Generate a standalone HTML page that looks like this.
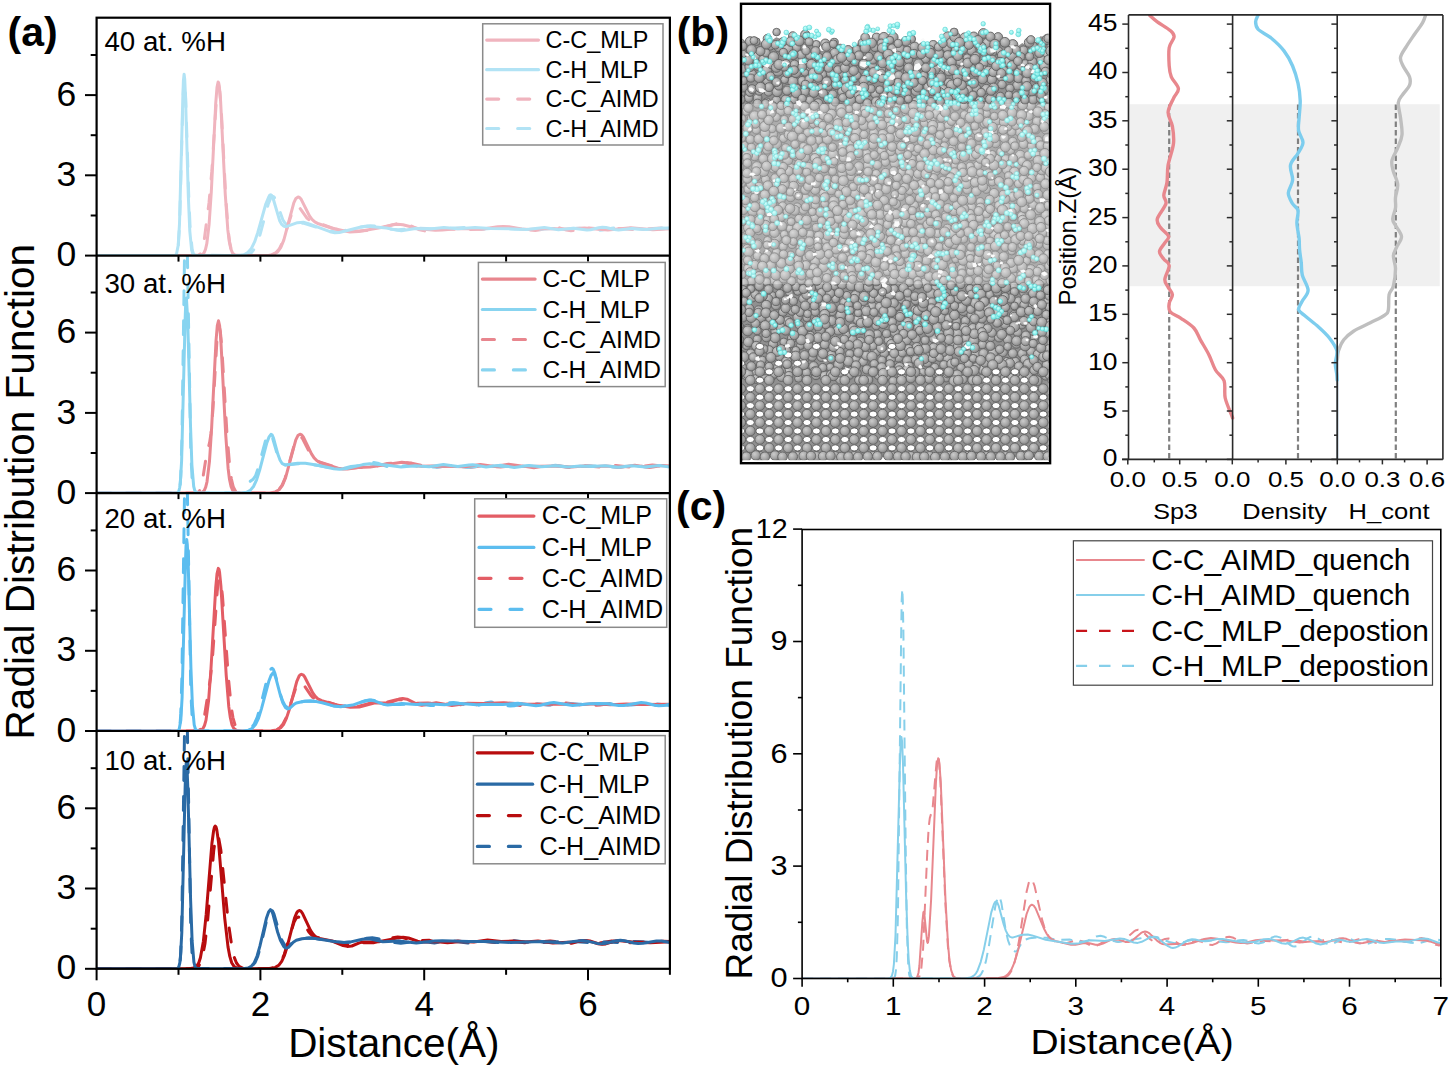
<!DOCTYPE html><html><head><meta charset="utf-8"><style>html,body{margin:0;padding:0;background:#fff;width:1450px;height:1068px;overflow:hidden}svg{display:block}</style></head><body><svg width="1450" height="1068" viewBox="0 0 1450 1068" font-family='"Liberation Sans", sans-serif'>
<rect width="1450" height="1068" fill="#fff"/>
<g id="pb">
<defs><radialGradient id="ga" cx="0.38" cy="0.35" r="0.72"><stop offset="0" stop-color="#cccccc"/><stop offset="0.55" stop-color="#a8a8a8"/><stop offset="1" stop-color="#7e7e7e"/></radialGradient><radialGradient id="gh" cx="0.4" cy="0.35" r="0.7"><stop offset="0" stop-color="#c8fffc"/><stop offset="1" stop-color="#6ee6e2"/></radialGradient></defs>
<clipPath id="cm"><rect x="742.3" y="5.0" width="306.3" height="456"/></clipPath>
<g clip-path="url(#cm)">
<path d="M740.3,457.0 L740.3,44.4 L746.3,45.3 L752.3,47.5 L758.3,42.8 L764.3,41.9 L770.3,41.3 L776.3,37.3 L782.3,39.6 L788.3,41 L794.3,43.3 L800.3,39.3 L806.3,42.9 L812.3,43.2 L818.3,50.6 L824.3,50.9 L830.3,46.2 L836.3,53.5 L842.3,52.4 L848.3,48.4 L854.3,46.4 L860.3,41 L866.3,38.5 L872.3,41.7 L878.3,37.7 L884.3,39.1 L890.3,40.5 L896.3,40 L902.3,44.7 L908.3,45.5 L914.3,49.3 L920.3,46.6 L926.3,46.8 L932.3,44.3 L938.3,43.8 L944.3,40.2 L950.3,36.9 L956.3,41.2 L962.3,40.3 L968.3,39 L974.3,38.5 L980.3,36.6 L986.3,37.6 L992.3,39.8 L998.3,39.6 L1004.3,46.3 L1010.3,43.9 L1016.3,47.3 L1022.3,42.9 L1028.3,46.4 L1034.3,44.2 L1040.3,36.3 L1046.3,37.1 L1052.3,42.5 L1056.6,457.0 Z" fill="#909090"/>
<g fill="url(#ga)" stroke="#636363" stroke-width="0.9"><circle cx="902.1" cy="377.2" r="5.1"/><circle cx="806.5" cy="378.8" r="4.3"/><circle cx="833.1" cy="105.9" r="4.5"/><circle cx="909.5" cy="190" r="4.8"/><circle cx="810.5" cy="335.2" r="4"/><circle cx="1050.6" cy="320.3" r="4.4"/><circle cx="924.8" cy="283" r="5.1"/><circle cx="986.2" cy="189.1" r="4.3"/><circle cx="802.2" cy="81.1" r="4.7"/><circle cx="926.4" cy="260.6" r="4.7"/><circle cx="872.4" cy="65.3" r="4.1"/><circle cx="826" cy="226.3" r="4"/><circle cx="889.8" cy="295" r="4.5"/><circle cx="963.5" cy="310.5" r="5.1"/><circle cx="958.6" cy="298.1" r="4.9"/><circle cx="933.2" cy="44.6" r="4.1"/><circle cx="995.6" cy="143.1" r="4.7"/><circle cx="887.1" cy="309.1" r="4.9"/><circle cx="855.6" cy="295.5" r="5"/><circle cx="987.3" cy="234.7" r="4.1"/><circle cx="894.8" cy="163.3" r="4.8"/><circle cx="855.8" cy="359.5" r="4.5"/><circle cx="758.3" cy="243" r="4.2"/><circle cx="1047.9" cy="177.2" r="4.3"/><circle cx="984.5" cy="123.3" r="4.4"/><circle cx="857.6" cy="319.5" r="4.9"/><circle cx="822.4" cy="373.7" r="5.1"/><circle cx="857.4" cy="373.3" r="4"/><circle cx="899.4" cy="66.2" r="4.3"/><circle cx="920.3" cy="158.2" r="4.4"/><circle cx="1005.2" cy="247.2" r="4.3"/><circle cx="867.7" cy="91.9" r="4.6"/><circle cx="913.1" cy="137.6" r="5.1"/><circle cx="910.2" cy="316.1" r="4.8"/><circle cx="863.9" cy="125.3" r="5"/><circle cx="970.7" cy="271.5" r="4.3"/><circle cx="1030.6" cy="105.5" r="4.9"/><circle cx="1011.3" cy="193.9" r="4.9"/><circle cx="806.9" cy="258" r="4.6"/><circle cx="864.7" cy="141.3" r="4.1"/><circle cx="894.1" cy="288.7" r="4.2"/><circle cx="864.7" cy="362.5" r="4.4"/><circle cx="1038.2" cy="140.7" r="4.5"/><circle cx="1023.4" cy="50.4" r="4.5"/><circle cx="816.2" cy="44.4" r="4"/><circle cx="989.8" cy="370.8" r="5.1"/><circle cx="921.7" cy="184.4" r="5.1"/><circle cx="750.3" cy="139.3" r="4.4"/><circle cx="739.3" cy="254.1" r="4.3"/><circle cx="868.4" cy="165.4" r="5.1"/><circle cx="1024.2" cy="292.4" r="4.7"/><circle cx="877.2" cy="334.2" r="4.4"/><circle cx="774.8" cy="280.3" r="5"/><circle cx="776.8" cy="237.6" r="5.1"/><circle cx="860.8" cy="235.2" r="4.7"/><circle cx="1004.4" cy="218.7" r="4.5"/><circle cx="925.6" cy="176.3" r="5.2"/><circle cx="916.3" cy="90.9" r="5.1"/><circle cx="928" cy="212.6" r="4.7"/><circle cx="814.6" cy="217.6" r="4.1"/><circle cx="853.8" cy="78" r="4.9"/><circle cx="1034.5" cy="336.9" r="4.1"/><circle cx="756.4" cy="58.6" r="4.3"/><circle cx="1048.4" cy="107.7" r="4.7"/><circle cx="997.4" cy="374.2" r="4.3"/><circle cx="1005.8" cy="159.3" r="4.6"/><circle cx="930.1" cy="156.9" r="5.1"/><circle cx="1017.4" cy="85.4" r="4.8"/><circle cx="899.7" cy="49.1" r="5.1"/><circle cx="910.7" cy="286.4" r="4.9"/><circle cx="994.7" cy="234.7" r="5"/><circle cx="782.2" cy="130.2" r="4.6"/><circle cx="967.3" cy="189.6" r="4.5"/><circle cx="945.6" cy="296.6" r="4.4"/><circle cx="849.7" cy="353.8" r="4.1"/><circle cx="758.9" cy="187" r="4.9"/><circle cx="773" cy="201.9" r="4.3"/><circle cx="786.1" cy="64" r="4.5"/><circle cx="855" cy="61.1" r="4.9"/><circle cx="1015.2" cy="361.7" r="4.5"/><circle cx="940.7" cy="192.5" r="4.2"/><circle cx="804.9" cy="72.2" r="4"/><circle cx="816.6" cy="152.6" r="4.7"/><circle cx="1050.2" cy="333.8" r="4.7"/><circle cx="954" cy="219.8" r="4.5"/><circle cx="1016.5" cy="343.6" r="4.7"/><circle cx="1045.9" cy="375.6" r="4.6"/><circle cx="823.3" cy="115.4" r="4.3"/><circle cx="1013.9" cy="286.9" r="4.8"/><circle cx="1022.2" cy="353.6" r="4.6"/><circle cx="1006.9" cy="361.7" r="4.3"/><circle cx="1030.7" cy="269.8" r="5.2"/><circle cx="908.3" cy="125.5" r="5.1"/><circle cx="827.3" cy="178.6" r="4"/><circle cx="890.9" cy="74.3" r="5"/><circle cx="986.2" cy="137.9" r="4.7"/><circle cx="851.8" cy="206" r="4.4"/><circle cx="818.5" cy="140.3" r="4.1"/><circle cx="1017.8" cy="164.5" r="4.8"/><circle cx="749.2" cy="308.8" r="4.8"/><circle cx="957.4" cy="76.6" r="5"/><circle cx="791" cy="167.5" r="4"/><circle cx="1046.9" cy="54.9" r="4.7"/><circle cx="870.1" cy="248.8" r="5.2"/><circle cx="1033.1" cy="99.5" r="4.6"/><circle cx="998.4" cy="50.9" r="4.3"/><circle cx="775.8" cy="331" r="5"/><circle cx="760.8" cy="317.3" r="5.1"/><circle cx="977.7" cy="165.4" r="4.3"/><circle cx="884.2" cy="353.2" r="4.5"/><circle cx="966.1" cy="77.6" r="4"/><circle cx="825.2" cy="43.6" r="4.6"/><circle cx="848" cy="369.7" r="4.5"/><circle cx="799.5" cy="325" r="4.3"/><circle cx="914.4" cy="205.1" r="4.2"/><circle cx="986.6" cy="113.5" r="4"/><circle cx="740.3" cy="263.1" r="4.6"/><circle cx="921.5" cy="219.1" r="5.1"/><circle cx="775.8" cy="153.6" r="4.7"/><circle cx="790" cy="228.5" r="4"/><circle cx="765.6" cy="179.4" r="4.3"/><circle cx="755.9" cy="176.4" r="4.8"/><circle cx="1033.1" cy="173.1" r="4.9"/><circle cx="766" cy="136.3" r="4.3"/><circle cx="870.3" cy="254.1" r="4.7"/><circle cx="897.7" cy="56.1" r="4.9"/><circle cx="962.5" cy="70.5" r="4.8"/><circle cx="792.7" cy="35.9" r="4.2"/><circle cx="1031.1" cy="351.5" r="4.5"/><circle cx="1013.9" cy="315.2" r="4.6"/><circle cx="810.3" cy="300.1" r="5.2"/><circle cx="773" cy="343.8" r="4.6"/><circle cx="806.5" cy="372.5" r="4.3"/><circle cx="965.4" cy="320.8" r="4.4"/><circle cx="1041" cy="301.5" r="5.2"/><circle cx="780.9" cy="110.7" r="4.9"/><circle cx="1018.1" cy="72.3" r="4.2"/><circle cx="991.8" cy="79.5" r="4.7"/><circle cx="831.2" cy="355.3" r="4.9"/><circle cx="858.3" cy="95.1" r="4.9"/><circle cx="1033.4" cy="330.8" r="4.8"/><circle cx="1048.8" cy="266" r="4.1"/><circle cx="980.3" cy="201.8" r="4.3"/><circle cx="941.1" cy="302.1" r="4.4"/><circle cx="1019" cy="131.7" r="4.4"/><circle cx="800.5" cy="345.6" r="4"/><circle cx="741.1" cy="314.3" r="5.1"/><circle cx="751.4" cy="281" r="4.1"/><circle cx="850.6" cy="99.9" r="5.1"/><circle cx="858.7" cy="259.9" r="4.5"/><circle cx="797.3" cy="259.4" r="4.5"/><circle cx="893" cy="280.4" r="4.6"/><circle cx="743.7" cy="145.7" r="4.6"/><circle cx="750.2" cy="52.3" r="4.1"/><circle cx="955.6" cy="258.9" r="4"/><circle cx="997.1" cy="158.5" r="4.3"/><circle cx="973.8" cy="36.5" r="4.5"/><circle cx="756.3" cy="41.7" r="3.9"/><circle cx="788.4" cy="371.5" r="4.4"/><circle cx="875.6" cy="351.5" r="5.1"/><circle cx="840" cy="51.2" r="4.6"/><circle cx="882.5" cy="94" r="4.9"/><circle cx="772.9" cy="134.3" r="4.9"/><circle cx="997.3" cy="169.8" r="4.5"/><circle cx="1053.1" cy="166.5" r="4.1"/><circle cx="987.6" cy="122.3" r="5"/><circle cx="947.4" cy="229" r="4.9"/><circle cx="1020.2" cy="155.3" r="5.1"/><circle cx="812.2" cy="356.9" r="4.3"/><circle cx="988.4" cy="143.3" r="4.8"/><circle cx="823.6" cy="193.4" r="4.7"/><circle cx="837.4" cy="117.8" r="4.3"/><circle cx="954.6" cy="165.1" r="4.6"/><circle cx="1030.4" cy="221.1" r="4.6"/><circle cx="741.4" cy="183.3" r="4.1"/><circle cx="939.4" cy="238.2" r="5.2"/><circle cx="872.1" cy="104.9" r="4.8"/><circle cx="866.8" cy="269.1" r="4"/><circle cx="850" cy="115.2" r="4.2"/><circle cx="1036.6" cy="280" r="4.6"/><circle cx="921.6" cy="107.8" r="4.8"/><circle cx="1038.8" cy="244.6" r="4"/><circle cx="966.1" cy="338.8" r="4.8"/><circle cx="970.1" cy="166.4" r="4.3"/><circle cx="947.8" cy="358.5" r="5.1"/><circle cx="768.8" cy="212.4" r="4.3"/><circle cx="1017.5" cy="332.1" r="4.5"/><circle cx="816.4" cy="345.2" r="4.6"/><circle cx="797.7" cy="291.4" r="4"/><circle cx="924.8" cy="123.1" r="4.5"/><circle cx="1037.4" cy="155.2" r="4.2"/><circle cx="825.5" cy="240.4" r="4.3"/><circle cx="772" cy="295.8" r="4.1"/><circle cx="942.9" cy="351.8" r="5.1"/><circle cx="842.2" cy="197.9" r="4.5"/><circle cx="815.3" cy="260.6" r="5"/><circle cx="863.1" cy="361.7" r="4.4"/><circle cx="776.3" cy="184.1" r="4.5"/><circle cx="769.3" cy="350.1" r="4.4"/><circle cx="869.1" cy="197.2" r="4.7"/><circle cx="998.3" cy="228.2" r="5"/><circle cx="780.6" cy="327.1" r="4.7"/><circle cx="768" cy="298.7" r="4.7"/><circle cx="742.6" cy="72.7" r="4.7"/><circle cx="796.5" cy="47.3" r="4.5"/><circle cx="849.9" cy="143" r="4.6"/><circle cx="1008.1" cy="61.8" r="4.9"/><circle cx="803.1" cy="298.7" r="4.5"/><circle cx="1011.7" cy="131.8" r="4.3"/><circle cx="818.2" cy="103.5" r="4.8"/><circle cx="879.8" cy="222.5" r="4.2"/><circle cx="923.6" cy="207.7" r="4.4"/><circle cx="747.2" cy="248.9" r="4.5"/><circle cx="881.9" cy="360.3" r="4.2"/><circle cx="971.4" cy="315" r="4.6"/><circle cx="948.7" cy="82.5" r="4.3"/><circle cx="1047.2" cy="364.9" r="5.1"/><circle cx="1014.4" cy="291.8" r="4.1"/><circle cx="805.2" cy="34.6" r="4.6"/><circle cx="909.5" cy="258.9" r="5"/><circle cx="1004" cy="312.7" r="4"/><circle cx="977.7" cy="234.4" r="4.7"/><circle cx="990.1" cy="241.2" r="4.1"/><circle cx="809.8" cy="100.4" r="4.4"/><circle cx="927.1" cy="362.3" r="4.8"/><circle cx="1012.8" cy="44.6" r="5"/><circle cx="969.9" cy="140.2" r="4.2"/><circle cx="837.2" cy="236.2" r="4.6"/><circle cx="861.9" cy="213.3" r="5.1"/><circle cx="971.4" cy="97.8" r="4"/><circle cx="982.4" cy="369.3" r="4.9"/><circle cx="878.3" cy="375.1" r="4.4"/><circle cx="803.1" cy="64.2" r="4.9"/><circle cx="779.9" cy="293.9" r="4.4"/><circle cx="813.6" cy="366.4" r="4.8"/><circle cx="925.6" cy="58.9" r="4.3"/><circle cx="782.1" cy="226.1" r="4.9"/><circle cx="833.9" cy="201.1" r="5.1"/><circle cx="944.5" cy="138.3" r="4.5"/><circle cx="970.6" cy="309.4" r="4.2"/><circle cx="763.8" cy="376.7" r="4.7"/><circle cx="1007.7" cy="339.4" r="4.6"/><circle cx="776" cy="305.3" r="4.6"/><circle cx="743.2" cy="282.9" r="5.1"/><circle cx="997.1" cy="380.2" r="4.3"/><circle cx="973.7" cy="340.7" r="5.1"/><circle cx="905.4" cy="253.6" r="4.5"/><circle cx="943.2" cy="89.1" r="4.4"/><circle cx="1052.8" cy="337.9" r="4.6"/><circle cx="1030.3" cy="156" r="5"/><circle cx="820.9" cy="88.2" r="4.6"/><circle cx="880.2" cy="214.5" r="4.8"/><circle cx="756.9" cy="166.8" r="5.2"/><circle cx="1000" cy="98.8" r="4.8"/><circle cx="882.8" cy="134.6" r="5.2"/><circle cx="876.1" cy="325.6" r="4.3"/><circle cx="1031.9" cy="90.7" r="5.2"/><circle cx="887.4" cy="271.5" r="4.3"/><circle cx="792.8" cy="81.4" r="5.2"/><circle cx="939.6" cy="160.8" r="4.2"/><circle cx="1037" cy="380.8" r="5.1"/><circle cx="834.6" cy="285.8" r="4.2"/><circle cx="911.7" cy="159" r="4.5"/><circle cx="898.5" cy="357.1" r="5"/><circle cx="848" cy="130.8" r="4.5"/><circle cx="914.6" cy="46.8" r="4.8"/><circle cx="757.1" cy="330.7" r="4.2"/><circle cx="842.1" cy="147.3" r="4.3"/><circle cx="1053.2" cy="112.6" r="4.8"/><circle cx="929.9" cy="246.3" r="4.1"/><circle cx="961.7" cy="167.1" r="4.6"/><circle cx="1035.1" cy="77.4" r="4.8"/><circle cx="902.8" cy="86.2" r="4.7"/><circle cx="742.4" cy="235" r="4.6"/><circle cx="775.1" cy="337.8" r="5"/><circle cx="804.8" cy="91.5" r="4.7"/><circle cx="939.9" cy="92.3" r="4.7"/><circle cx="793.8" cy="178.8" r="5.1"/><circle cx="839.6" cy="73.9" r="4.8"/><circle cx="801.1" cy="181.8" r="4.4"/><circle cx="739.2" cy="172.8" r="4.9"/><circle cx="893.2" cy="157.7" r="4.6"/><circle cx="983.8" cy="63.1" r="4.3"/><circle cx="975.8" cy="353.9" r="5"/><circle cx="991" cy="337" r="4.7"/><circle cx="897" cy="106.8" r="4.7"/><circle cx="947.7" cy="36.5" r="4.7"/><circle cx="752.8" cy="211.2" r="5.1"/><circle cx="954" cy="210.4" r="5.1"/><circle cx="815.9" cy="169.3" r="4.1"/><circle cx="962.7" cy="218.3" r="4"/><circle cx="766.2" cy="305.3" r="5"/><circle cx="963.8" cy="105.4" r="4.2"/><circle cx="998.7" cy="237.6" r="4.5"/><circle cx="903.9" cy="229.1" r="4.4"/><circle cx="824.8" cy="344.5" r="4.6"/><circle cx="861.4" cy="120.5" r="4.5"/><circle cx="840.6" cy="315.3" r="5"/><circle cx="950.6" cy="344.8" r="4.9"/><circle cx="739.7" cy="106" r="4.2"/><circle cx="1018.5" cy="301.7" r="4.8"/><circle cx="834.2" cy="42.4" r="4.1"/><circle cx="1041" cy="98.5" r="4.5"/><circle cx="1047.6" cy="245.1" r="4.7"/><circle cx="899.6" cy="367.5" r="5.1"/><circle cx="1014.5" cy="306" r="4"/><circle cx="853.4" cy="244" r="4.9"/><circle cx="801.3" cy="280.1" r="4.3"/><circle cx="877.5" cy="320.9" r="4.9"/><circle cx="898.9" cy="243" r="4.4"/><circle cx="971.6" cy="207.4" r="4.7"/><circle cx="851.8" cy="338.9" r="5"/><circle cx="766.9" cy="273.3" r="4.5"/><circle cx="905.1" cy="221.9" r="5"/><circle cx="1021.5" cy="215.7" r="4.2"/><circle cx="992.3" cy="52.5" r="4.3"/><circle cx="861.3" cy="329.9" r="4.5"/><circle cx="989.8" cy="294.5" r="4.2"/><circle cx="762.3" cy="360.1" r="4"/><circle cx="955.3" cy="48.6" r="4.2"/><circle cx="896.2" cy="249.4" r="4.6"/><circle cx="834.9" cy="323.3" r="4.1"/><circle cx="961.7" cy="307.8" r="5.1"/><circle cx="971.1" cy="69" r="5"/><circle cx="1036.7" cy="65.4" r="4.2"/><circle cx="969.2" cy="89.3" r="4.1"/><circle cx="958" cy="124.2" r="4.5"/><circle cx="872.9" cy="144.6" r="4.6"/><circle cx="876.2" cy="173.8" r="4.3"/><circle cx="776.2" cy="117.3" r="4.2"/><circle cx="767.4" cy="254" r="4.3"/><circle cx="827.7" cy="235.1" r="5.2"/><circle cx="944.1" cy="196.7" r="4.7"/><circle cx="815.3" cy="205.2" r="4.2"/><circle cx="837.8" cy="70" r="4.3"/><circle cx="1047.8" cy="253.9" r="4.1"/><circle cx="788.5" cy="171.1" r="4.7"/><circle cx="763.6" cy="171.4" r="5.1"/><circle cx="1009.7" cy="363.2" r="4.8"/><circle cx="964.4" cy="328" r="4.9"/><circle cx="776.4" cy="100.3" r="4.5"/><circle cx="976.5" cy="88.4" r="4.4"/><circle cx="781.1" cy="371.1" r="4.4"/><circle cx="1000.6" cy="128.1" r="5.1"/><circle cx="1011.8" cy="251" r="4"/><circle cx="813.5" cy="123.8" r="4.2"/><circle cx="1049" cy="93.8" r="4.3"/><circle cx="1024.8" cy="126.4" r="5.2"/><circle cx="866.5" cy="75.9" r="5"/><circle cx="777.6" cy="284.7" r="4.8"/><circle cx="860.5" cy="342.1" r="5"/><circle cx="781.4" cy="376.7" r="4.8"/><circle cx="971.5" cy="111.4" r="4.1"/><circle cx="938.9" cy="377.8" r="4.9"/><circle cx="768.5" cy="91.9" r="4.3"/><circle cx="901.7" cy="172.3" r="4.5"/><circle cx="961.4" cy="248.6" r="4.7"/><circle cx="954" cy="244.1" r="4.5"/><circle cx="832.9" cy="258.9" r="4.7"/><circle cx="778.9" cy="47.1" r="4.9"/><circle cx="901.3" cy="267" r="4.9"/><circle cx="1009.1" cy="72.8" r="4.5"/><circle cx="899.3" cy="124.4" r="5"/><circle cx="952.5" cy="233.2" r="4.6"/><circle cx="907.4" cy="360.7" r="4.9"/><circle cx="783.8" cy="342" r="4"/><circle cx="1010.4" cy="164.8" r="5.2"/><circle cx="920.6" cy="233.8" r="4.5"/><circle cx="938.1" cy="107.2" r="4.6"/><circle cx="833.6" cy="206" r="5.1"/><circle cx="968" cy="154.2" r="4.9"/><circle cx="888.5" cy="120.1" r="4.1"/><circle cx="837" cy="275.4" r="4.3"/><circle cx="759" cy="275.9" r="4.4"/><circle cx="899.9" cy="261.4" r="4.3"/><circle cx="811.1" cy="118.6" r="4.9"/><circle cx="1015.7" cy="179.6" r="4.2"/><circle cx="827.4" cy="139.1" r="5.1"/><circle cx="946.8" cy="105.7" r="4.3"/><circle cx="808.3" cy="345.5" r="4.6"/><circle cx="824.7" cy="203.8" r="4"/><circle cx="980.1" cy="269.1" r="4.3"/><circle cx="880.9" cy="179.6" r="4.8"/><circle cx="757.2" cy="155.1" r="5"/><circle cx="1031.5" cy="178.2" r="4.3"/><circle cx="809.9" cy="234.2" r="4.1"/><circle cx="843.4" cy="186.9" r="5.2"/><circle cx="763.9" cy="369.9" r="5.1"/><circle cx="987.7" cy="218.3" r="4.1"/><circle cx="1032.7" cy="304.2" r="4.9"/><circle cx="1035.8" cy="234.2" r="4.3"/><circle cx="776.4" cy="252.4" r="4.1"/><circle cx="872.8" cy="346" r="4.2"/><circle cx="916.7" cy="176.8" r="4.3"/><circle cx="1005" cy="324.1" r="4.8"/><circle cx="943.3" cy="69.7" r="4.8"/><circle cx="1024.6" cy="359.4" r="4.4"/><circle cx="869.5" cy="183.5" r="5"/><circle cx="1043.4" cy="232" r="4.7"/><circle cx="1040.6" cy="145.4" r="4.6"/><circle cx="773.3" cy="168.9" r="4.1"/><circle cx="787.7" cy="160" r="5.1"/><circle cx="783.4" cy="138.2" r="4.3"/><circle cx="900.5" cy="196.2" r="4.6"/><circle cx="763.4" cy="197.1" r="4.5"/><circle cx="1036.5" cy="87.6" r="4.3"/><circle cx="940" cy="75.1" r="4.4"/><circle cx="905.8" cy="139" r="4.1"/><circle cx="1025.2" cy="345.7" r="5.2"/><circle cx="1023.5" cy="144" r="4.6"/><circle cx="795.5" cy="124.8" r="4.4"/><circle cx="940.5" cy="126.9" r="4.8"/><circle cx="862.6" cy="42.9" r="4.5"/><circle cx="933.6" cy="347.6" r="4.6"/><circle cx="1019.7" cy="376.1" r="4.6"/><circle cx="968.9" cy="280.3" r="4.3"/><circle cx="967.1" cy="57.8" r="4"/><circle cx="936.2" cy="261.7" r="4.1"/><circle cx="799.1" cy="218.8" r="4.4"/><circle cx="909.3" cy="282.4" r="4.1"/><circle cx="918.1" cy="327.8" r="4.4"/><circle cx="915.4" cy="151.3" r="4.4"/><circle cx="935.1" cy="69" r="5.1"/><circle cx="982.4" cy="344.6" r="4.3"/><circle cx="968.6" cy="364.3" r="4.4"/><circle cx="966.4" cy="70.9" r="4.5"/><circle cx="909.9" cy="84.2" r="5.1"/><circle cx="988.2" cy="307.6" r="5.1"/><circle cx="742.6" cy="317" r="5.1"/><circle cx="757.2" cy="244.7" r="4.9"/><circle cx="830" cy="72.7" r="4.3"/><circle cx="1032.8" cy="46.1" r="4.5"/><circle cx="978.7" cy="112.6" r="4.9"/><circle cx="738.9" cy="326.5" r="4.8"/><circle cx="812.9" cy="146.4" r="5.1"/><circle cx="755.4" cy="323.4" r="4.4"/><circle cx="1009.9" cy="88.3" r="4.2"/><circle cx="873.3" cy="110.5" r="4.7"/><circle cx="1013.5" cy="276.3" r="4.8"/><circle cx="955.7" cy="159.8" r="4.3"/><circle cx="873.2" cy="180.3" r="5"/><circle cx="859.2" cy="196.9" r="4.9"/><circle cx="937.6" cy="233.4" r="4.3"/><circle cx="993.6" cy="283.2" r="5.1"/><circle cx="1004" cy="70.6" r="4.1"/><circle cx="900.3" cy="314.8" r="4.4"/><circle cx="798.9" cy="129.6" r="4.4"/><circle cx="1007.7" cy="126.5" r="4.6"/><circle cx="741.5" cy="138" r="4.4"/><circle cx="1028.4" cy="120.6" r="4.1"/><circle cx="797.7" cy="227.6" r="5.1"/><circle cx="759.5" cy="121.2" r="4.3"/><circle cx="846.7" cy="334.5" r="4"/><circle cx="896.7" cy="256.2" r="4.4"/><circle cx="766.6" cy="70.3" r="5.1"/><circle cx="755.7" cy="190.5" r="5"/><circle cx="1020.8" cy="56.8" r="4.1"/><circle cx="807.5" cy="132.6" r="4.1"/><circle cx="772.9" cy="204.4" r="4"/><circle cx="858.7" cy="267.6" r="4.4"/><circle cx="1028.2" cy="155.1" r="4.2"/><circle cx="872.8" cy="60" r="4.1"/><circle cx="987.3" cy="43" r="4.9"/><circle cx="789.2" cy="134.6" r="5.1"/><circle cx="820.2" cy="329.8" r="4.9"/><circle cx="931.6" cy="71.3" r="4.4"/><circle cx="784.6" cy="79.6" r="4"/><circle cx="785.7" cy="330.4" r="4.8"/><circle cx="800.9" cy="247.5" r="5"/><circle cx="796.2" cy="156.4" r="4.4"/><circle cx="1022" cy="161.3" r="4.3"/><circle cx="818.4" cy="122.6" r="4.5"/><circle cx="934.8" cy="289.3" r="5"/><circle cx="763.9" cy="349" r="4.1"/><circle cx="961.5" cy="268.5" r="4.1"/><circle cx="1028.1" cy="281.3" r="4.2"/><circle cx="873.3" cy="78.4" r="5.1"/><circle cx="972.9" cy="328.4" r="4.9"/><circle cx="897.5" cy="221.6" r="4.8"/><circle cx="944.2" cy="146.3" r="4.4"/><circle cx="802" cy="242.8" r="4.8"/><circle cx="983.9" cy="153.1" r="4.9"/><circle cx="931.9" cy="207.3" r="4.9"/><circle cx="933.6" cy="191.1" r="4.6"/><circle cx="996.1" cy="262.7" r="4.8"/><circle cx="1053.2" cy="66.1" r="4.2"/><circle cx="1033.1" cy="204.7" r="4.4"/><circle cx="912.9" cy="274" r="5"/><circle cx="849.1" cy="108.9" r="4"/><circle cx="845.7" cy="255.7" r="4.9"/><circle cx="881.6" cy="70.2" r="4.1"/><circle cx="905.9" cy="112.3" r="4.1"/><circle cx="766.5" cy="281.9" r="4.1"/><circle cx="792.4" cy="136.3" r="5.2"/><circle cx="1032" cy="243" r="4.8"/><circle cx="934.8" cy="367.4" r="4.2"/><circle cx="881.6" cy="151" r="4.6"/><circle cx="739.5" cy="372.3" r="4.7"/><circle cx="1051.4" cy="234.2" r="5.1"/><circle cx="925" cy="93.7" r="4.9"/><circle cx="831.4" cy="189.9" r="4.9"/><circle cx="946.3" cy="377.2" r="4.8"/><circle cx="993.7" cy="211" r="4.6"/><circle cx="814.9" cy="158.2" r="4.7"/><circle cx="1053.3" cy="185.9" r="4.2"/><circle cx="843" cy="204.4" r="4.1"/><circle cx="935.5" cy="170.9" r="4.8"/><circle cx="1038.9" cy="198.3" r="5.1"/><circle cx="917.8" cy="87" r="5.1"/><circle cx="909.2" cy="366.2" r="4.1"/><circle cx="996.6" cy="198.8" r="4.3"/><circle cx="956.7" cy="321" r="4.1"/><circle cx="1052.1" cy="261.8" r="5.2"/><circle cx="858.4" cy="170.3" r="4.3"/><circle cx="801.4" cy="122.4" r="4.2"/><circle cx="875.4" cy="93.9" r="4.6"/><circle cx="963.2" cy="260.3" r="5"/><circle cx="916.9" cy="66.8" r="5.2"/><circle cx="737.6" cy="244.4" r="5.1"/><circle cx="896.2" cy="110.7" r="4.1"/><circle cx="754.6" cy="197.6" r="4.4"/><circle cx="905.6" cy="108.5" r="5.2"/><circle cx="895.8" cy="227" r="4.7"/><circle cx="842.1" cy="284.5" r="4.8"/><circle cx="866.5" cy="153.6" r="4.5"/><circle cx="925.9" cy="355.4" r="4.4"/><circle cx="971.5" cy="50.5" r="4.7"/><circle cx="983.3" cy="33.5" r="4.9"/><circle cx="781.3" cy="217" r="4.5"/><circle cx="867.5" cy="258.9" r="4.7"/><circle cx="868" cy="158.5" r="4.8"/><circle cx="1008.8" cy="94.9" r="4"/><circle cx="832.9" cy="48.4" r="4.7"/><circle cx="942.5" cy="59" r="4.1"/><circle cx="1050.9" cy="50.9" r="5.2"/><circle cx="987.8" cy="247.4" r="4.1"/><circle cx="888.9" cy="180.7" r="4.3"/><circle cx="832.5" cy="171.3" r="4.1"/><circle cx="917" cy="189.8" r="4.6"/><circle cx="999.1" cy="337.3" r="4.7"/><circle cx="751.4" cy="147.4" r="4.1"/><circle cx="925.2" cy="320.2" r="4.6"/><circle cx="919.7" cy="330.5" r="4.3"/><circle cx="881" cy="73.7" r="4.6"/><circle cx="739.1" cy="375.7" r="4.7"/><circle cx="748.5" cy="252" r="5"/><circle cx="920.1" cy="228.2" r="4.1"/><circle cx="741" cy="93.6" r="4.1"/><circle cx="767.1" cy="220" r="4.2"/><circle cx="980.3" cy="100.9" r="5"/><circle cx="799.5" cy="164" r="5"/><circle cx="920.6" cy="252.2" r="4.2"/><circle cx="948.3" cy="125.2" r="4.2"/><circle cx="841.9" cy="344.6" r="5.1"/><circle cx="991.9" cy="332.7" r="4.5"/><circle cx="792.2" cy="338.1" r="4.7"/><circle cx="888.5" cy="340.3" r="4.4"/><circle cx="759.3" cy="285.9" r="4.7"/><circle cx="831.5" cy="114.1" r="4.9"/><circle cx="794.5" cy="64.4" r="4.3"/><circle cx="923.7" cy="100.1" r="4.7"/><circle cx="748.7" cy="97.8" r="4.5"/><circle cx="960.6" cy="155.5" r="4.5"/><circle cx="810.4" cy="244.5" r="4.4"/><circle cx="952.3" cy="266.7" r="4"/><circle cx="992.3" cy="154.4" r="4"/><circle cx="978.1" cy="270.8" r="4.6"/><circle cx="940.2" cy="203.9" r="4.1"/><circle cx="810.3" cy="67.1" r="4.2"/><circle cx="774.4" cy="244.2" r="5"/><circle cx="795.8" cy="350.4" r="4"/><circle cx="924.5" cy="358.8" r="4.9"/><circle cx="741.6" cy="273.9" r="4.7"/><circle cx="908.5" cy="59.7" r="4.3"/><circle cx="899.9" cy="151.1" r="4.6"/><circle cx="779.5" cy="356.3" r="4.5"/><circle cx="1022.4" cy="219.9" r="4.6"/><circle cx="901.3" cy="146.1" r="4.8"/><circle cx="907.9" cy="132.6" r="4"/><circle cx="758.8" cy="138.9" r="4.9"/><circle cx="958.2" cy="180.7" r="5"/><circle cx="755.3" cy="262.6" r="4.2"/><circle cx="961" cy="367.7" r="4.2"/><circle cx="781.1" cy="200.1" r="4.2"/><circle cx="772.5" cy="375.9" r="4.2"/><circle cx="907" cy="54.3" r="4.9"/><circle cx="826.4" cy="46.7" r="4.6"/><circle cx="908.5" cy="71.3" r="5"/><circle cx="828.6" cy="85.9" r="4.5"/><circle cx="1007.3" cy="169.7" r="5.1"/><circle cx="915.6" cy="359.5" r="4.4"/><circle cx="770.3" cy="45.9" r="4.3"/><circle cx="758.6" cy="309.9" r="4.1"/><circle cx="783" cy="311.9" r="4.5"/><circle cx="964.4" cy="114.8" r="4.2"/><circle cx="1044.4" cy="89.6" r="4.8"/><circle cx="963.5" cy="91.4" r="4.8"/><circle cx="840.9" cy="130.9" r="4.5"/><circle cx="908.6" cy="297.8" r="4.3"/><circle cx="1014.4" cy="172" r="5"/><circle cx="967.1" cy="353" r="4.3"/><circle cx="840.2" cy="48.8" r="4.6"/><circle cx="998.1" cy="37.2" r="4.6"/><circle cx="840.5" cy="379.2" r="5"/><circle cx="959.6" cy="61.4" r="4.3"/><circle cx="797.6" cy="316.9" r="4.7"/><circle cx="838.3" cy="330.1" r="5"/><circle cx="1018.6" cy="183.6" r="4.3"/><circle cx="842.5" cy="91.5" r="4.9"/><circle cx="738.2" cy="151.3" r="4.4"/><circle cx="847.6" cy="363.4" r="4.1"/><circle cx="824.2" cy="108.1" r="4.8"/><circle cx="920.4" cy="272.4" r="4.7"/><circle cx="966.5" cy="373.3" r="5"/><circle cx="805.4" cy="110.6" r="4.7"/><circle cx="776.4" cy="143.8" r="5.1"/><circle cx="963.8" cy="99.3" r="4.4"/><circle cx="984.2" cy="52.2" r="4.2"/><circle cx="767" cy="149.6" r="4.6"/><circle cx="1018.3" cy="78.2" r="4.6"/><circle cx="808.4" cy="167.4" r="5.1"/><circle cx="737.6" cy="205.5" r="4.1"/><circle cx="1001.9" cy="364.7" r="5.2"/><circle cx="952.5" cy="253.3" r="4.8"/><circle cx="1049.6" cy="375.1" r="4.5"/><circle cx="1021.1" cy="275" r="4.2"/><circle cx="1037.7" cy="311.1" r="4.5"/><circle cx="976.3" cy="366.6" r="4"/><circle cx="1035.9" cy="75.1" r="4.4"/><circle cx="885.4" cy="162.1" r="4.2"/><circle cx="1001.2" cy="77.3" r="4.2"/><circle cx="891.8" cy="369.6" r="4"/><circle cx="856.7" cy="132.2" r="5"/><circle cx="787.8" cy="48.5" r="5"/><circle cx="931" cy="374.8" r="4.7"/><circle cx="1022.2" cy="244.9" r="4.2"/><circle cx="844.7" cy="302.6" r="5"/><circle cx="865.2" cy="37.4" r="4.4"/><circle cx="850.7" cy="270" r="4.8"/><circle cx="1013.5" cy="108.3" r="4.5"/><circle cx="988.5" cy="228.9" r="5.1"/><circle cx="983.5" cy="353.4" r="4.7"/><circle cx="915.1" cy="309.6" r="4.2"/><circle cx="875.3" cy="267.5" r="4.2"/><circle cx="784.3" cy="119.3" r="4"/><circle cx="863" cy="65.1" r="4.7"/><circle cx="1006.8" cy="371.5" r="4.7"/><circle cx="850.1" cy="200.4" r="4.6"/><circle cx="832.6" cy="163.1" r="4.8"/><circle cx="900.7" cy="299.7" r="4.4"/><circle cx="820.3" cy="59.2" r="4.7"/><circle cx="836.8" cy="253.9" r="4.3"/><circle cx="851.9" cy="212.3" r="4.2"/><circle cx="931.2" cy="293.8" r="5.2"/><circle cx="1002.9" cy="352.4" r="4.5"/><circle cx="803.5" cy="360.1" r="4.9"/><circle cx="792.1" cy="244.5" r="4.2"/><circle cx="876.5" cy="37.2" r="4.1"/><circle cx="768.4" cy="146.3" r="4.7"/><circle cx="990.4" cy="36.7" r="4.6"/><circle cx="1015.8" cy="373.5" r="4.2"/><circle cx="750" cy="41.4" r="4.7"/><circle cx="1054.2" cy="123.1" r="4.6"/><circle cx="851.9" cy="276.3" r="4.8"/><circle cx="1046.1" cy="215.2" r="5.1"/><circle cx="772" cy="128.7" r="4.2"/><circle cx="940.9" cy="317.9" r="5"/><circle cx="863.7" cy="80.3" r="4.9"/><circle cx="890.5" cy="65.6" r="4.9"/><circle cx="1049.4" cy="98.6" r="4.8"/><circle cx="916.5" cy="127.2" r="4.7"/><circle cx="879.4" cy="248.9" r="5.1"/><circle cx="907" cy="119.2" r="4.5"/><circle cx="1025.9" cy="335.6" r="4.6"/><circle cx="824.3" cy="132.9" r="4.2"/><circle cx="902.1" cy="157.4" r="4.4"/><circle cx="1012.8" cy="353.4" r="4.6"/><circle cx="827.1" cy="271.4" r="5.1"/><circle cx="975.1" cy="175.7" r="4.8"/><circle cx="975.1" cy="302.8" r="4.9"/><circle cx="790.6" cy="197.1" r="4.7"/><circle cx="1041.5" cy="60.3" r="4.9"/><circle cx="741" cy="228.1" r="5"/><circle cx="792.1" cy="310.8" r="4.5"/><circle cx="1031.1" cy="289.6" r="5.1"/><circle cx="1044.4" cy="66.2" r="4.9"/><circle cx="1016.5" cy="340.9" r="4.9"/><circle cx="915.7" cy="300.1" r="4.6"/><circle cx="804.4" cy="124.4" r="4.7"/><circle cx="1029.5" cy="198.7" r="4.6"/><circle cx="917.8" cy="259.7" r="4.7"/><circle cx="825.9" cy="154.4" r="4"/><circle cx="815.2" cy="311.9" r="4.2"/><circle cx="1040.2" cy="177.6" r="4.4"/><circle cx="797.4" cy="116.4" r="4.1"/><circle cx="951.4" cy="121.1" r="4.4"/><circle cx="900.9" cy="328" r="4"/><circle cx="922.6" cy="241.5" r="4.3"/><circle cx="1053.7" cy="376.7" r="4.1"/><circle cx="950" cy="350.3" r="5.1"/><circle cx="935" cy="265.2" r="4.3"/><circle cx="976.4" cy="191" r="4.8"/><circle cx="1016.7" cy="101.3" r="4.1"/><circle cx="802.5" cy="331.1" r="5"/><circle cx="766.7" cy="102.7" r="4.7"/><circle cx="913.7" cy="216.9" r="4.3"/><circle cx="754.8" cy="265" r="4.7"/><circle cx="882.1" cy="78.4" r="4.1"/><circle cx="742.6" cy="54.9" r="4.8"/><circle cx="913.7" cy="82.6" r="4.7"/><circle cx="782.6" cy="206" r="4.2"/><circle cx="1008.1" cy="238.8" r="5"/><circle cx="834.6" cy="52.9" r="4.6"/><circle cx="746.6" cy="376.1" r="4.2"/><circle cx="865" cy="145.8" r="4.3"/><circle cx="1001.7" cy="334.4" r="5"/><circle cx="793.4" cy="301.2" r="4.1"/><circle cx="795.7" cy="356.2" r="5.1"/><circle cx="930.6" cy="109.3" r="5"/><circle cx="961.6" cy="85.2" r="4.8"/><circle cx="824.2" cy="308.7" r="5.2"/><circle cx="740.5" cy="267.5" r="4.2"/><circle cx="995.4" cy="246.2" r="5"/><circle cx="830.1" cy="367.1" r="4"/><circle cx="756.2" cy="129.9" r="4.2"/><circle cx="845.3" cy="80.5" r="4.4"/><circle cx="931.6" cy="120.3" r="4.7"/><circle cx="786.2" cy="350.8" r="4.8"/><circle cx="872" cy="307" r="5.2"/><circle cx="926.3" cy="315.5" r="5.2"/><circle cx="952.5" cy="280.1" r="4.8"/><circle cx="824.7" cy="376.2" r="5.2"/><circle cx="818.1" cy="337.8" r="5.1"/><circle cx="970" cy="213.8" r="4.5"/><circle cx="948.3" cy="133.4" r="5.1"/><circle cx="851.1" cy="176.5" r="4.1"/><circle cx="754.7" cy="156.6" r="4.1"/><circle cx="902.2" cy="352.7" r="4.3"/><circle cx="945.4" cy="214.7" r="4"/><circle cx="992" cy="60.1" r="5"/><circle cx="746.5" cy="345.4" r="4.2"/><circle cx="883.9" cy="37.5" r="5.1"/><circle cx="1002.7" cy="164.4" r="4.5"/><circle cx="905.7" cy="208.3" r="4.3"/><circle cx="833.1" cy="154.3" r="5.2"/><circle cx="1012.7" cy="141.6" r="4.4"/><circle cx="894.8" cy="194.3" r="4"/><circle cx="889.7" cy="126.2" r="4.3"/><circle cx="914.7" cy="120.3" r="4.7"/><circle cx="748" cy="189.2" r="4.2"/><circle cx="933.6" cy="337.9" r="4.8"/><circle cx="842.8" cy="97.7" r="4.2"/><circle cx="860.3" cy="278.1" r="4"/><circle cx="868" cy="323.4" r="4.1"/><circle cx="918.5" cy="64" r="5.1"/><circle cx="832.1" cy="311.5" r="4.4"/><circle cx="943.8" cy="364.7" r="4.1"/><circle cx="855" cy="193.3" r="4.9"/><circle cx="849.4" cy="375.2" r="4.1"/><circle cx="809.5" cy="55.5" r="4"/><circle cx="853.4" cy="250.7" r="4.4"/><circle cx="880.7" cy="114.2" r="4.3"/><circle cx="1040.2" cy="269.1" r="4.8"/><circle cx="830" cy="331.6" r="4.7"/><circle cx="896.4" cy="306" r="4.6"/><circle cx="1025.6" cy="341.2" r="4.6"/><circle cx="818.6" cy="57" r="4.2"/><circle cx="767.3" cy="80.2" r="4.8"/><circle cx="805.6" cy="197.9" r="4.3"/><circle cx="887.4" cy="85.8" r="4.4"/><circle cx="911" cy="147.6" r="4.3"/><circle cx="1011.9" cy="65.5" r="4.8"/><circle cx="944.6" cy="310.6" r="4.2"/><circle cx="992.2" cy="182" r="4"/><circle cx="806.7" cy="172.2" r="4.1"/><circle cx="1019" cy="366.4" r="4.6"/><circle cx="1049" cy="348.7" r="4.2"/><circle cx="804.9" cy="157.2" r="5"/><circle cx="878.6" cy="56.4" r="4.9"/><circle cx="754" cy="40.6" r="4"/><circle cx="751.5" cy="118.6" r="4.1"/><circle cx="937.4" cy="141" r="4.6"/><circle cx="975.5" cy="72.2" r="4.7"/><circle cx="785.6" cy="308.2" r="4.7"/><circle cx="842.3" cy="173.6" r="4.6"/><circle cx="947" cy="48" r="4.5"/><circle cx="1013" cy="216.7" r="4.1"/><circle cx="790.8" cy="255.2" r="4.2"/><circle cx="775.5" cy="44.8" r="4.3"/><circle cx="770.4" cy="76.5" r="4.6"/><circle cx="948.7" cy="188.9" r="5.1"/><circle cx="885.6" cy="172.8" r="4.5"/><circle cx="960.8" cy="284.5" r="4.2"/><circle cx="904.1" cy="166.1" r="4.6"/><circle cx="836.3" cy="84.4" r="5.1"/><circle cx="1011.9" cy="55.3" r="5.2"/><circle cx="766.4" cy="337.4" r="4.5"/><circle cx="983.9" cy="70.9" r="5.2"/><circle cx="860.9" cy="187.5" r="4.7"/><circle cx="793.4" cy="186.4" r="5.1"/><circle cx="1010.5" cy="298.5" r="4.6"/><circle cx="931.9" cy="302.2" r="4.4"/><circle cx="898.6" cy="90.6" r="4.6"/><circle cx="1038.2" cy="354.3" r="5"/><circle cx="935.7" cy="147.3" r="5.1"/><circle cx="972.3" cy="156.1" r="4.8"/><circle cx="831.2" cy="358.7" r="4.2"/><circle cx="866.1" cy="355.4" r="4.6"/><circle cx="1024.1" cy="223.5" r="4.9"/><circle cx="934.8" cy="280.7" r="4.9"/><circle cx="906.2" cy="304.3" r="4.1"/><circle cx="939.4" cy="333.9" r="4.4"/><circle cx="973" cy="95.2" r="4.1"/><circle cx="1013.2" cy="268.3" r="4.7"/><circle cx="922.6" cy="372.2" r="4"/><circle cx="1021.8" cy="137.2" r="4.3"/><circle cx="796.6" cy="88.5" r="4.4"/><circle cx="849.6" cy="72.4" r="4.6"/><circle cx="824.4" cy="158.3" r="4.2"/><circle cx="951.7" cy="363.9" r="4.9"/><circle cx="813.1" cy="352.4" r="4.7"/><circle cx="757.6" cy="255.8" r="4.4"/><circle cx="743.8" cy="301.1" r="4.2"/><circle cx="1000.8" cy="151.8" r="4.1"/><circle cx="1043.7" cy="278.9" r="4.9"/><circle cx="1036" cy="129.5" r="4.5"/><circle cx="747.7" cy="268.3" r="4.1"/><circle cx="1029.2" cy="42.4" r="4.9"/><circle cx="795" cy="144.2" r="4.2"/><circle cx="747.4" cy="155.1" r="5.2"/><circle cx="743.5" cy="210.3" r="4.3"/><circle cx="805.4" cy="189.7" r="4.7"/><circle cx="758.3" cy="312.5" r="4.3"/><circle cx="783.2" cy="246.5" r="4.1"/><circle cx="909.6" cy="173.2" r="4.5"/><circle cx="898.8" cy="75.5" r="4.5"/><circle cx="741" cy="354.7" r="4.4"/><circle cx="817.3" cy="162.3" r="4.8"/><circle cx="1014.3" cy="316.9" r="4.7"/><circle cx="834.4" cy="225.2" r="4.1"/><circle cx="842.7" cy="239.5" r="4.2"/><circle cx="1037.3" cy="271.6" r="4.5"/><circle cx="742.7" cy="290" r="4.5"/><circle cx="866.9" cy="369.5" r="4.6"/><circle cx="924.2" cy="134.5" r="4.1"/><circle cx="787.3" cy="211.8" r="4.2"/><circle cx="896.8" cy="136.5" r="5"/><circle cx="768.5" cy="289.4" r="4.6"/><circle cx="984.9" cy="362.9" r="4.4"/><circle cx="980.3" cy="158.8" r="4.6"/><circle cx="1032.5" cy="228.5" r="5.2"/><circle cx="938.5" cy="293.9" r="4.8"/><circle cx="1021.8" cy="324.5" r="4.5"/><circle cx="757.2" cy="339.3" r="4.1"/><circle cx="919.5" cy="377.8" r="4.2"/><circle cx="929.9" cy="49.8" r="4.1"/><circle cx="939" cy="307.4" r="4.9"/><circle cx="822.5" cy="74.4" r="4.2"/><circle cx="839.8" cy="351.8" r="4.4"/><circle cx="893.7" cy="303.2" r="4.7"/><circle cx="1047.5" cy="240.6" r="4.1"/><circle cx="891.1" cy="311.8" r="5.2"/><circle cx="1029.2" cy="272.9" r="4.4"/><circle cx="738.8" cy="135.4" r="4.3"/><circle cx="954.5" cy="172.5" r="4.8"/><circle cx="770.7" cy="318.6" r="4.9"/><circle cx="783.5" cy="254.2" r="4.3"/><circle cx="866.1" cy="178.4" r="4.8"/><circle cx="970" cy="288.8" r="4.3"/><circle cx="973.2" cy="358.4" r="4"/><circle cx="1052.2" cy="87.9" r="4.1"/><circle cx="780.8" cy="268.2" r="4.5"/><circle cx="1045.6" cy="183.9" r="5"/><circle cx="793.6" cy="273.3" r="4.8"/><circle cx="858.8" cy="166.6" r="4.9"/><circle cx="1014.4" cy="326.7" r="5.1"/><circle cx="787.8" cy="321.4" r="4.9"/><circle cx="848.2" cy="361.2" r="5"/><circle cx="765.6" cy="103.9" r="4.5"/><circle cx="875" cy="47" r="4.6"/><circle cx="1023.5" cy="179.4" r="4.8"/><circle cx="802.7" cy="232.3" r="4.4"/><circle cx="891" cy="151.5" r="4.3"/><circle cx="1016.5" cy="95.8" r="4.2"/><circle cx="932.4" cy="358.5" r="4.1"/><circle cx="918.2" cy="148.5" r="4.4"/><circle cx="962" cy="273.4" r="4.4"/><circle cx="898" cy="120.9" r="4.5"/><circle cx="886.7" cy="288.7" r="4.7"/><circle cx="963.5" cy="239" r="4.1"/><circle cx="971.4" cy="143.5" r="4.7"/><circle cx="937.2" cy="327.3" r="4.9"/><circle cx="757.6" cy="97.9" r="4.4"/><circle cx="770.9" cy="112.8" r="5.1"/><circle cx="831.7" cy="320.8" r="4.8"/><circle cx="868.8" cy="208.7" r="5.1"/><circle cx="835.6" cy="298.8" r="4"/><circle cx="910.9" cy="223.7" r="4.3"/><circle cx="977.4" cy="259.2" r="4.6"/><circle cx="739.2" cy="161.1" r="4.1"/><circle cx="781.4" cy="263.1" r="5.1"/><circle cx="1005.1" cy="296.8" r="4.1"/><circle cx="988.2" cy="376.2" r="4.6"/><circle cx="1038.4" cy="210.6" r="4.2"/><circle cx="857.6" cy="111" r="5.1"/><circle cx="897.3" cy="177.3" r="4.5"/><circle cx="861.8" cy="249.6" r="4.3"/><circle cx="911.6" cy="39.1" r="4"/><circle cx="971.7" cy="218.6" r="4.6"/><circle cx="1049.9" cy="225.4" r="4.8"/><circle cx="927.8" cy="224.6" r="4.9"/><circle cx="1050.9" cy="79.6" r="4.7"/><circle cx="765.9" cy="312.9" r="5"/><circle cx="966.3" cy="300.4" r="5"/><circle cx="959.6" cy="279.2" r="4.1"/><circle cx="806.8" cy="317.8" r="4"/><circle cx="877.5" cy="286.1" r="4.1"/><circle cx="889.6" cy="137.7" r="4.9"/><circle cx="957.2" cy="182.9" r="4.1"/><circle cx="1002" cy="84.5" r="4.3"/><circle cx="825.5" cy="185.8" r="4.8"/><circle cx="780.9" cy="128" r="4.9"/><circle cx="893.7" cy="171.1" r="4.5"/><circle cx="864.6" cy="308" r="5"/><circle cx="785.5" cy="300.1" r="4.2"/><circle cx="1036.9" cy="187.3" r="4.1"/><circle cx="849.7" cy="243" r="4.9"/><circle cx="973.6" cy="83.1" r="5.1"/><circle cx="1024.1" cy="304.7" r="4.3"/><circle cx="918" cy="173.8" r="4.5"/><circle cx="883.3" cy="323.5" r="5.1"/><circle cx="917.6" cy="280.6" r="4.2"/><circle cx="813.7" cy="294.5" r="4.6"/><circle cx="1041.9" cy="45.5" r="4.2"/><circle cx="745.9" cy="111.5" r="4"/><circle cx="942.4" cy="264.6" r="5.1"/><circle cx="748.1" cy="227.7" r="4.7"/><circle cx="858.9" cy="380.1" r="4.3"/><circle cx="797.2" cy="207.2" r="4.3"/><circle cx="746.7" cy="204.1" r="4.2"/><circle cx="820.6" cy="212" r="5.2"/><circle cx="796.2" cy="365.5" r="4.3"/><circle cx="772.8" cy="106.5" r="4.7"/><circle cx="966.5" cy="183.7" r="5.1"/><circle cx="757.3" cy="55.2" r="4.6"/><circle cx="811.5" cy="64.4" r="5"/><circle cx="823.4" cy="267.1" r="5"/><circle cx="766.8" cy="231.7" r="4.3"/><circle cx="784.8" cy="184.5" r="4.6"/><circle cx="1040.1" cy="108.5" r="4.7"/><circle cx="962.9" cy="49.2" r="4.8"/><circle cx="993.8" cy="165.1" r="5.1"/><circle cx="748.4" cy="107.7" r="4.7"/><circle cx="849.8" cy="317.7" r="4.5"/><circle cx="948.9" cy="318.5" r="4.5"/><circle cx="824.1" cy="259.2" r="5.1"/><circle cx="978.3" cy="280.5" r="4.3"/><circle cx="801.2" cy="54.7" r="4.6"/><circle cx="863.1" cy="301.1" r="4.8"/><circle cx="819.5" cy="285.3" r="5.1"/><circle cx="939.1" cy="53.9" r="4.8"/><circle cx="887.2" cy="247.4" r="4.1"/><circle cx="763.6" cy="59.5" r="4.9"/><circle cx="854" cy="118.9" r="5.2"/><circle cx="832.7" cy="94.6" r="4.6"/><circle cx="950.6" cy="177.5" r="4.8"/><circle cx="906" cy="231.9" r="4.8"/><circle cx="957.1" cy="375.1" r="5.2"/><circle cx="833.3" cy="267.2" r="4.9"/><circle cx="917.7" cy="266.3" r="5.1"/><circle cx="931.1" cy="101.8" r="4.3"/><circle cx="764.4" cy="258.3" r="4.6"/><circle cx="949" cy="71.4" r="4.5"/><circle cx="742.4" cy="68.9" r="4.3"/><circle cx="921" cy="166.1" r="5.1"/><circle cx="751.2" cy="317.5" r="5"/><circle cx="927.8" cy="86.9" r="4.2"/><circle cx="876.5" cy="101.9" r="5.1"/><circle cx="923.6" cy="75.8" r="4.4"/><circle cx="821.4" cy="357" r="4.5"/><circle cx="770.8" cy="265.4" r="4.8"/><circle cx="840.9" cy="108.5" r="5.1"/><circle cx="885.9" cy="376.3" r="4.6"/><circle cx="1023.9" cy="321.1" r="4.7"/><circle cx="1048.3" cy="301.1" r="4.7"/><circle cx="883.6" cy="263.1" r="4.7"/><circle cx="806" cy="265.2" r="4.6"/><circle cx="1045.9" cy="129.5" r="4.7"/><circle cx="777.2" cy="351.5" r="4.9"/><circle cx="944.6" cy="253.4" r="4.7"/><circle cx="928.9" cy="378.8" r="4.6"/><circle cx="881.4" cy="43.2" r="4.2"/><circle cx="967.8" cy="131.8" r="4.4"/><circle cx="869.5" cy="334.8" r="5"/><circle cx="886" cy="189.1" r="5"/><circle cx="954.6" cy="291.6" r="4.1"/><circle cx="778" cy="71.1" r="5.1"/><circle cx="943.9" cy="285.5" r="4.9"/><circle cx="876.2" cy="281.8" r="4.1"/><circle cx="921" cy="115.6" r="4.6"/><circle cx="752.1" cy="73.7" r="4.3"/><circle cx="993.1" cy="352.9" r="5"/><circle cx="853.2" cy="186.7" r="4.1"/><circle cx="909.9" cy="265.1" r="4.6"/><circle cx="876.6" cy="196.2" r="4.5"/><circle cx="1043.7" cy="356.8" r="5"/><circle cx="943.1" cy="180.9" r="4.8"/><circle cx="923.3" cy="116.9" r="4.8"/><circle cx="850.7" cy="149.6" r="4.9"/><circle cx="1007.7" cy="226.6" r="4.1"/><circle cx="1030.9" cy="39.8" r="4.2"/><circle cx="757.9" cy="65.5" r="4.9"/><circle cx="993.6" cy="88.2" r="5.1"/><circle cx="807" cy="224.8" r="4.1"/><circle cx="786.6" cy="361.7" r="5.1"/><circle cx="1012.6" cy="196.7" r="4.7"/><circle cx="872.3" cy="222.3" r="5.1"/><circle cx="891.2" cy="95.7" r="4.2"/><circle cx="799.9" cy="312.1" r="4.4"/><circle cx="1013.3" cy="234" r="4.7"/><circle cx="858.6" cy="155.6" r="4.3"/><circle cx="933.7" cy="319" r="5.1"/><circle cx="1031.5" cy="145.9" r="4.2"/><circle cx="1021.1" cy="311.9" r="4.9"/><circle cx="831.3" cy="375" r="5"/><circle cx="916" cy="339.1" r="4.5"/><circle cx="789.3" cy="292.3" r="4"/><circle cx="1029" cy="310.9" r="4.5"/><circle cx="866.3" cy="311.1" r="5"/><circle cx="796.6" cy="369.6" r="4.2"/><circle cx="971.6" cy="294.3" r="4.1"/><circle cx="1041.5" cy="372.7" r="4.2"/><circle cx="933.6" cy="178.1" r="4.5"/><circle cx="750" cy="232.9" r="4.8"/><circle cx="966.3" cy="345.7" r="4.7"/><circle cx="1054.1" cy="158.8" r="5.1"/><circle cx="988.4" cy="173.1" r="4.3"/><circle cx="828.5" cy="68.1" r="4.2"/><circle cx="819.8" cy="254.1" r="5.1"/><circle cx="791.1" cy="221.6" r="4"/><circle cx="881.4" cy="347.8" r="5"/><circle cx="1049.2" cy="296" r="4.1"/><circle cx="907.1" cy="50.1" r="4"/><circle cx="894.9" cy="332.3" r="4.6"/><circle cx="839.9" cy="372.3" r="4.8"/><circle cx="935.8" cy="214.5" r="4.4"/><circle cx="764.8" cy="194.7" r="4.8"/><circle cx="928.4" cy="196.1" r="4.3"/><circle cx="1054.5" cy="210.6" r="4.4"/><circle cx="1027.1" cy="165.3" r="4.8"/><circle cx="1049" cy="220.6" r="4.6"/><circle cx="944" cy="275.2" r="4.8"/><circle cx="1041.8" cy="170" r="4.8"/><circle cx="1034.3" cy="258.4" r="4.6"/><circle cx="739.6" cy="179.8" r="5.1"/><circle cx="818.9" cy="235.7" r="4.8"/><circle cx="884.3" cy="155.7" r="4.3"/><circle cx="925.4" cy="348.5" r="4.9"/><circle cx="892.1" cy="321.9" r="4.4"/><circle cx="809.5" cy="326.3" r="4.8"/><circle cx="904.9" cy="214.6" r="5"/><circle cx="806.5" cy="294.7" r="4.7"/><circle cx="951.6" cy="85.1" r="5.1"/><circle cx="774.2" cy="218.9" r="4.4"/><circle cx="845.3" cy="248.5" r="4.3"/><circle cx="916.9" cy="347.5" r="5"/><circle cx="987.3" cy="261.2" r="5"/><circle cx="1038.8" cy="254.3" r="4.7"/><circle cx="914.2" cy="54" r="4.6"/><circle cx="1026.5" cy="260.8" r="4.1"/><circle cx="944.7" cy="170.3" r="4.9"/><circle cx="1022.9" cy="240.6" r="4.6"/><circle cx="838.7" cy="364.5" r="5.1"/><circle cx="838.4" cy="218.4" r="4.9"/><circle cx="908.4" cy="240.5" r="4.1"/><circle cx="1038.1" cy="194.2" r="4.7"/><circle cx="792.8" cy="119.1" r="4.4"/><circle cx="892.2" cy="268.1" r="4.5"/><circle cx="798.7" cy="266" r="4.9"/><circle cx="1021.2" cy="65.8" r="4.1"/><circle cx="790.3" cy="192" r="4.1"/><circle cx="1025.2" cy="63.8" r="4.1"/><circle cx="938.5" cy="46.9" r="4.2"/><circle cx="846.2" cy="88" r="5"/><circle cx="906.3" cy="340" r="5.1"/><circle cx="1047.4" cy="355.8" r="4.9"/><circle cx="816.4" cy="321.2" r="4.9"/><circle cx="783" cy="41.8" r="4.3"/><circle cx="797" cy="105.1" r="4.8"/><circle cx="895.9" cy="204" r="4.7"/><circle cx="880.1" cy="307.1" r="5"/><circle cx="801.8" cy="180" r="4.1"/><circle cx="809.3" cy="79.2" r="4.4"/><circle cx="880" cy="121.9" r="4.8"/><circle cx="1051.2" cy="280.3" r="5.2"/><circle cx="796" cy="72.5" r="5.2"/><circle cx="810.6" cy="287.9" r="5"/><circle cx="752.2" cy="297.5" r="4.6"/><circle cx="976" cy="154.3" r="4.5"/><circle cx="872" cy="356.6" r="5.1"/><circle cx="938.1" cy="220.9" r="4.4"/><circle cx="947.8" cy="55.1" r="4.5"/><circle cx="891.6" cy="258.8" r="4.9"/><circle cx="1048.7" cy="59.8" r="4.8"/><circle cx="899.9" cy="317" r="4.6"/><circle cx="845" cy="278" r="4.1"/><circle cx="893.2" cy="328.2" r="4.2"/><circle cx="865.4" cy="346.7" r="4.7"/><circle cx="758.6" cy="230.9" r="4"/><circle cx="974.6" cy="347.9" r="4.8"/><circle cx="853.8" cy="233.9" r="4.4"/><circle cx="951.4" cy="42.9" r="5.1"/><circle cx="975.1" cy="182.3" r="4.8"/><circle cx="878" cy="187.6" r="4.1"/><circle cx="1049.2" cy="307.1" r="4.1"/><circle cx="964.4" cy="224.8" r="4.6"/><circle cx="927.6" cy="288" r="4.3"/><circle cx="954.5" cy="315.1" r="4.9"/><circle cx="946.2" cy="257.4" r="4.1"/><circle cx="806.7" cy="36" r="3.9"/><circle cx="815.2" cy="189.9" r="4.6"/><circle cx="755.3" cy="123.8" r="4.5"/><circle cx="814.5" cy="305.7" r="4.4"/><circle cx="884.8" cy="318.9" r="4.6"/><circle cx="831.5" cy="307.7" r="4.9"/><circle cx="904.8" cy="187.3" r="4.5"/><circle cx="779.9" cy="319.9" r="4.5"/><circle cx="762.4" cy="266.1" r="4.9"/><circle cx="997.3" cy="291.6" r="4.5"/><circle cx="1039.1" cy="284.4" r="4.7"/><circle cx="739.3" cy="167" r="4.6"/><circle cx="883.6" cy="99.5" r="4.5"/><circle cx="827.8" cy="98.8" r="4.5"/><circle cx="871.7" cy="298.8" r="4.3"/><circle cx="867.2" cy="237.6" r="4.7"/><circle cx="809.4" cy="338.4" r="4.9"/><circle cx="1022.6" cy="105" r="4.9"/><circle cx="930.1" cy="53.3" r="5.1"/><circle cx="892.1" cy="48.3" r="4.4"/><circle cx="884.5" cy="266" r="4.5"/><circle cx="932.8" cy="91.3" r="4.4"/><circle cx="951.5" cy="61.8" r="4.8"/><circle cx="824.6" cy="167.8" r="5"/><circle cx="1024" cy="170.9" r="4.7"/><circle cx="785.9" cy="99.8" r="4.9"/><circle cx="903.5" cy="288" r="4.8"/><circle cx="998.1" cy="304.7" r="4.5"/><circle cx="1029.2" cy="243.8" r="5"/><circle cx="912" cy="244.1" r="4.5"/><circle cx="793.8" cy="233.9" r="4.9"/><circle cx="907.9" cy="322.2" r="4.8"/><circle cx="845.6" cy="139.2" r="4"/><circle cx="789.6" cy="322.9" r="4.4"/><circle cx="1045.5" cy="167.9" r="4.6"/><circle cx="970" cy="254.2" r="4.7"/><circle cx="890.9" cy="359" r="4.6"/><circle cx="1028.8" cy="116.1" r="4.5"/><circle cx="856.6" cy="49.5" r="4.1"/><circle cx="891.3" cy="344.1" r="4.6"/><circle cx="1015.8" cy="125.5" r="4.4"/><circle cx="874.2" cy="363.8" r="4.2"/><circle cx="854.8" cy="138.3" r="4.8"/><circle cx="965.9" cy="177.6" r="4.3"/><circle cx="936.4" cy="113.7" r="4.8"/><circle cx="922.3" cy="80.5" r="4.3"/><circle cx="854.3" cy="298.7" r="4.4"/><circle cx="939.2" cy="247.1" r="4.5"/><circle cx="981.1" cy="46.8" r="4.9"/><circle cx="997" cy="119.8" r="5.2"/><circle cx="929.2" cy="276.4" r="4.8"/><circle cx="894.6" cy="89.4" r="5"/><circle cx="902.1" cy="190.5" r="4.2"/><circle cx="1003.8" cy="259.5" r="4.6"/><circle cx="835.9" cy="249.1" r="5"/><circle cx="982.9" cy="186.5" r="4.9"/><circle cx="821.6" cy="292.4" r="4.2"/><circle cx="777.5" cy="367.1" r="4"/><circle cx="963.1" cy="379.4" r="4.3"/><circle cx="766" cy="52.8" r="4.2"/><circle cx="771.7" cy="63.9" r="4.9"/><circle cx="773.6" cy="56.9" r="5.2"/><circle cx="1030" cy="253.1" r="4.9"/><circle cx="912.9" cy="255.2" r="4.1"/><circle cx="957.8" cy="346.4" r="4.4"/><circle cx="883.5" cy="311" r="4.5"/><circle cx="1031.1" cy="327.2" r="5.2"/><circle cx="954.9" cy="362.1" r="4.1"/><circle cx="931.7" cy="242.3" r="4.9"/><circle cx="977" cy="131" r="4.4"/><circle cx="995.2" cy="256.2" r="5.2"/><circle cx="948.2" cy="181.8" r="4.3"/><circle cx="986.5" cy="277.4" r="4.1"/><circle cx="844.3" cy="339.3" r="4.3"/><circle cx="926.1" cy="173.9" r="5.2"/><circle cx="921.5" cy="248.1" r="5"/><circle cx="921.8" cy="141.3" r="4.3"/><circle cx="813.4" cy="73" r="5"/><circle cx="809.1" cy="41.8" r="4.1"/><circle cx="1005.4" cy="307.3" r="4.3"/><circle cx="915.8" cy="101.1" r="4"/><circle cx="1048" cy="290" r="4.7"/><circle cx="741.8" cy="118.8" r="4.3"/><circle cx="959.1" cy="351.6" r="4.8"/><circle cx="777.1" cy="91.6" r="5.1"/><circle cx="1004.3" cy="137.9" r="4.7"/><circle cx="896.2" cy="214.1" r="4.8"/><circle cx="980.5" cy="327" r="5"/><circle cx="986.3" cy="213.9" r="4.1"/><circle cx="1017.9" cy="61.1" r="4.4"/><circle cx="837.3" cy="59.3" r="4.5"/><circle cx="906.9" cy="370.1" r="5"/><circle cx="886.5" cy="333.7" r="4.1"/><circle cx="785.7" cy="147.8" r="4.1"/><circle cx="913.6" cy="105.6" r="5.1"/><circle cx="1012" cy="112.8" r="5"/><circle cx="822.6" cy="125.5" r="4.2"/><circle cx="858.2" cy="312.9" r="4"/><circle cx="971.2" cy="199.4" r="5"/><circle cx="1015.8" cy="239.6" r="5"/><circle cx="974.8" cy="126" r="4.1"/><circle cx="990.5" cy="50.8" r="4.4"/><circle cx="817.3" cy="241.9" r="4.7"/><circle cx="844.2" cy="233.9" r="4.8"/><circle cx="774.2" cy="315.2" r="4.6"/><circle cx="906" cy="41.2" r="4.8"/><circle cx="916.2" cy="74.1" r="4.6"/><circle cx="1021.5" cy="115" r="5.2"/><circle cx="987.6" cy="328.4" r="4.5"/><circle cx="987.6" cy="254.9" r="4.9"/><circle cx="749.8" cy="66.9" r="4.9"/><circle cx="993.6" cy="132.1" r="4.1"/><circle cx="916.2" cy="317.4" r="4.1"/><circle cx="1032.9" cy="293.5" r="4.4"/><circle cx="1050.5" cy="171.8" r="5.2"/><circle cx="1020.6" cy="121.9" r="4.2"/><circle cx="1016.9" cy="228.2" r="5"/><circle cx="986.9" cy="106.2" r="4.9"/><circle cx="783.4" cy="52.5" r="4.1"/><circle cx="882.4" cy="48" r="5"/><circle cx="957.2" cy="333.5" r="4.8"/><circle cx="856.5" cy="106.5" r="4.4"/><circle cx="970.8" cy="264.9" r="4.3"/><circle cx="957.5" cy="82.2" r="4.2"/><circle cx="875.9" cy="262.1" r="5"/><circle cx="878.8" cy="341.2" r="4.2"/><circle cx="765.1" cy="133.2" r="4.9"/><circle cx="822.9" cy="353.6" r="4.9"/><circle cx="847.1" cy="127.1" r="4.4"/><circle cx="833.4" cy="375.8" r="4.9"/><circle cx="1022.1" cy="266.9" r="5"/><circle cx="1039.8" cy="221.6" r="5.1"/><circle cx="1028.2" cy="364.1" r="5.1"/><circle cx="827.4" cy="247.7" r="5"/><circle cx="813.6" cy="267.8" r="4.3"/><circle cx="859.7" cy="225.2" r="4.5"/><circle cx="867.2" cy="103.2" r="4.4"/><circle cx="1002" cy="55.2" r="4.6"/><circle cx="793.2" cy="155.3" r="4"/><circle cx="779.8" cy="156.8" r="4.1"/><circle cx="810.2" cy="273.7" r="4.4"/><circle cx="755.7" cy="373.4" r="4.6"/><circle cx="1039.7" cy="238.5" r="4.6"/><circle cx="1037.1" cy="121.4" r="4.6"/><circle cx="748.5" cy="60.2" r="4.9"/><circle cx="851.1" cy="285.7" r="5.1"/><circle cx="783.7" cy="278.3" r="4.8"/><circle cx="788.9" cy="375.6" r="4.1"/><circle cx="769.1" cy="366.6" r="4.2"/><circle cx="1039.4" cy="52.9" r="4.6"/><circle cx="815.6" cy="199.8" r="4.1"/><circle cx="747.8" cy="260.3" r="4.4"/><circle cx="778.7" cy="86" r="4.1"/><circle cx="1045.4" cy="71.4" r="4.2"/><circle cx="900.1" cy="100.7" r="4.1"/><circle cx="844.6" cy="213.2" r="4.1"/><circle cx="763.3" cy="158.7" r="4.7"/><circle cx="750.7" cy="353.8" r="4.8"/><circle cx="952.9" cy="69.6" r="5"/><circle cx="1045.8" cy="160.9" r="4.6"/><circle cx="974.3" cy="333.8" r="4.9"/><circle cx="882.5" cy="143.9" r="5"/><circle cx="795.9" cy="286.7" r="4.2"/><circle cx="987.3" cy="273" r="5.1"/><circle cx="879" cy="297.7" r="4.7"/><circle cx="941.4" cy="117.6" r="4.6"/><circle cx="751" cy="184.5" r="4.6"/><circle cx="787.4" cy="73.1" r="4.6"/><circle cx="955" cy="36.9" r="5.2"/><circle cx="793.5" cy="99.6" r="4.2"/><circle cx="882" cy="124.8" r="4.8"/><circle cx="929" cy="167.5" r="5.1"/><circle cx="931.4" cy="307.9" r="4.1"/><circle cx="943" cy="43.5" r="4.2"/><circle cx="946.7" cy="246.4" r="4.1"/><circle cx="919.7" cy="215.6" r="4.4"/><circle cx="764.8" cy="126.4" r="5.1"/><circle cx="932.7" cy="125.4" r="5.1"/><circle cx="803.5" cy="289" r="4.6"/><circle cx="981.9" cy="318.4" r="4.7"/><circle cx="826.7" cy="81.9" r="5"/><circle cx="994.7" cy="138.1" r="4.7"/><circle cx="892.1" cy="146.6" r="4.7"/><circle cx="759.2" cy="91" r="4.3"/><circle cx="982.6" cy="79" r="4.8"/><circle cx="903.7" cy="247.1" r="4.1"/><circle cx="973.4" cy="225.1" r="4.8"/><circle cx="974.1" cy="370.4" r="5"/><circle cx="1001.6" cy="182.5" r="4.2"/><circle cx="864" cy="134.5" r="4.2"/><circle cx="852.4" cy="327.2" r="4.2"/><circle cx="887.7" cy="213" r="4.5"/><circle cx="841.3" cy="308.3" r="4.3"/><circle cx="977.3" cy="289.4" r="5.2"/><circle cx="1042.5" cy="82.9" r="4.7"/><circle cx="745.7" cy="200.6" r="4.1"/><circle cx="1025.5" cy="298.6" r="4.7"/><circle cx="782.2" cy="189.2" r="4.6"/><circle cx="1007.1" cy="207" r="4.4"/><circle cx="802.2" cy="67" r="4.4"/><circle cx="891" cy="129.5" r="4.2"/><circle cx="945.7" cy="216.9" r="4.1"/><circle cx="899.1" cy="370" r="4.2"/><circle cx="1052.9" cy="360.5" r="4.6"/><circle cx="932.1" cy="83.1" r="5"/><circle cx="921.2" cy="54" r="4.8"/><circle cx="961.9" cy="295.8" r="5.1"/><circle cx="843.4" cy="328.7" r="4.9"/><circle cx="765.4" cy="225.4" r="5.1"/><circle cx="968.9" cy="44.8" r="4.6"/><circle cx="990.1" cy="158.6" r="4.5"/><circle cx="772.7" cy="324.9" r="5"/><circle cx="1047.9" cy="145.8" r="4.7"/><circle cx="957.5" cy="191.2" r="4.7"/><circle cx="1004.9" cy="103.8" r="4.3"/><circle cx="791.4" cy="281.1" r="4.5"/><circle cx="1047.4" cy="198.3" r="4.6"/><circle cx="888" cy="104.9" r="4.6"/><circle cx="876.4" cy="156.6" r="4"/><circle cx="748.2" cy="374.3" r="5"/><circle cx="1003.7" cy="256.5" r="4.7"/><circle cx="796.3" cy="92.8" r="5.1"/><circle cx="738.3" cy="198.4" r="4.7"/><circle cx="1024.2" cy="208.2" r="4.5"/><circle cx="843.5" cy="157.9" r="4.1"/><circle cx="928.2" cy="251" r="4.6"/><circle cx="988.7" cy="269.3" r="4.7"/><circle cx="994.1" cy="193.3" r="4.9"/><circle cx="1020.1" cy="279.9" r="4.8"/><circle cx="897.8" cy="232.3" r="5.2"/><circle cx="949.2" cy="242.8" r="4.6"/><circle cx="893.2" cy="201.8" r="4.1"/><circle cx="860.9" cy="322.9" r="4.6"/><circle cx="956.1" cy="326.2" r="4"/><circle cx="803.6" cy="364.6" r="5.1"/><circle cx="956.7" cy="205.3" r="4.4"/><circle cx="1016.1" cy="49.8" r="4.3"/><circle cx="906.9" cy="93.1" r="4.3"/><circle cx="1004.6" cy="234.9" r="4.2"/><circle cx="838" cy="123.9" r="5.2"/><circle cx="929.5" cy="332" r="5.1"/><circle cx="767.8" cy="185.6" r="4.8"/><circle cx="809.2" cy="283.2" r="4.4"/><circle cx="851" cy="156.5" r="4.9"/><circle cx="930.7" cy="183" r="4.5"/><circle cx="893.1" cy="380.9" r="4.3"/><circle cx="893.1" cy="37.3" r="5"/><circle cx="954.1" cy="381" r="5.2"/><circle cx="882.2" cy="138.4" r="4.5"/><circle cx="958.1" cy="132.9" r="4.6"/><circle cx="881.7" cy="367.7" r="5"/><circle cx="1040.4" cy="295.3" r="4.4"/><circle cx="879.3" cy="253.8" r="4.7"/><circle cx="935.5" cy="196.9" r="4.1"/><circle cx="760.5" cy="365" r="4.1"/><circle cx="948.7" cy="332.7" r="5.1"/><circle cx="878.7" cy="194.1" r="4.5"/><circle cx="859.4" cy="287" r="5.1"/><circle cx="828.7" cy="254" r="4.4"/><circle cx="869.1" cy="339.8" r="4.5"/><circle cx="990.4" cy="345.9" r="4.6"/><circle cx="883.7" cy="238.6" r="4.2"/><circle cx="930.1" cy="139" r="5"/><circle cx="868.1" cy="225.8" r="4.7"/><circle cx="871.8" cy="214.4" r="4.8"/><circle cx="988.6" cy="70.7" r="4.5"/><circle cx="1032.4" cy="61.9" r="4.6"/><circle cx="816" cy="182.8" r="5"/><circle cx="846.2" cy="191.6" r="5"/><circle cx="813.9" cy="112.6" r="4.4"/><circle cx="978.8" cy="148.9" r="4.4"/><circle cx="886.2" cy="302.7" r="5.2"/><circle cx="797.4" cy="194.7" r="4.4"/><circle cx="874.4" cy="371" r="4.3"/><circle cx="738.4" cy="344.9" r="4.8"/><circle cx="747.8" cy="328.2" r="4"/><circle cx="972.2" cy="171.8" r="5.2"/><circle cx="994.3" cy="116.2" r="4"/><circle cx="966" cy="127.6" r="5"/><circle cx="776" cy="301.6" r="4.1"/><circle cx="996.9" cy="312.4" r="4.4"/><circle cx="901.1" cy="277.6" r="5"/><circle cx="939.5" cy="357.5" r="4"/><circle cx="915.5" cy="240.9" r="5"/><circle cx="819.2" cy="177.7" r="4.3"/><circle cx="775" cy="177.9" r="4.2"/><circle cx="816.2" cy="227.6" r="4.1"/><circle cx="871" cy="88.8" r="4.1"/><circle cx="1054" cy="155.2" r="4.5"/><circle cx="1033.7" cy="301.5" r="4.6"/><circle cx="947.4" cy="373" r="4.9"/><circle cx="864.5" cy="109.3" r="4.2"/><circle cx="768.7" cy="120" r="4.8"/><circle cx="760.9" cy="212.7" r="4.2"/><circle cx="951" cy="285.3" r="4.4"/><circle cx="806" cy="50.8" r="4.2"/><circle cx="894.6" cy="274.1" r="4.7"/><circle cx="867.6" cy="322" r="5"/><circle cx="999.7" cy="349.3" r="4.3"/><circle cx="997.2" cy="265.6" r="4.1"/><circle cx="956.1" cy="99.9" r="5"/><circle cx="859.7" cy="240.8" r="4.1"/><circle cx="917.9" cy="310.6" r="4.7"/><circle cx="957.8" cy="55.8" r="4.8"/><circle cx="1012.4" cy="247" r="4.5"/><circle cx="812.3" cy="211.8" r="4"/><circle cx="806.5" cy="220.1" r="5"/><circle cx="906.7" cy="178.8" r="4.7"/><circle cx="797.7" cy="170.9" r="4.8"/><circle cx="951.9" cy="148.6" r="4.1"/><circle cx="1047.8" cy="194.8" r="5"/><circle cx="1053.7" cy="273.2" r="5.2"/><circle cx="933.7" cy="353.3" r="4.4"/><circle cx="933.2" cy="150" r="4.9"/><circle cx="801.9" cy="137.7" r="4.4"/><circle cx="883.3" cy="373.5" r="5.1"/><circle cx="834.8" cy="184.4" r="4.5"/><circle cx="964.2" cy="209" r="4.7"/><circle cx="775.8" cy="166.8" r="5"/><circle cx="754.6" cy="116" r="5.2"/><circle cx="980.9" cy="294.1" r="4.9"/><circle cx="763.3" cy="204.9" r="4.4"/><circle cx="857.4" cy="305.8" r="4.2"/><circle cx="930" cy="232.3" r="5.2"/><circle cx="809.9" cy="255.5" r="5"/><circle cx="857" cy="75.4" r="4"/><circle cx="739" cy="190.5" r="5.1"/><circle cx="743.8" cy="238.8" r="5"/><circle cx="802.2" cy="98.5" r="4.2"/><circle cx="847.6" cy="218.4" r="4.5"/><circle cx="787.1" cy="364.2" r="4.4"/><circle cx="1044.8" cy="153.6" r="5.1"/><circle cx="841.8" cy="167.9" r="4.7"/><circle cx="908.7" cy="348.6" r="4.1"/><circle cx="767.4" cy="38.5" r="4.2"/><circle cx="850" cy="94.1" r="4.3"/><circle cx="1010.6" cy="150.4" r="4.2"/><circle cx="769" cy="87.2" r="4.5"/><circle cx="809.3" cy="241.6" r="4.8"/><circle cx="1034.7" cy="128.7" r="4.5"/><circle cx="906.2" cy="77.9" r="5.2"/><circle cx="1046.4" cy="314.8" r="4.5"/><circle cx="765.2" cy="325.6" r="5"/><circle cx="1024.7" cy="92.2" r="4.5"/><circle cx="1007" cy="320.2" r="4.3"/><circle cx="738.4" cy="329.9" r="4.8"/><circle cx="773.8" cy="140.5" r="4.5"/><circle cx="1033.2" cy="343.5" r="4.1"/><circle cx="742.6" cy="86.9" r="5.2"/><circle cx="981.2" cy="238.5" r="4.5"/><circle cx="1008.4" cy="50.7" r="4.2"/><circle cx="837.4" cy="210.6" r="5"/><circle cx="945.3" cy="112.1" r="5.1"/><circle cx="937.5" cy="224.7" r="4.1"/><circle cx="970.2" cy="117.5" r="5.2"/><circle cx="964.6" cy="37.4" r="4.5"/><circle cx="855" cy="125.2" r="4.2"/><circle cx="868.9" cy="56.7" r="4.3"/><circle cx="767.5" cy="240.4" r="4"/><circle cx="833.6" cy="346.8" r="4.9"/><circle cx="761.7" cy="76.3" r="4.4"/><circle cx="854.2" cy="331.1" r="5"/><circle cx="939.3" cy="183.7" r="4.7"/><circle cx="738.2" cy="112.7" r="4.8"/><circle cx="832.5" cy="147.2" r="4.3"/><circle cx="874.2" cy="154.8" r="4.2"/><circle cx="1004.2" cy="121.9" r="4.9"/><circle cx="833.4" cy="242.6" r="4.4"/><circle cx="803.6" cy="146.6" r="4.1"/><circle cx="854.5" cy="88.9" r="4.3"/><circle cx="870.3" cy="118" r="4.7"/><circle cx="953.6" cy="273.9" r="4.3"/><circle cx="749.1" cy="312.4" r="4.3"/><circle cx="888" cy="181.7" r="4.2"/><circle cx="978.9" cy="248.7" r="4.7"/><circle cx="980.4" cy="207.8" r="4.7"/><circle cx="1020.6" cy="254.8" r="4.7"/><circle cx="954.5" cy="305.9" r="4.2"/><circle cx="857.5" cy="344.6" r="5"/><circle cx="822.7" cy="367.6" r="4.2"/><circle cx="783.3" cy="166.8" r="4.4"/><circle cx="749.8" cy="92.2" r="4.3"/><circle cx="844.1" cy="228.8" r="4.1"/><circle cx="1045" cy="113.9" r="4.3"/><circle cx="884.1" cy="200.3" r="4.7"/><circle cx="880.1" cy="236.2" r="4.6"/><circle cx="1026.1" cy="80.6" r="4.4"/><circle cx="784.2" cy="234.3" r="4"/><circle cx="935.7" cy="254.4" r="4.7"/><circle cx="890" cy="364.1" r="4.4"/><circle cx="742" cy="367.3" r="4.5"/><circle cx="896.2" cy="185.5" r="4.1"/><circle cx="990.3" cy="99.3" r="4.8"/><circle cx="1000.1" cy="62.5" r="5.2"/><circle cx="936.9" cy="167.7" r="4.7"/><circle cx="918" cy="284.5" r="4.5"/><circle cx="794.1" cy="70.1" r="4.3"/><circle cx="844.9" cy="67.9" r="4.7"/><circle cx="851" cy="259" r="4.2"/><circle cx="926.1" cy="268.9" r="4.2"/><circle cx="863.5" cy="221.4" r="5.1"/><circle cx="871.5" cy="43.1" r="5"/><circle cx="882.5" cy="63.2" r="4.7"/><circle cx="759.5" cy="279.4" r="4.7"/><circle cx="739.9" cy="60.3" r="4.8"/><circle cx="982.2" cy="180.5" r="4.7"/><circle cx="959.5" cy="42.5" r="5.1"/><circle cx="1020.7" cy="236" r="4.6"/><circle cx="927.5" cy="144.3" r="4.5"/><circle cx="1028" cy="182.8" r="4.8"/><circle cx="982" cy="331.9" r="4.3"/><circle cx="821.7" cy="221.1" r="4.3"/><circle cx="899.5" cy="295.9" r="4.6"/><circle cx="822.7" cy="147.1" r="4.4"/><circle cx="816" cy="375.1" r="4.6"/><circle cx="851.1" cy="170.4" r="5.2"/><circle cx="900.3" cy="345.6" r="5.1"/><circle cx="956.3" cy="239.5" r="5.1"/><circle cx="1010.3" cy="330.5" r="4.4"/><circle cx="946.3" cy="325.3" r="4.7"/><circle cx="766.6" cy="166.1" r="5"/><circle cx="985.3" cy="132.3" r="4.4"/><circle cx="774.5" cy="232.7" r="4.8"/><circle cx="858.5" cy="153" r="4.6"/><circle cx="1002.8" cy="115.3" r="5"/><circle cx="800.5" cy="154.7" r="5.1"/><circle cx="814.4" cy="105.7" r="4.7"/><circle cx="908.3" cy="326.6" r="5.2"/><circle cx="972.3" cy="104.2" r="4.1"/><circle cx="1029.6" cy="56.5" r="4.1"/><circle cx="1011.1" cy="262.8" r="4.6"/><circle cx="855.7" cy="219.4" r="5"/><circle cx="930.3" cy="221.5" r="4.1"/><circle cx="828.3" cy="118" r="4.5"/><circle cx="964.4" cy="156.4" r="5.1"/><circle cx="994" cy="301" r="4.8"/><circle cx="747.4" cy="178.8" r="4.6"/><circle cx="1005.5" cy="287.3" r="5.2"/><circle cx="1033.6" cy="321.6" r="4.3"/><circle cx="824.3" cy="168.6" r="4.1"/><circle cx="740.3" cy="44" r="5.1"/><circle cx="943.6" cy="280.3" r="4.2"/><circle cx="1040.4" cy="207.9" r="5.1"/><circle cx="878" cy="228.8" r="5.1"/><circle cx="903.7" cy="273.1" r="5.1"/><circle cx="1018.7" cy="260.2" r="5"/><circle cx="835.9" cy="280.4" r="4.8"/><circle cx="748.3" cy="342" r="4.9"/><circle cx="816.9" cy="280.6" r="4.8"/><circle cx="1044.8" cy="121.5" r="5"/><circle cx="842.6" cy="152" r="4.4"/><circle cx="990.1" cy="209" r="4.5"/><circle cx="910.5" cy="351.6" r="4.1"/><circle cx="853.6" cy="70.6" r="4.8"/><circle cx="1008.6" cy="175.8" r="4.1"/><circle cx="787.4" cy="287.9" r="4.6"/><circle cx="987" cy="287.6" r="4.1"/><circle cx="859.7" cy="99.2" r="4.4"/><circle cx="871.6" cy="189.8" r="4"/><circle cx="870.8" cy="233.8" r="5"/><circle cx="955.7" cy="95.4" r="4.2"/><circle cx="747.2" cy="173.1" r="4.8"/><circle cx="960.1" cy="254.9" r="4.7"/><circle cx="979.8" cy="313.5" r="5.1"/><circle cx="1009.6" cy="78" r="4.5"/><circle cx="999" cy="205.4" r="4.5"/><circle cx="993.3" cy="72" r="4.7"/><circle cx="798.6" cy="196" r="4"/><circle cx="925.9" cy="67.7" r="4.6"/><circle cx="968.4" cy="231.9" r="5"/><circle cx="922.7" cy="306.7" r="4.9"/><circle cx="755.3" cy="294.4" r="4.4"/><circle cx="890.8" cy="102.8" r="4.4"/><circle cx="1038.1" cy="160.5" r="5"/><circle cx="781.2" cy="105.4" r="4.3"/><circle cx="1029.6" cy="68.3" r="5.1"/><circle cx="1001.2" cy="73.1" r="4.6"/><circle cx="946.2" cy="304.4" r="4.4"/><circle cx="846.3" cy="61.3" r="4.3"/><circle cx="770.9" cy="357.4" r="5"/><circle cx="962.9" cy="172.4" r="4.3"/><circle cx="938.9" cy="373" r="4.6"/><circle cx="897.9" cy="82.7" r="4.4"/><circle cx="994.8" cy="219.4" r="4"/><circle cx="759.3" cy="148" r="4"/><circle cx="903.5" cy="333.9" r="4.5"/><circle cx="773.9" cy="373.6" r="4.7"/><circle cx="990.6" cy="357.7" r="4.9"/><circle cx="776.6" cy="82.1" r="4.5"/><circle cx="1040.9" cy="227.2" r="4.8"/><circle cx="781.1" cy="172.7" r="4.5"/><circle cx="777.9" cy="210" r="4.8"/><circle cx="743.2" cy="80.7" r="4.1"/><circle cx="868.7" cy="379.9" r="4.1"/><circle cx="801.1" cy="339.8" r="5.1"/><circle cx="783.8" cy="178.2" r="4.6"/><circle cx="1041.8" cy="304.6" r="4.7"/><circle cx="848.2" cy="50.2" r="4.7"/><circle cx="772.8" cy="226.5" r="4.2"/><circle cx="825.8" cy="336.7" r="4.6"/><circle cx="1005.5" cy="147" r="5"/><circle cx="979.8" cy="218.2" r="4.1"/><circle cx="833.3" cy="43.9" r="4"/><circle cx="1040.7" cy="325.9" r="4.9"/><circle cx="805.4" cy="84.4" r="4.1"/><circle cx="873.9" cy="132.6" r="4.5"/><circle cx="829.9" cy="128.4" r="4.7"/><circle cx="978.6" cy="211.1" r="4.6"/><circle cx="967.7" cy="63" r="5"/><circle cx="925.1" cy="340.2" r="4.1"/><circle cx="935.6" cy="89.6" r="5.1"/><circle cx="794.7" cy="210.3" r="5"/><circle cx="973.2" cy="239.4" r="4.1"/><circle cx="1011.2" cy="278" r="4.5"/><circle cx="788.5" cy="126.7" r="4.5"/><circle cx="936.4" cy="276.3" r="4.6"/><circle cx="888.1" cy="54.3" r="5.1"/><circle cx="919.5" cy="198.2" r="4.1"/><circle cx="961.7" cy="146.9" r="4.1"/><circle cx="831.5" cy="132.5" r="4.4"/><circle cx="756.2" cy="346" r="4.7"/><circle cx="1002.5" cy="209.9" r="5.2"/><circle cx="874.1" cy="138.4" r="4.9"/><circle cx="978.7" cy="137" r="4.4"/><circle cx="742.3" cy="221.2" r="4.5"/><circle cx="759.1" cy="220.7" r="4.9"/><circle cx="1028.3" cy="376.1" r="4.8"/><circle cx="1002.6" cy="300.6" r="5.1"/><circle cx="979.6" cy="104.1" r="4.8"/><circle cx="1033.8" cy="360.1" r="4.5"/><circle cx="861.7" cy="255.6" r="4.7"/><circle cx="846.9" cy="295.6" r="4.2"/><circle cx="864.2" cy="189.1" r="5"/><circle cx="844" cy="275.9" r="4.1"/><circle cx="749.9" cy="272.1" r="4.4"/><circle cx="1054.1" cy="57.6" r="4.5"/><circle cx="913.2" cy="232.1" r="4.5"/><circle cx="828.7" cy="59.8" r="4.1"/><circle cx="752.1" cy="89.2" r="4.5"/><circle cx="918.6" cy="350.1" r="4.8"/><circle cx="1027.2" cy="72.8" r="5.1"/><circle cx="1008.7" cy="182.6" r="4.6"/><circle cx="995.3" cy="104.5" r="5"/><circle cx="828.7" cy="215.4" r="5"/><circle cx="794.3" cy="335.2" r="4.5"/><circle cx="1027.5" cy="130.8" r="4.9"/><circle cx="908.3" cy="99" r="4"/><circle cx="1047.3" cy="138.4" r="4.7"/><circle cx="933.9" cy="62.3" r="4.1"/><circle cx="830.1" cy="293.3" r="4.7"/><circle cx="857.6" cy="144.7" r="4.3"/><circle cx="767" cy="244.9" r="4"/><circle cx="889.8" cy="232.6" r="4"/><circle cx="873.6" cy="293.3" r="4.3"/><circle cx="889.9" cy="80.6" r="4.8"/><circle cx="1005.4" cy="199" r="4.6"/><circle cx="998.6" cy="359.3" r="4.3"/><circle cx="912.2" cy="210.7" r="4.1"/><circle cx="991" cy="176" r="4.1"/><circle cx="1040.9" cy="347.8" r="4.9"/><circle cx="811.3" cy="140.5" r="4.8"/><circle cx="814.8" cy="371.4" r="4.6"/><circle cx="1014.9" cy="146" r="4.1"/><circle cx="999.4" cy="321.7" r="4.3"/><circle cx="980.6" cy="360.3" r="4.9"/><circle cx="898.2" cy="43.4" r="4.2"/><circle cx="907.6" cy="293" r="4.1"/><circle cx="925.1" cy="189.7" r="4.7"/><circle cx="787.8" cy="89.4" r="4.9"/><circle cx="818.2" cy="77.8" r="4.5"/><circle cx="953.6" cy="198" r="4.1"/><circle cx="986.2" cy="89.2" r="4.9"/><circle cx="1028.3" cy="191" r="4.7"/><circle cx="996.1" cy="66" r="4.5"/><circle cx="848.6" cy="304.9" r="4.3"/><circle cx="954.1" cy="32.1" r="4"/><circle cx="991.1" cy="90.7" r="4.6"/><circle cx="750.8" cy="78.1" r="4.1"/><circle cx="980.8" cy="229" r="4.3"/><circle cx="981.1" cy="379" r="4.3"/><circle cx="746.9" cy="130.3" r="4.5"/><circle cx="923.4" cy="302.9" r="5.1"/><circle cx="960.3" cy="233.4" r="4.1"/><circle cx="827" cy="56.3" r="4.5"/><circle cx="836.3" cy="135.9" r="5.1"/><circle cx="803.5" cy="209.9" r="4.5"/><circle cx="788.3" cy="105.6" r="5.1"/><circle cx="793.4" cy="241.5" r="4"/><circle cx="739.9" cy="123.3" r="4"/><circle cx="984.2" cy="301.8" r="4.8"/><circle cx="823.1" cy="93.5" r="4.6"/><circle cx="947.8" cy="208.1" r="4.6"/><circle cx="766.1" cy="333.5" r="4.2"/><circle cx="754.9" cy="206.8" r="4.9"/><circle cx="813.8" cy="87" r="4.5"/><circle cx="816.9" cy="131.3" r="4.6"/><circle cx="863.7" cy="87.4" r="5.1"/><circle cx="948.5" cy="92" r="4.7"/><circle cx="1007.6" cy="346.5" r="4"/><circle cx="755.8" cy="379" r="4.4"/><circle cx="961.2" cy="211.4" r="4.9"/><circle cx="989.6" cy="199.7" r="4.6"/><circle cx="979.3" cy="252.2" r="4.4"/><circle cx="890.8" cy="240.2" r="4.5"/><circle cx="790.7" cy="41.6" r="4.8"/><circle cx="815.5" cy="51.2" r="4.6"/><circle cx="1030.7" cy="214.8" r="5.1"/><circle cx="751.2" cy="366.3" r="4.6"/><circle cx="915" cy="372.1" r="4.9"/><circle cx="858.4" cy="180.2" r="4.9"/><circle cx="841.4" cy="112.7" r="4.8"/><circle cx="888.4" cy="113.3" r="4.4"/><circle cx="941" cy="348.8" r="5"/><circle cx="873.7" cy="72.4" r="4.9"/><circle cx="914.1" cy="185.2" r="4.7"/><circle cx="877.4" cy="164.9" r="4.5"/><circle cx="825.8" cy="324.5" r="4.3"/><circle cx="1042" cy="332.2" r="4.6"/><circle cx="983.3" cy="336.6" r="5.1"/><circle cx="1036.9" cy="167.4" r="4.3"/><circle cx="981.2" cy="92.6" r="4.3"/><circle cx="992.7" cy="364.9" r="5.1"/><circle cx="873.9" cy="312.2" r="4.2"/><circle cx="760.4" cy="51.1" r="4.6"/><circle cx="858.9" cy="55.5" r="4.6"/><circle cx="804.6" cy="355.3" r="4.7"/><circle cx="1041.7" cy="322.3" r="5.1"/><circle cx="887.3" cy="207.9" r="4"/><circle cx="746.8" cy="157.6" r="4.1"/><circle cx="1004.6" cy="377.6" r="4.2"/><circle cx="1034.2" cy="370.1" r="4.5"/><circle cx="784.3" cy="66.7" r="4.5"/><circle cx="743.8" cy="356.9" r="5.1"/><circle cx="775.8" cy="275.2" r="4.9"/><circle cx="980.2" cy="172.8" r="4"/><circle cx="1028.6" cy="236.1" r="4.5"/><circle cx="835.4" cy="179.4" r="4.2"/><circle cx="849.3" cy="345.2" r="4.5"/><circle cx="826.8" cy="298.3" r="4.3"/><circle cx="972.4" cy="380.2" r="4.6"/><circle cx="996.1" cy="274.6" r="4.3"/><circle cx="962.6" cy="138.1" r="4.9"/><circle cx="876" cy="243" r="4.4"/><circle cx="992.6" cy="127.1" r="4.8"/><circle cx="999.1" cy="181.3" r="4.7"/><circle cx="766.4" cy="44.1" r="5"/><circle cx="834.2" cy="161.3" r="4"/><circle cx="1044.6" cy="275.4" r="4.4"/><circle cx="927.3" cy="328.4" r="5.1"/><circle cx="757.5" cy="103.6" r="4.5"/><circle cx="960.6" cy="122.6" r="4.5"/><circle cx="824.7" cy="314.5" r="5.1"/><circle cx="949" cy="339.6" r="5"/><circle cx="979.4" cy="306.1" r="5"/><circle cx="808.2" cy="186.4" r="4.7"/><circle cx="924.6" cy="153.6" r="4.9"/><circle cx="1037.4" cy="366.9" r="4.6"/><circle cx="910.8" cy="378" r="4.9"/><circle cx="793.2" cy="54.7" r="4.9"/><circle cx="900.5" cy="133.9" r="4.9"/><circle cx="774.4" cy="257.8" r="5"/><circle cx="978.7" cy="118.1" r="5"/><circle cx="756.3" cy="171.3" r="4.5"/><circle cx="750.7" cy="219.4" r="4.4"/><circle cx="805.2" cy="305.7" r="4.7"/><circle cx="971" cy="247" r="4.2"/><circle cx="878.4" cy="275.5" r="4.3"/><circle cx="887.5" cy="224.5" r="4.3"/><circle cx="914.9" cy="296.3" r="4.4"/><circle cx="852.4" cy="224.8" r="4.8"/><circle cx="798.5" cy="378.3" r="4"/><circle cx="915.3" cy="131.2" r="5.2"/><circle cx="1015.2" cy="208.2" r="5"/><circle cx="1042.9" cy="340.3" r="4.3"/><circle cx="790.5" cy="343.5" r="4.3"/><circle cx="908.7" cy="67.9" r="4.9"/><circle cx="846.4" cy="122.4" r="4.4"/><circle cx="738.5" cy="295.1" r="4.5"/><circle cx="970.2" cy="258.3" r="4"/><circle cx="947.9" cy="99.2" r="4.9"/><circle cx="750.9" cy="288.8" r="4"/><circle cx="975.9" cy="56.3" r="4.3"/><circle cx="897.8" cy="338.7" r="4.8"/><circle cx="974.6" cy="318.6" r="4.7"/><circle cx="838.6" cy="194" r="4"/><circle cx="879.8" cy="103.5" r="4.7"/><circle cx="1025" cy="99.9" r="4.1"/><circle cx="781" cy="349.1" r="4.5"/><circle cx="800.1" cy="252.1" r="4.4"/><circle cx="740.8" cy="309.8" r="5"/><circle cx="1018.7" cy="194.7" r="4.9"/><circle cx="1003.1" cy="129.8" r="4.6"/><circle cx="773.7" cy="191.1" r="4.9"/><circle cx="1004.8" cy="267.6" r="4.7"/><circle cx="1012" cy="212.1" r="4.2"/><circle cx="739.8" cy="99.6" r="5.2"/><circle cx="762" cy="114.5" r="4.5"/><circle cx="762.5" cy="295.8" r="4.9"/><circle cx="1013.1" cy="158.5" r="4.6"/><circle cx="912.1" cy="163.6" r="4.2"/><circle cx="996.2" cy="288.1" r="5"/><circle cx="840.1" cy="358.3" r="4.9"/><circle cx="863.6" cy="64.5" r="5.1"/><circle cx="790" cy="208.5" r="4.9"/><circle cx="788.2" cy="110.7" r="4.3"/><circle cx="889.2" cy="217.3" r="4.4"/><circle cx="879.7" cy="89.7" r="4"/><circle cx="809.7" cy="179.6" r="4.8"/><circle cx="894.1" cy="353.3" r="4.6"/><circle cx="948.2" cy="161.4" r="4.3"/><circle cx="850.2" cy="310.4" r="4"/><circle cx="813.8" cy="92.6" r="4.8"/><circle cx="852.5" cy="279.2" r="4.2"/><circle cx="849.2" cy="166.3" r="4.1"/><circle cx="747.9" cy="127.9" r="5"/><circle cx="840.1" cy="322.2" r="4.8"/><circle cx="756.9" cy="228.6" r="4.1"/><circle cx="747.8" cy="330.9" r="5"/><circle cx="1004.9" cy="42.3" r="4.9"/><circle cx="940.9" cy="77.9" r="5"/><circle cx="964.4" cy="358.4" r="4.3"/><circle cx="776.4" cy="67.4" r="5"/><circle cx="1021.7" cy="201.9" r="5"/><circle cx="841.7" cy="266.9" r="4.1"/><circle cx="858.3" cy="352.5" r="4.7"/><circle cx="989.3" cy="312.7" r="5"/><circle cx="827.1" cy="287.3" r="4.6"/><circle cx="997.1" cy="322.8" r="4.4"/><circle cx="861.6" cy="204.4" r="4.8"/><circle cx="1037.9" cy="111.9" r="5.1"/><circle cx="907.7" cy="154.8" r="4.2"/><circle cx="990.7" cy="319.3" r="4"/><circle cx="850.7" cy="57.1" r="4.8"/><circle cx="807.6" cy="149.7" r="5"/><circle cx="979.4" cy="67.3" r="4.2"/><circle cx="830.8" cy="221.3" r="4.1"/><circle cx="865.2" cy="47.9" r="5.1"/><circle cx="805.5" cy="206.8" r="4.1"/><circle cx="759.1" cy="77.6" r="5.1"/><circle cx="1041.2" cy="94.8" r="4.3"/><circle cx="1026.8" cy="86.3" r="4.8"/><circle cx="746.1" cy="292.8" r="4.4"/><circle cx="795.3" cy="309.4" r="4.1"/><circle cx="956.1" cy="106.7" r="4.3"/><circle cx="753.1" cy="357.1" r="4.3"/><circle cx="912.1" cy="334.7" r="4.8"/><circle cx="932.4" cy="129.9" r="4.3"/><circle cx="819" cy="69.5" r="4.6"/><circle cx="747.4" cy="163.1" r="4.3"/><circle cx="1044.2" cy="126.6" r="4.8"/><circle cx="985.7" cy="162.4" r="4.1"/><circle cx="899.3" cy="62.1" r="4.8"/><circle cx="1000.4" cy="96.4" r="4.2"/><circle cx="1047.1" cy="39.5" r="5"/><circle cx="865.3" cy="113.3" r="4.1"/><circle cx="1054.1" cy="120" r="5.1"/><circle cx="824.8" cy="197.3" r="4.6"/><circle cx="929.3" cy="115.2" r="4.5"/><circle cx="772.6" cy="158.6" r="5.1"/><circle cx="887" cy="251.2" r="4.5"/><circle cx="759.5" cy="351.2" r="4.7"/><circle cx="841.6" cy="57.3" r="5"/><circle cx="950.3" cy="299.5" r="4.2"/><circle cx="890.6" cy="60.2" r="4.8"/><circle cx="1052.7" cy="74.9" r="4.8"/><circle cx="877.6" cy="205.1" r="4.9"/><circle cx="889.8" cy="40.2" r="4"/><circle cx="864.2" cy="296.6" r="5.2"/><circle cx="946.8" cy="166.6" r="4.4"/><circle cx="807.5" cy="313.8" r="4"/><circle cx="759.4" cy="298.2" r="4.6"/><circle cx="835" cy="101.7" r="4.4"/><circle cx="835.5" cy="341.3" r="5"/><circle cx="799.2" cy="41" r="5"/><circle cx="817.9" cy="298.5" r="4.7"/><circle cx="801.5" cy="275.6" r="4.5"/><circle cx="760.4" cy="87.4" r="5.1"/><circle cx="1024.8" cy="370.2" r="4.3"/><circle cx="962.6" cy="200.3" r="5.1"/><circle cx="824.4" cy="319.1" r="5"/><circle cx="739.1" cy="339.7" r="4.6"/><circle cx="940.9" cy="150.8" r="4.5"/><circle cx="787.1" cy="90.6" r="4.6"/><circle cx="882.5" cy="291.9" r="4.2"/><circle cx="1043.3" cy="258.6" r="4.8"/><circle cx="778.9" cy="64.5" r="5.1"/><circle cx="869.9" cy="271.2" r="4.5"/><circle cx="789.4" cy="268.7" r="5"/><circle cx="868.3" cy="287" r="4.9"/><circle cx="944.7" cy="232" r="5.1"/><circle cx="868.9" cy="282" r="4.2"/><circle cx="818" cy="326.5" r="4.5"/><circle cx="786.3" cy="240.2" r="4.5"/><circle cx="868" cy="171.6" r="4.5"/><circle cx="789.8" cy="261.1" r="4.6"/><circle cx="784.6" cy="155.1" r="4.1"/><circle cx="861.4" cy="275.6" r="4.2"/><circle cx="856" cy="365.4" r="4.6"/><circle cx="1050.2" cy="325.9" r="4.8"/><circle cx="922.6" cy="47.5" r="4.7"/><circle cx="776.6" cy="32.1" r="3.8"/><circle cx="1012.4" cy="378" r="4.8"/><circle cx="1005.8" cy="272.7" r="5"/><circle cx="883.6" cy="280.4" r="4.4"/><circle cx="966.1" cy="330.8" r="4.7"/><circle cx="835.6" cy="78.1" r="4.9"/><circle cx="919" cy="363.1" r="4.9"/><circle cx="977.9" cy="40.4" r="4.9"/><circle cx="826.8" cy="277.9" r="4.4"/><circle cx="785.2" cy="275" r="5.2"/><circle cx="954.9" cy="116.4" r="4.5"/><circle cx="1003.2" cy="194.4" r="4.2"/><circle cx="751.4" cy="49.7" r="5"/><circle cx="1031" cy="139.2" r="4.3"/><circle cx="742.8" cy="46.2" r="4.2"/><circle cx="839.1" cy="292.8" r="4.7"/><circle cx="921.9" cy="297" r="4.5"/><circle cx="909.9" cy="200.1" r="4.7"/><circle cx="939.8" cy="135" r="4.4"/><circle cx="1023.2" cy="287.8" r="5.1"/><circle cx="843.3" cy="180.7" r="5.1"/><circle cx="1009" cy="103.3" r="5"/><circle cx="1002.2" cy="283.1" r="4.6"/><circle cx="913.4" cy="113.3" r="5.2"/><circle cx="842.5" cy="257.6" r="4.8"/><circle cx="1012" cy="121.6" r="4.5"/><circle cx="940.3" cy="101.5" r="4.2"/><circle cx="1048.3" cy="205.4" r="4.1"/><circle cx="950.9" cy="151.7" r="4.4"/><circle cx="941.1" cy="338" r="4.3"/><circle cx="955.9" cy="227.6" r="4.9"/><circle cx="953.5" cy="141.3" r="4.6"/><circle cx="804.5" cy="106.3" r="4.7"/><circle cx="994.9" cy="44.5" r="5.2"/><circle cx="1048.3" cy="38.4" r="4.4"/><circle cx="935.8" cy="311.8" r="5.2"/><circle cx="817.8" cy="246.6" r="4"/><circle cx="957.9" cy="340.1" r="4.9"/><circle cx="817.2" cy="272.3" r="4.6"/><circle cx="974.9" cy="59.3" r="5"/><circle cx="872.1" cy="125.5" r="4.6"/><circle cx="751" cy="240.8" r="4.1"/><circle cx="740.8" cy="371.8" r="4.9"/><circle cx="759.8" cy="371.8" r="4.9"/><circle cx="778.6" cy="371.8" r="4.9"/><circle cx="797.5" cy="371.8" r="4.9"/><circle cx="816.4" cy="371.8" r="4.9"/><circle cx="835.3" cy="371.8" r="4.9"/><circle cx="854.2" cy="371.8" r="4.9"/><circle cx="873.1" cy="371.8" r="4.9"/><circle cx="892" cy="371.8" r="4.9"/><circle cx="910.9" cy="371.8" r="4.9"/><circle cx="929.8" cy="371.8" r="4.9"/><circle cx="948.8" cy="371.8" r="4.9"/><circle cx="967.6" cy="371.8" r="4.9"/><circle cx="986.5" cy="371.8" r="4.9"/><circle cx="1005.4" cy="371.8" r="4.9"/><circle cx="1024.3" cy="371.8" r="4.9"/><circle cx="1043.2" cy="371.8" r="4.9"/><circle cx="1062.1" cy="371.8" r="4.9"/><circle cx="1081" cy="371.8" r="4.9"/><circle cx="731.4" cy="380.2" r="4.9"/><circle cx="750.3" cy="380.2" r="4.9"/><circle cx="769.2" cy="380.2" r="4.9"/><circle cx="788.1" cy="380.2" r="4.9"/><circle cx="807" cy="380.2" r="4.9"/><circle cx="825.9" cy="380.2" r="4.9"/><circle cx="844.8" cy="380.2" r="4.9"/><circle cx="863.7" cy="380.2" r="4.9"/><circle cx="882.6" cy="380.2" r="4.9"/><circle cx="901.5" cy="380.2" r="4.9"/><circle cx="920.4" cy="380.2" r="4.9"/><circle cx="939.3" cy="380.2" r="4.9"/><circle cx="958.2" cy="380.2" r="4.9"/><circle cx="977.1" cy="380.2" r="4.9"/><circle cx="996" cy="380.2" r="4.9"/><circle cx="1014.9" cy="380.2" r="4.9"/><circle cx="1033.8" cy="380.2" r="4.9"/><circle cx="1052.7" cy="380.2" r="4.9"/><circle cx="1071.6" cy="380.2" r="4.9"/><circle cx="740.8" cy="388.7" r="4.9"/><circle cx="759.8" cy="388.7" r="4.9"/><circle cx="778.6" cy="388.7" r="4.9"/><circle cx="797.5" cy="388.7" r="4.9"/><circle cx="816.4" cy="388.7" r="4.9"/><circle cx="835.3" cy="388.7" r="4.9"/><circle cx="854.2" cy="388.7" r="4.9"/><circle cx="873.1" cy="388.7" r="4.9"/><circle cx="892" cy="388.7" r="4.9"/><circle cx="910.9" cy="388.7" r="4.9"/><circle cx="929.8" cy="388.7" r="4.9"/><circle cx="948.8" cy="388.7" r="4.9"/><circle cx="967.6" cy="388.7" r="4.9"/><circle cx="986.5" cy="388.7" r="4.9"/><circle cx="1005.4" cy="388.7" r="4.9"/><circle cx="1024.3" cy="388.7" r="4.9"/><circle cx="1043.2" cy="388.7" r="4.9"/><circle cx="1062.1" cy="388.7" r="4.9"/><circle cx="1081" cy="388.7" r="4.9"/><circle cx="731.4" cy="397.2" r="4.9"/><circle cx="750.3" cy="397.2" r="4.9"/><circle cx="769.2" cy="397.2" r="4.9"/><circle cx="788.1" cy="397.2" r="4.9"/><circle cx="807" cy="397.2" r="4.9"/><circle cx="825.9" cy="397.2" r="4.9"/><circle cx="844.8" cy="397.2" r="4.9"/><circle cx="863.7" cy="397.2" r="4.9"/><circle cx="882.6" cy="397.2" r="4.9"/><circle cx="901.5" cy="397.2" r="4.9"/><circle cx="920.4" cy="397.2" r="4.9"/><circle cx="939.3" cy="397.2" r="4.9"/><circle cx="958.2" cy="397.2" r="4.9"/><circle cx="977.1" cy="397.2" r="4.9"/><circle cx="996" cy="397.2" r="4.9"/><circle cx="1014.9" cy="397.2" r="4.9"/><circle cx="1033.8" cy="397.2" r="4.9"/><circle cx="1052.7" cy="397.2" r="4.9"/><circle cx="1071.6" cy="397.2" r="4.9"/><circle cx="740.8" cy="405.6" r="4.9"/><circle cx="759.8" cy="405.6" r="4.9"/><circle cx="778.6" cy="405.6" r="4.9"/><circle cx="797.5" cy="405.6" r="4.9"/><circle cx="816.4" cy="405.6" r="4.9"/><circle cx="835.3" cy="405.6" r="4.9"/><circle cx="854.2" cy="405.6" r="4.9"/><circle cx="873.1" cy="405.6" r="4.9"/><circle cx="892" cy="405.6" r="4.9"/><circle cx="910.9" cy="405.6" r="4.9"/><circle cx="929.8" cy="405.6" r="4.9"/><circle cx="948.8" cy="405.6" r="4.9"/><circle cx="967.6" cy="405.6" r="4.9"/><circle cx="986.5" cy="405.6" r="4.9"/><circle cx="1005.4" cy="405.6" r="4.9"/><circle cx="1024.3" cy="405.6" r="4.9"/><circle cx="1043.2" cy="405.6" r="4.9"/><circle cx="1062.1" cy="405.6" r="4.9"/><circle cx="1081" cy="405.6" r="4.9"/><circle cx="731.4" cy="414.1" r="4.9"/><circle cx="750.3" cy="414.1" r="4.9"/><circle cx="769.2" cy="414.1" r="4.9"/><circle cx="788.1" cy="414.1" r="4.9"/><circle cx="807" cy="414.1" r="4.9"/><circle cx="825.9" cy="414.1" r="4.9"/><circle cx="844.8" cy="414.1" r="4.9"/><circle cx="863.7" cy="414.1" r="4.9"/><circle cx="882.6" cy="414.1" r="4.9"/><circle cx="901.5" cy="414.1" r="4.9"/><circle cx="920.4" cy="414.1" r="4.9"/><circle cx="939.3" cy="414.1" r="4.9"/><circle cx="958.2" cy="414.1" r="4.9"/><circle cx="977.1" cy="414.1" r="4.9"/><circle cx="996" cy="414.1" r="4.9"/><circle cx="1014.9" cy="414.1" r="4.9"/><circle cx="1033.8" cy="414.1" r="4.9"/><circle cx="1052.7" cy="414.1" r="4.9"/><circle cx="1071.6" cy="414.1" r="4.9"/><circle cx="740.8" cy="422.5" r="4.9"/><circle cx="759.8" cy="422.5" r="4.9"/><circle cx="778.6" cy="422.5" r="4.9"/><circle cx="797.5" cy="422.5" r="4.9"/><circle cx="816.4" cy="422.5" r="4.9"/><circle cx="835.3" cy="422.5" r="4.9"/><circle cx="854.2" cy="422.5" r="4.9"/><circle cx="873.1" cy="422.5" r="4.9"/><circle cx="892" cy="422.5" r="4.9"/><circle cx="910.9" cy="422.5" r="4.9"/><circle cx="929.8" cy="422.5" r="4.9"/><circle cx="948.8" cy="422.5" r="4.9"/><circle cx="967.6" cy="422.5" r="4.9"/><circle cx="986.5" cy="422.5" r="4.9"/><circle cx="1005.4" cy="422.5" r="4.9"/><circle cx="1024.3" cy="422.5" r="4.9"/><circle cx="1043.2" cy="422.5" r="4.9"/><circle cx="1062.1" cy="422.5" r="4.9"/><circle cx="1081" cy="422.5" r="4.9"/><circle cx="731.4" cy="431" r="4.9"/><circle cx="750.3" cy="431" r="4.9"/><circle cx="769.2" cy="431" r="4.9"/><circle cx="788.1" cy="431" r="4.9"/><circle cx="807" cy="431" r="4.9"/><circle cx="825.9" cy="431" r="4.9"/><circle cx="844.8" cy="431" r="4.9"/><circle cx="863.7" cy="431" r="4.9"/><circle cx="882.6" cy="431" r="4.9"/><circle cx="901.5" cy="431" r="4.9"/><circle cx="920.4" cy="431" r="4.9"/><circle cx="939.3" cy="431" r="4.9"/><circle cx="958.2" cy="431" r="4.9"/><circle cx="977.1" cy="431" r="4.9"/><circle cx="996" cy="431" r="4.9"/><circle cx="1014.9" cy="431" r="4.9"/><circle cx="1033.8" cy="431" r="4.9"/><circle cx="1052.7" cy="431" r="4.9"/><circle cx="1071.6" cy="431" r="4.9"/><circle cx="740.8" cy="439.5" r="4.9"/><circle cx="759.8" cy="439.5" r="4.9"/><circle cx="778.6" cy="439.5" r="4.9"/><circle cx="797.5" cy="439.5" r="4.9"/><circle cx="816.4" cy="439.5" r="4.9"/><circle cx="835.3" cy="439.5" r="4.9"/><circle cx="854.2" cy="439.5" r="4.9"/><circle cx="873.1" cy="439.5" r="4.9"/><circle cx="892" cy="439.5" r="4.9"/><circle cx="910.9" cy="439.5" r="4.9"/><circle cx="929.8" cy="439.5" r="4.9"/><circle cx="948.8" cy="439.5" r="4.9"/><circle cx="967.6" cy="439.5" r="4.9"/><circle cx="986.5" cy="439.5" r="4.9"/><circle cx="1005.4" cy="439.5" r="4.9"/><circle cx="1024.3" cy="439.5" r="4.9"/><circle cx="1043.2" cy="439.5" r="4.9"/><circle cx="1062.1" cy="439.5" r="4.9"/><circle cx="1081" cy="439.5" r="4.9"/><circle cx="731.4" cy="447.9" r="4.9"/><circle cx="750.3" cy="447.9" r="4.9"/><circle cx="769.2" cy="447.9" r="4.9"/><circle cx="788.1" cy="447.9" r="4.9"/><circle cx="807" cy="447.9" r="4.9"/><circle cx="825.9" cy="447.9" r="4.9"/><circle cx="844.8" cy="447.9" r="4.9"/><circle cx="863.7" cy="447.9" r="4.9"/><circle cx="882.6" cy="447.9" r="4.9"/><circle cx="901.5" cy="447.9" r="4.9"/><circle cx="920.4" cy="447.9" r="4.9"/><circle cx="939.3" cy="447.9" r="4.9"/><circle cx="958.2" cy="447.9" r="4.9"/><circle cx="977.1" cy="447.9" r="4.9"/><circle cx="996" cy="447.9" r="4.9"/><circle cx="1014.9" cy="447.9" r="4.9"/><circle cx="1033.8" cy="447.9" r="4.9"/><circle cx="1052.7" cy="447.9" r="4.9"/><circle cx="1071.6" cy="447.9" r="4.9"/><circle cx="740.8" cy="456.4" r="4.9"/><circle cx="759.8" cy="456.4" r="4.9"/><circle cx="778.6" cy="456.4" r="4.9"/><circle cx="797.5" cy="456.4" r="4.9"/><circle cx="816.4" cy="456.4" r="4.9"/><circle cx="835.3" cy="456.4" r="4.9"/><circle cx="854.2" cy="456.4" r="4.9"/><circle cx="873.1" cy="456.4" r="4.9"/><circle cx="892" cy="456.4" r="4.9"/><circle cx="910.9" cy="456.4" r="4.9"/><circle cx="929.8" cy="456.4" r="4.9"/><circle cx="948.8" cy="456.4" r="4.9"/><circle cx="967.6" cy="456.4" r="4.9"/><circle cx="986.5" cy="456.4" r="4.9"/><circle cx="1005.4" cy="456.4" r="4.9"/><circle cx="1024.3" cy="456.4" r="4.9"/><circle cx="1043.2" cy="456.4" r="4.9"/><circle cx="1062.1" cy="456.4" r="4.9"/><circle cx="1081" cy="456.4" r="4.9"/><circle cx="736.7" cy="456.4" r="4.8"/><circle cx="746.3" cy="456.7" r="4.8"/><circle cx="755.8" cy="455.5" r="4.8"/><circle cx="764.9" cy="456.8" r="4.8"/><circle cx="775" cy="455.6" r="4.8"/><circle cx="782.5" cy="456.8" r="4.8"/><circle cx="792.8" cy="456.6" r="4.8"/><circle cx="803.7" cy="455.8" r="4.8"/><circle cx="811" cy="456" r="4.8"/><circle cx="823.1" cy="456.2" r="4.8"/><circle cx="830.5" cy="455.7" r="4.8"/><circle cx="841.3" cy="457" r="4.8"/><circle cx="848.5" cy="456.6" r="4.8"/><circle cx="858" cy="456.9" r="4.8"/><circle cx="867.8" cy="456.4" r="4.8"/><circle cx="877.4" cy="456.3" r="4.8"/><circle cx="888.3" cy="455.8" r="4.8"/><circle cx="898" cy="456.4" r="4.8"/><circle cx="905.6" cy="456.5" r="4.8"/><circle cx="917" cy="457" r="4.8"/><circle cx="924.3" cy="456.7" r="4.8"/><circle cx="935.2" cy="457.1" r="4.8"/><circle cx="944.9" cy="456.7" r="4.8"/><circle cx="954.6" cy="456.1" r="4.8"/><circle cx="962.9" cy="456.5" r="4.8"/><circle cx="971.4" cy="456.1" r="4.8"/><circle cx="981" cy="456.5" r="4.8"/><circle cx="990.8" cy="456.6" r="4.8"/><circle cx="1000.4" cy="456.6" r="4.8"/><circle cx="1010" cy="456.9" r="4.8"/><circle cx="1020.8" cy="456" r="4.8"/><circle cx="1028.8" cy="455.5" r="4.8"/><circle cx="1039.2" cy="456.1" r="4.8"/><circle cx="1047.8" cy="456.5" r="4.8"/><circle cx="1057.6" cy="456.4" r="4.8"/><circle cx="1068.3" cy="457.1" r="4.8"/><circle cx="1078.2" cy="456.8" r="4.8"/></g>
<g fill="#fff" stroke="#5a5a5a" stroke-width="0.9"><ellipse cx="769.2" cy="371.8" rx="4.0" ry="3.1"/><ellipse cx="844.8" cy="371.8" rx="4.0" ry="3.1"/><ellipse cx="901.5" cy="371.8" rx="4.0" ry="3.1"/><ellipse cx="939.3" cy="371.8" rx="4.0" ry="3.1"/><ellipse cx="996" cy="371.8" rx="4.0" ry="3.1"/><ellipse cx="1014.9" cy="371.8" rx="4.0" ry="3.1"/><ellipse cx="759.8" cy="380.2" rx="4.0" ry="3.1"/><ellipse cx="986.5" cy="380.2" rx="4.0" ry="3.1"/><ellipse cx="1005.4" cy="380.2" rx="4.0" ry="3.1"/><ellipse cx="1024.3" cy="380.2" rx="4.0" ry="3.1"/><ellipse cx="1081" cy="380.2" rx="4.0" ry="3.1"/><ellipse cx="731.4" cy="388.7" rx="4.0" ry="3.1"/><ellipse cx="750.3" cy="388.7" rx="4.0" ry="3.1"/><ellipse cx="769.2" cy="388.7" rx="4.0" ry="3.1"/><ellipse cx="788.1" cy="388.7" rx="4.0" ry="3.1"/><ellipse cx="807" cy="388.7" rx="4.0" ry="3.1"/><ellipse cx="825.9" cy="388.7" rx="4.0" ry="3.1"/><ellipse cx="844.8" cy="388.7" rx="4.0" ry="3.1"/><ellipse cx="863.7" cy="388.7" rx="4.0" ry="3.1"/><ellipse cx="882.6" cy="388.7" rx="4.0" ry="3.1"/><ellipse cx="901.5" cy="388.7" rx="4.0" ry="3.1"/><ellipse cx="920.4" cy="388.7" rx="4.0" ry="3.1"/><ellipse cx="939.3" cy="388.7" rx="4.0" ry="3.1"/><ellipse cx="958.2" cy="388.7" rx="4.0" ry="3.1"/><ellipse cx="977.1" cy="388.7" rx="4.0" ry="3.1"/><ellipse cx="996" cy="388.7" rx="4.0" ry="3.1"/><ellipse cx="1014.9" cy="388.7" rx="4.0" ry="3.1"/><ellipse cx="1033.8" cy="388.7" rx="4.0" ry="3.1"/><ellipse cx="1052.7" cy="388.7" rx="4.0" ry="3.1"/><ellipse cx="1071.6" cy="388.7" rx="4.0" ry="3.1"/><ellipse cx="740.8" cy="397.2" rx="4.0" ry="3.1"/><ellipse cx="759.8" cy="397.2" rx="4.0" ry="3.1"/><ellipse cx="778.6" cy="397.2" rx="4.0" ry="3.1"/><ellipse cx="797.5" cy="397.2" rx="4.0" ry="3.1"/><ellipse cx="816.4" cy="397.2" rx="4.0" ry="3.1"/><ellipse cx="835.3" cy="397.2" rx="4.0" ry="3.1"/><ellipse cx="854.2" cy="397.2" rx="4.0" ry="3.1"/><ellipse cx="873.1" cy="397.2" rx="4.0" ry="3.1"/><ellipse cx="892" cy="397.2" rx="4.0" ry="3.1"/><ellipse cx="910.9" cy="397.2" rx="4.0" ry="3.1"/><ellipse cx="929.8" cy="397.2" rx="4.0" ry="3.1"/><ellipse cx="948.8" cy="397.2" rx="4.0" ry="3.1"/><ellipse cx="967.6" cy="397.2" rx="4.0" ry="3.1"/><ellipse cx="986.5" cy="397.2" rx="4.0" ry="3.1"/><ellipse cx="1005.4" cy="397.2" rx="4.0" ry="3.1"/><ellipse cx="1024.3" cy="397.2" rx="4.0" ry="3.1"/><ellipse cx="1043.2" cy="397.2" rx="4.0" ry="3.1"/><ellipse cx="1062.1" cy="397.2" rx="4.0" ry="3.1"/><ellipse cx="1081" cy="397.2" rx="4.0" ry="3.1"/><ellipse cx="731.4" cy="405.6" rx="4.0" ry="3.1"/><ellipse cx="750.3" cy="405.6" rx="4.0" ry="3.1"/><ellipse cx="769.2" cy="405.6" rx="4.0" ry="3.1"/><ellipse cx="788.1" cy="405.6" rx="4.0" ry="3.1"/><ellipse cx="807" cy="405.6" rx="4.0" ry="3.1"/><ellipse cx="825.9" cy="405.6" rx="4.0" ry="3.1"/><ellipse cx="844.8" cy="405.6" rx="4.0" ry="3.1"/><ellipse cx="863.7" cy="405.6" rx="4.0" ry="3.1"/><ellipse cx="882.6" cy="405.6" rx="4.0" ry="3.1"/><ellipse cx="901.5" cy="405.6" rx="4.0" ry="3.1"/><ellipse cx="920.4" cy="405.6" rx="4.0" ry="3.1"/><ellipse cx="939.3" cy="405.6" rx="4.0" ry="3.1"/><ellipse cx="958.2" cy="405.6" rx="4.0" ry="3.1"/><ellipse cx="977.1" cy="405.6" rx="4.0" ry="3.1"/><ellipse cx="996" cy="405.6" rx="4.0" ry="3.1"/><ellipse cx="1014.9" cy="405.6" rx="4.0" ry="3.1"/><ellipse cx="1033.8" cy="405.6" rx="4.0" ry="3.1"/><ellipse cx="1052.7" cy="405.6" rx="4.0" ry="3.1"/><ellipse cx="1071.6" cy="405.6" rx="4.0" ry="3.1"/><ellipse cx="740.8" cy="414.1" rx="4.0" ry="3.1"/><ellipse cx="759.8" cy="414.1" rx="4.0" ry="3.1"/><ellipse cx="778.6" cy="414.1" rx="4.0" ry="3.1"/><ellipse cx="797.5" cy="414.1" rx="4.0" ry="3.1"/><ellipse cx="816.4" cy="414.1" rx="4.0" ry="3.1"/><ellipse cx="835.3" cy="414.1" rx="4.0" ry="3.1"/><ellipse cx="854.2" cy="414.1" rx="4.0" ry="3.1"/><ellipse cx="873.1" cy="414.1" rx="4.0" ry="3.1"/><ellipse cx="892" cy="414.1" rx="4.0" ry="3.1"/><ellipse cx="910.9" cy="414.1" rx="4.0" ry="3.1"/><ellipse cx="929.8" cy="414.1" rx="4.0" ry="3.1"/><ellipse cx="948.8" cy="414.1" rx="4.0" ry="3.1"/><ellipse cx="967.6" cy="414.1" rx="4.0" ry="3.1"/><ellipse cx="986.5" cy="414.1" rx="4.0" ry="3.1"/><ellipse cx="1005.4" cy="414.1" rx="4.0" ry="3.1"/><ellipse cx="1024.3" cy="414.1" rx="4.0" ry="3.1"/><ellipse cx="1043.2" cy="414.1" rx="4.0" ry="3.1"/><ellipse cx="1062.1" cy="414.1" rx="4.0" ry="3.1"/><ellipse cx="1081" cy="414.1" rx="4.0" ry="3.1"/><ellipse cx="731.4" cy="422.5" rx="4.0" ry="3.1"/><ellipse cx="750.3" cy="422.5" rx="4.0" ry="3.1"/><ellipse cx="769.2" cy="422.5" rx="4.0" ry="3.1"/><ellipse cx="788.1" cy="422.5" rx="4.0" ry="3.1"/><ellipse cx="807" cy="422.5" rx="4.0" ry="3.1"/><ellipse cx="825.9" cy="422.5" rx="4.0" ry="3.1"/><ellipse cx="844.8" cy="422.5" rx="4.0" ry="3.1"/><ellipse cx="863.7" cy="422.5" rx="4.0" ry="3.1"/><ellipse cx="882.6" cy="422.5" rx="4.0" ry="3.1"/><ellipse cx="901.5" cy="422.5" rx="4.0" ry="3.1"/><ellipse cx="920.4" cy="422.5" rx="4.0" ry="3.1"/><ellipse cx="939.3" cy="422.5" rx="4.0" ry="3.1"/><ellipse cx="958.2" cy="422.5" rx="4.0" ry="3.1"/><ellipse cx="977.1" cy="422.5" rx="4.0" ry="3.1"/><ellipse cx="996" cy="422.5" rx="4.0" ry="3.1"/><ellipse cx="1014.9" cy="422.5" rx="4.0" ry="3.1"/><ellipse cx="1033.8" cy="422.5" rx="4.0" ry="3.1"/><ellipse cx="1052.7" cy="422.5" rx="4.0" ry="3.1"/><ellipse cx="1071.6" cy="422.5" rx="4.0" ry="3.1"/><ellipse cx="740.8" cy="431" rx="4.0" ry="3.1"/><ellipse cx="759.8" cy="431" rx="4.0" ry="3.1"/><ellipse cx="778.6" cy="431" rx="4.0" ry="3.1"/><ellipse cx="797.5" cy="431" rx="4.0" ry="3.1"/><ellipse cx="816.4" cy="431" rx="4.0" ry="3.1"/><ellipse cx="835.3" cy="431" rx="4.0" ry="3.1"/><ellipse cx="854.2" cy="431" rx="4.0" ry="3.1"/><ellipse cx="873.1" cy="431" rx="4.0" ry="3.1"/><ellipse cx="892" cy="431" rx="4.0" ry="3.1"/><ellipse cx="910.9" cy="431" rx="4.0" ry="3.1"/><ellipse cx="929.8" cy="431" rx="4.0" ry="3.1"/><ellipse cx="948.8" cy="431" rx="4.0" ry="3.1"/><ellipse cx="967.6" cy="431" rx="4.0" ry="3.1"/><ellipse cx="986.5" cy="431" rx="4.0" ry="3.1"/><ellipse cx="1005.4" cy="431" rx="4.0" ry="3.1"/><ellipse cx="1024.3" cy="431" rx="4.0" ry="3.1"/><ellipse cx="1043.2" cy="431" rx="4.0" ry="3.1"/><ellipse cx="1062.1" cy="431" rx="4.0" ry="3.1"/><ellipse cx="1081" cy="431" rx="4.0" ry="3.1"/><ellipse cx="731.4" cy="439.5" rx="4.0" ry="3.1"/><ellipse cx="750.3" cy="439.5" rx="4.0" ry="3.1"/><ellipse cx="769.2" cy="439.5" rx="4.0" ry="3.1"/><ellipse cx="788.1" cy="439.5" rx="4.0" ry="3.1"/><ellipse cx="807" cy="439.5" rx="4.0" ry="3.1"/><ellipse cx="825.9" cy="439.5" rx="4.0" ry="3.1"/><ellipse cx="844.8" cy="439.5" rx="4.0" ry="3.1"/><ellipse cx="863.7" cy="439.5" rx="4.0" ry="3.1"/><ellipse cx="882.6" cy="439.5" rx="4.0" ry="3.1"/><ellipse cx="901.5" cy="439.5" rx="4.0" ry="3.1"/><ellipse cx="920.4" cy="439.5" rx="4.0" ry="3.1"/><ellipse cx="939.3" cy="439.5" rx="4.0" ry="3.1"/><ellipse cx="958.2" cy="439.5" rx="4.0" ry="3.1"/><ellipse cx="977.1" cy="439.5" rx="4.0" ry="3.1"/><ellipse cx="996" cy="439.5" rx="4.0" ry="3.1"/><ellipse cx="1014.9" cy="439.5" rx="4.0" ry="3.1"/><ellipse cx="1033.8" cy="439.5" rx="4.0" ry="3.1"/><ellipse cx="1052.7" cy="439.5" rx="4.0" ry="3.1"/><ellipse cx="1071.6" cy="439.5" rx="4.0" ry="3.1"/><ellipse cx="740.8" cy="447.9" rx="4.0" ry="3.1"/><ellipse cx="759.8" cy="447.9" rx="4.0" ry="3.1"/><ellipse cx="778.6" cy="447.9" rx="4.0" ry="3.1"/><ellipse cx="797.5" cy="447.9" rx="4.0" ry="3.1"/><ellipse cx="816.4" cy="447.9" rx="4.0" ry="3.1"/><ellipse cx="835.3" cy="447.9" rx="4.0" ry="3.1"/><ellipse cx="854.2" cy="447.9" rx="4.0" ry="3.1"/><ellipse cx="873.1" cy="447.9" rx="4.0" ry="3.1"/><ellipse cx="892" cy="447.9" rx="4.0" ry="3.1"/><ellipse cx="910.9" cy="447.9" rx="4.0" ry="3.1"/><ellipse cx="929.8" cy="447.9" rx="4.0" ry="3.1"/><ellipse cx="948.8" cy="447.9" rx="4.0" ry="3.1"/><ellipse cx="967.6" cy="447.9" rx="4.0" ry="3.1"/><ellipse cx="986.5" cy="447.9" rx="4.0" ry="3.1"/><ellipse cx="1005.4" cy="447.9" rx="4.0" ry="3.1"/><ellipse cx="1024.3" cy="447.9" rx="4.0" ry="3.1"/><ellipse cx="1043.2" cy="447.9" rx="4.0" ry="3.1"/><ellipse cx="1062.1" cy="447.9" rx="4.0" ry="3.1"/><ellipse cx="1081" cy="447.9" rx="4.0" ry="3.1"/><ellipse cx="759.8" cy="346.4" rx="4.0" ry="3.1"/><ellipse cx="816.4" cy="346.4" rx="4.0" ry="3.1"/><ellipse cx="892" cy="346.4" rx="4.0" ry="3.1"/><ellipse cx="967.6" cy="346.4" rx="4.0" ry="3.1"/><ellipse cx="788.1" cy="354.9" rx="4.0" ry="3.1"/><ellipse cx="740.8" cy="363.3" rx="4.0" ry="3.1"/><ellipse cx="778.6" cy="363.3" rx="4.0" ry="3.1"/><ellipse cx="797.5" cy="363.3" rx="4.0" ry="3.1"/></g>
<rect x="742.3" y="460.2" width="306.3" height="2" fill="#fff"/>
<g fill="#fafafa"><polygon points="893.1,211.9 890.1,214.9 888.1,213.6 888.7,210.9 890,209.5"/><polygon points="903.2,215.2 901.6,216.3 900.1,216.2 899.1,214 902,213"/><polygon points="935.4,200.6 932.8,202.7 929.8,201.9 929,199.7 932.7,199.3"/><polygon points="951.4,160.4 950.1,161.9 948.8,161.1 948.8,160 950.8,159.2"/><polygon points="925,186.1 923.4,187.4 921.7,187.4 921.2,185.7 923.6,184.3"/><polygon points="802.1,103.4 800,106.7 796.8,104.3 795.8,101.5 799.4,99.9"/><polygon points="890.6,349.7 890.2,351.3 887.4,350.7 887.8,349.1 889.3,348.7"/><polygon points="1003.2,263.1 1002.3,264.6 999.8,264.1 1000.2,262 1001.9,261.7"/><polygon points="892.9,260.7 891,263.4 888.6,262.4 888.5,260.1 890.8,259.3"/><polygon points="931.2,89.1 929.2,90.7 927.4,89.6 927.5,88 930.1,86.9"/><polygon points="930.2,199.2 928.2,200.5 925.3,199.8 926.2,197.7 928.9,197.3"/><polygon points="921.9,66.9 919,69.6 916.6,68.6 914.8,64.4 919.1,62.9"/><polygon points="854.5,242 852.9,243.9 849.6,243.3 850.3,241.2 852.1,241"/><polygon points="907.9,138.8 906.5,140.1 903,139.6 903.5,138 906.2,137.3"/><polygon points="779.6,82.6 779,84.4 776.3,84.3 776.2,82.2 779.2,81.2"/><polygon points="760,359 759.1,361 755.4,360.2 755.3,357.6 758.4,355.9"/><polygon points="1031.6,208.6 1030.2,209.8 1028.2,209.3 1028.3,207.9 1030.8,207.6"/><polygon points="806.8,62.4 802.8,64 798.9,63.9 799.2,59.4 803.2,59"/><polygon points="866.8,57.3 864.8,59.3 862.7,58.4 863.5,56.5 864.8,56.1"/><polygon points="782.7,224.1 781.8,225.7 779.4,224.8 779,222.1 780.6,221.4"/><polygon points="816,184.1 814.6,185.6 810.9,185.2 811,182.8 815.1,182"/><polygon points="1027.9,322.9 1026.5,324.7 1023.9,324.5 1023.2,322.6 1026,321.7"/><polygon points="842.2,248.4 840.1,250.9 838.1,249.6 837.7,247.8 840.6,247.3"/><polygon points="823.1,112.9 820.9,114.3 816.7,113.6 818,111.3 820.5,110.6"/><polygon points="868.2,64.8 864.5,67.8 859.8,65.6 860.6,61.7 866,61.8"/><polygon points="887.7,96.2 885.3,96.9 882.3,97.4 881.3,94.2 885.3,93.5"/><polygon points="755.8,174.3 753.2,176.1 749.2,175.3 750.5,172.7 752.9,172.5"/><polygon points="982.4,135.8 980.2,137.1 977.7,136.7 977,133.9 980,134.7"/><polygon points="971.6,177.9 969.4,179.7 968.3,179.1 968,177.8 969.5,176.8"/><polygon points="789.5,297.7 788.1,299.2 786.5,298.4 786.4,296.8 789,296"/><polygon points="884.2,292.1 882.9,293.3 880.7,293 881.5,291.7 883.5,291.3"/><polygon points="895.4,77.9 892.7,79.9 889.2,79.5 889.3,74.9 894.2,74.3"/><polygon points="997.1,50.9 994.2,52.2 990.6,52.8 990,48.6 994.5,48.2"/><polygon points="1037.7,70.7 1034.8,73.7 1030.7,73.1 1031.6,70.1 1034.4,68.6"/><polygon points="944.1,108.6 941.2,111.1 935.7,110 936,105.8 941,105.5"/><polygon points="947,159.5 946.1,161.1 943.7,160.6 942.9,158.9 945.4,158"/><polygon points="827.3,360.9 825.6,361.7 823.7,361.3 823.2,359.5 825.6,359.3"/><polygon points="859.4,258.5 856.9,259.6 853.5,259 853.4,257.1 857.5,256.6"/><polygon points="896.4,50.6 895.7,53.4 892.4,51.1 892.3,49.2 896.4,48"/><polygon points="951.8,324 950.6,325.5 948.1,324.6 948.9,322.9 950.5,322.6"/><polygon points="1047.1,97.2 1046.4,98.9 1043.5,98.4 1044,96.4 1046.5,95.6"/><polygon points="920.9,265.5 920.1,267.2 917.4,266 918.5,264.9 920.6,264.2"/><polygon points="861.9,171.6 860.7,172.8 857.8,172.4 857.8,170.8 860.3,170.4"/><polygon points="989.5,164.9 988.2,167 985.4,165.5 985.6,164.3 987,163.3"/><polygon points="879,190.6 877.9,191.9 875.9,192 876.1,190.5 878.3,190"/><polygon points="887,320.2 884.6,321.9 881.8,321.6 881.9,319.6 884.3,317.7"/><polygon points="968.7,295.3 966.2,297.1 965.1,296.3 964.4,293.9 966.2,294.3"/><polygon points="842.1,143.6 841.1,145.1 838.9,144.5 838.9,143 841,142.4"/><polygon points="796.3,189.9 795.8,190.8 793.9,190.4 793.6,189.3 796,188.4"/><polygon points="774.2,112.2 773.3,113 769.9,113.8 770.8,110.6 772.7,109"/><polygon points="838.2,157.3 837.8,159 835.9,157.8 835.6,155.9 836.9,155.2"/><polygon points="851.1,159.2 850.4,161.3 846.1,161.2 846.6,157.3 849.8,157.2"/><polygon points="896.3,172.5 895.1,175.6 890.7,173.8 890.6,171.5 895.1,170.4"/><polygon points="981.1,264.5 980,266.1 978.2,265.3 977.4,263.4 980.9,262.9"/><polygon points="1044.4,121.4 1042.4,123.5 1041,122.1 1041.1,120.5 1043.4,119.8"/><polygon points="996.7,298.8 995.9,299.6 994.7,299.4 994.9,297.8 996.3,297.2"/><polygon points="889.9,368.2 887.8,369.7 885.7,369.7 886.1,367.5 888.5,365.8"/><polygon points="826.8,304.5 825.7,306.6 821.4,306.2 821.5,302.4 825.4,302.6"/><polygon points="943.3,192.3 942.2,193.6 939.5,194.2 938.8,190.2 941.8,189.2"/><polygon points="1037.5,306 1036.1,308.9 1033.6,307 1033.5,305.1 1035.7,304"/><polygon points="1045.5,200.2 1043.9,201.8 1040,202.3 1039.4,198.3 1044,198.6"/><polygon points="877.1,178.4 874.7,181.1 872.7,180 870.9,177.5 874.5,177.1"/><polygon points="754.2,89.7 752.6,92.1 749.4,90.5 748.9,87.8 751.9,87.6"/><polygon points="792.9,296.6 791,299.3 788.8,297.3 789.2,295.1 792.5,293.5"/><polygon points="900,224.3 897.7,227.1 894,226.3 894.6,222.1 898.6,220.9"/><polygon points="976.9,265.4 976.1,267.4 972.9,267 972.3,263.3 975.5,262.3"/><polygon points="995.1,255.5 993.2,257.8 990.7,256.4 990.9,254.5 993.1,254.4"/><polygon points="993.4,177.7 993,179.2 991.5,178.7 991.1,176.7 992.8,176.9"/><polygon points="766,91.3 762.7,92.7 759.6,91.9 758.4,88.1 762.9,88.4"/><polygon points="1029.9,66.9 1028.9,69 1024.7,68.6 1025.7,66.2 1029.1,65.1"/><polygon points="881.9,72.6 880.6,75.3 876.3,73.8 876.7,71.6 879.3,70.8"/><polygon points="810.9,110.9 810.4,113.9 805.2,113 805.6,110 809.5,108.1"/><polygon points="933.9,256.7 932.6,257.8 930.9,257.9 931,256.5 933.1,256"/><polygon points="874.9,221.5 874,222.7 872.6,222.2 872,221.2 874.5,220.4"/><polygon points="994.4,228 992.7,229.7 990.9,228.8 990.4,227.4 992.4,226.7"/><polygon points="873.4,192.9 872.4,193.8 870.3,193.4 870.9,191.9 872.1,191.7"/><polygon points="908.1,364.5 907.3,366.7 904.8,365.7 903.7,363.5 907.2,363.1"/><polygon points="873.3,191.3 872.3,192.3 870.6,192.1 870.9,191 872.3,190.2"/><polygon points="865.8,197.8 863.4,199.8 860.7,198.6 860.7,196.5 863.3,196.7"/><polygon points="963.6,64.1 962.1,65.8 960.2,65.3 960.4,63.2 962.2,62.2"/><polygon points="898.5,124.4 896.8,126.6 894.2,125.5 895.2,123 897.2,122.5"/><polygon points="810,341.8 808.6,343.6 805.9,342.5 805.4,339.2 808.4,338.6"/><polygon points="898.8,117.5 897.7,119.4 895.8,118.1 896,116.3 898.2,116.7"/><polygon points="775.3,180.6 774.7,182.2 772.3,181.6 772.8,179.7 775.2,178.9"/><polygon points="1050.7,230.8 1049.3,231.9 1046.7,231.8 1045.8,229.4 1049.5,228.7"/><polygon points="898,222.7 896.2,223.4 894.7,223.2 894.6,221.3 896.3,221.2"/><polygon points="749.3,55.4 747.6,56.2 745.3,55.3 745.3,53.4 747.3,53.4"/><polygon points="1018.4,323.5 1017.8,324.4 1015.4,324.3 1015.8,322.8 1017.3,321.9"/><polygon points="861.4,88.1 861.8,90.9 856.3,90.1 856.2,85.2 860.2,86.2"/><polygon points="1012.1,315.6 1011.4,316.4 1009.8,316.3 1010.1,314.4 1011.5,314.6"/><polygon points="811.8,295 810.2,295.8 807.6,296 808.1,293.8 809.7,293.2"/><polygon points="806.7,47.2 805.1,48.5 802.2,48.4 803,45.6 804.9,45.1"/><polygon points="815.1,114.1 812.3,117.1 808.4,115.4 809.1,113.3 812.1,113.1"/><polygon points="852.4,229.4 851.8,230 850.4,230 849.8,228.4 851.6,227.8"/><polygon points="991.1,254.2 989.2,255.6 986.7,254.7 987.5,253.5 989.4,252.5"/><polygon points="828.3,81.7 826.7,83.7 824.6,83.3 823.9,81.5 827.1,80.7"/><polygon points="874.4,226.5 871.8,228.3 869.1,227.8 869.4,226.1 871.7,224"/><polygon points="860.8,234 859.7,235.6 856.7,235.2 856.3,232.3 858.5,231"/><polygon points="800.1,195 798.9,196.8 796.3,196.6 796.7,194.8 798.7,194.3"/><polygon points="1006.5,106.7 1004.8,109.1 1000,108.4 999.8,106.1 1004.3,104.5"/><polygon points="1032.9,111.7 1031.5,113.6 1028.3,112.3 1028.8,110.9 1031.7,109.9"/><polygon points="895.8,196.4 894.7,197.3 893.8,197.3 893.6,196 895.1,195.1"/><polygon points="1016.3,47.9 1014.1,48.7 1010.9,48.2 1010.2,45.4 1013.4,45.2"/><polygon points="859.3,112.6 857.8,113.8 854.7,114.1 854.9,110.7 857.2,110.6"/><polygon points="1028.9,339.8 1027.5,341.6 1025.8,340.8 1025.4,338.7 1027.4,338.6"/><polygon points="1007.7,128.8 1006.8,129.8 1004.3,130.1 1004.3,127.7 1006.2,126.9"/><polygon points="772.6,215 770.2,216.3 766.7,215.7 767.2,213.4 770.2,212.1"/><polygon points="966.3,213.7 965.5,215.4 962.7,214.8 962.8,212.9 965.7,211.7"/><polygon points="756.4,58.3 755.3,59.4 751.9,59 752.4,56.3 754.9,55.8"/><polygon points="790.4,346.2 788.3,347.8 784.6,347.3 785.3,344.5 789,344"/><polygon points="941.1,105.6 939.3,108.1 937.3,106.6 936.4,105.4 939.8,104.4"/><polygon points="759.1,191.9 757.4,194 754.6,193.7 754.1,190.5 757,190.5"/><polygon points="867.4,317.1 866.1,318.5 863.9,319.1 863.3,315.9 866.3,316.3"/><polygon points="773.2,102.2 770.7,104.3 768.7,103.6 769.1,101.4 772.6,100.1"/><polygon points="922.4,367.2 921.2,369 918.5,367.8 918.5,365.9 920.4,364.6"/><polygon points="1006.2,136.6 1003.8,138.7 1001.9,138.3 1001.2,135.8 1004,135.9"/><polygon points="883.4,348.8 882.5,350.3 880.7,350.1 880.6,347.7 882.3,347.1"/><polygon points="838.9,347 837.4,349.3 834.5,348.1 835.1,346.8 837.9,345.7"/><polygon points="759.9,250.8 758.4,253 755.7,251.6 754.6,250.2 758.7,249"/><polygon points="855.8,41.9 854.6,43.6 851.4,42.6 852,40.6 854.2,40.5"/><polygon points="822.6,92.1 822.1,93.9 818.4,92.6 819.1,91.3 821.9,90.2"/><polygon points="993.6,132.4 993.4,134.3 989.9,133.5 988.1,131 992.4,130.3"/><polygon points="887.6,285.4 886,287.8 882.2,286.8 881.4,282.6 885.3,283.2"/><polygon points="891.1,182.9 890.3,184.9 887.6,184.3 887.3,181.7 890.9,181.4"/><polygon points="920.4,68.3 917.7,70.4 913.8,69.7 914.2,65.7 917.2,63.9"/><polygon points="909.4,140.4 907.1,141.8 905.1,142.1 904.4,139.2 907.9,137.6"/><polygon points="1047.6,274.3 1044.8,276.1 1043,275.6 1041.1,272.9 1044.7,271.5"/><polygon points="949.6,68.5 947.5,71.5 944.9,69.7 944.8,68.3 946.7,66.3"/><polygon points="751.7,129.4 751.1,130.7 747.7,130.4 748.4,128.7 750.3,126.8"/><polygon points="939.3,341 935.4,343 932.8,341.5 932.3,338.3 936.5,338.9"/><polygon points="811.7,289.3 808.8,289.9 805.9,289.2 806.1,287.6 809.1,287.2"/><polygon points="770.7,63.4 768,67.7 763.7,66.1 762.5,62.8 766.3,61.7"/><polygon points="943.1,272 940.9,274.1 937.6,273.1 938.3,270 941.9,270.2"/><polygon points="1000.3,76.4 999.5,78 996.7,77.4 996.2,75.4 1000.1,74.9"/><polygon points="925.1,39.9 923.2,41.6 920,41.1 921.2,39.2 923.4,38"/><polygon points="787.5,299.2 785.7,299.9 784.2,300.2 783.7,298.4 785.5,298.2"/><polygon points="834.8,233.2 832.9,235.3 829.5,234 829.2,232.3 832.6,232.3"/><polygon points="895.8,293.4 894.4,295.7 890.8,294.4 891.3,292.3 893.2,290.2"/><polygon points="772.9,244.2 770.3,246.4 768.6,246 768,243.3 771.8,242.2"/><polygon points="768.2,250.3 767.5,252.1 765.2,252 765.5,249.3 767.6,249.7"/><polygon points="1027.3,110.2 1026.3,111.3 1024.7,111 1024.9,109.7 1026,109"/><polygon points="806,120.9 804,122.4 801.7,122.1 801.4,120.1 803.4,118.9"/><polygon points="837.1,284.1 834,284.8 831.3,284.2 831.1,281.6 834.2,281.6"/><polygon points="1026.2,271 1023.4,273.3 1020.9,272.3 1020.1,270.4 1023.6,269.5"/><polygon points="805.6,361.9 804,363.5 802.1,363.3 802.1,360.9 805.7,360.2"/><polygon points="901.1,239.5 899.4,240.5 897.2,240.5 897.7,238.8 899.2,238.5"/><polygon points="850.1,370.1 847.5,370.6 845.9,370.4 845,367.3 847.6,367.9"/><polygon points="887.8,279.8 884.8,283.3 880.3,281.6 882.2,279.8 884.9,277.5"/><polygon points="890.3,106.2 889.3,107.2 887.9,106.9 886.7,105.2 889.3,104.9"/><polygon points="909.9,148.9 909.7,149.6 907.1,149.3 907.9,147.7 909.4,147.6"/><polygon points="1020.5,322.3 1019.7,323.9 1017,323.5 1017.9,321.8 1019.1,321.5"/><polygon points="933.6,240.9 933.4,243 930.7,241.9 930.5,240 932.3,239.2"/><polygon points="817.5,253.9 815.7,255.5 813.1,255.9 812.6,252.9 815.5,252.9"/><polygon points="990,152.5 989.7,154.5 984.5,153.1 985.8,150.6 989.3,149.3"/><polygon points="789.6,63.2 786.7,66.2 781.5,65 782.5,61 786,61.6"/><polygon points="1025.1,65.3 1023.7,66.3 1020.9,66 1020.6,63.7 1023.3,63.7"/><polygon points="909.2,160.6 908.3,162.1 905.5,161.8 906.1,160.2 907.9,159.9"/><polygon points="924.8,205.8 923.1,207.6 921.2,206.7 920.8,205.2 923.3,203.6"/><polygon points="888.9,258.7 885.6,261.5 883,260.8 883.2,257.8 885.8,256.8"/><polygon points="786.3,128.1 785.1,128.9 783.2,128.6 782.7,127 784.7,126.8"/><polygon points="848.1,249.1 846.4,250.4 844.1,250.8 843.1,247.9 846.1,246.4"/><polygon points="977,107 974.3,108.9 972.9,108 973.1,106.4 975,105.9"/><polygon points="1038.4,336.9 1036.1,338.4 1033,337.5 1033.5,335.4 1036,333.8"/><polygon points="942,66 940,68.3 937.5,67.1 937.9,64.6 940.6,62.9"/><polygon points="922.6,300.3 921.4,302.5 918.7,301.7 918.4,298.8 921.6,298.2"/><polygon points="819.5,238.5 818.4,241 815,239.2 815.8,237.8 818.2,237.3"/><polygon points="847.1,267.4 846.8,269 844.3,268.4 844.1,266.6 846.3,266"/><polygon points="934.3,256.5 932.1,258.6 926.8,257.5 928.8,255.6 931,253.8"/><polygon points="860.7,180.6 859.9,182.1 858.2,181.2 858,180 859.9,179.3"/><polygon points="970.3,77.4 969.3,79.5 967.1,78.4 966.5,76.6 968.7,76.9"/><polygon points="1048.5,138.7 1048.7,141.3 1044.8,140.7 1045.2,137.5 1047.8,136.2"/><polygon points="906.7,209.5 904.6,211.2 901.2,210.7 901.4,208.1 903.4,207.7"/><polygon points="940.9,276 940,277.4 937.8,276.9 938.1,274.8 940.6,274.3"/><polygon points="842.1,344.3 841,346.1 837.7,345.2 837,342.3 839.6,342.3"/><polygon points="1014.2,155.3 1013.4,156.7 1011.7,155.9 1011.7,154.8 1013.1,153.9"/><polygon points="928.9,298.5 928,299.8 926.7,299.1 926.6,298.2 927.7,297.1"/><polygon points="1012.9,212.2 1010.5,213.8 1007,212.7 1007.4,209.8 1011.4,209"/><polygon points="812.2,287.8 811.6,289.6 809.1,288.3 809.3,287 810.8,286"/><polygon points="959.5,127.5 958.5,129.4 955.1,127.8 955.2,125.7 958.2,124.7"/></g>
<g fill="url(#gh)" stroke="#55cfcf" stroke-width="0.5"><circle cx="890.5" cy="113.9" r="2.1"/><circle cx="893.2" cy="116.6" r="2.2"/><circle cx="1042.9" cy="104.1" r="2.3"/><circle cx="1041.9" cy="100.4" r="2.4"/><circle cx="1009.6" cy="64.8" r="2.1"/><circle cx="890.2" cy="26" r="2.3"/><circle cx="764.9" cy="200.1" r="2.1"/><circle cx="971" cy="37.7" r="2.2"/><circle cx="859.6" cy="179.8" r="2.4"/><circle cx="816.6" cy="31.2" r="2.1"/><circle cx="818.3" cy="34.6" r="2.6"/><circle cx="825.8" cy="214.6" r="2.4"/><circle cx="881" cy="251.3" r="2.5"/><circle cx="877.2" cy="251.4" r="2.4"/><circle cx="1036.9" cy="78.9" r="2.3"/><circle cx="1037.3" cy="75.1" r="2.3"/><circle cx="1033.8" cy="76.6" r="2.5"/><circle cx="995.2" cy="172.4" r="2.1"/><circle cx="921.4" cy="194.5" r="2.6"/><circle cx="920.4" cy="190.8" r="2.3"/><circle cx="924.2" cy="131.7" r="2.3"/><circle cx="820.4" cy="149.5" r="2.6"/><circle cx="824.2" cy="148.8" r="2.2"/><circle cx="993.9" cy="88.8" r="2.4"/><circle cx="1001.9" cy="198.3" r="2.3"/><circle cx="1031.7" cy="172.5" r="2.4"/><circle cx="1011.4" cy="32.4" r="2.1"/><circle cx="878" cy="232.1" r="2.2"/><circle cx="877.6" cy="235.8" r="2.2"/><circle cx="932.5" cy="91.3" r="2.5"/><circle cx="883" cy="247.4" r="2.3"/><circle cx="884.3" cy="174.6" r="2.2"/><circle cx="881.5" cy="177.1" r="2.5"/><circle cx="897.4" cy="26.8" r="2.1"/><circle cx="893.8" cy="25.7" r="2.1"/><circle cx="897.4" cy="24.5" r="2.5"/><circle cx="942.3" cy="166.1" r="2.2"/><circle cx="945.5" cy="168.1" r="2"/><circle cx="949.2" cy="168.9" r="2.1"/><circle cx="831.2" cy="97.5" r="2.2"/><circle cx="979.2" cy="73.3" r="2"/><circle cx="976" cy="71.2" r="2.3"/><circle cx="972.8" cy="69.2" r="2.3"/><circle cx="980.5" cy="50.6" r="2.5"/><circle cx="983.6" cy="52.8" r="2.3"/><circle cx="745.8" cy="133.8" r="2.5"/><circle cx="842.3" cy="267.2" r="2.3"/><circle cx="937.5" cy="260.2" r="2.4"/><circle cx="851.7" cy="261.4" r="2.2"/><circle cx="854.4" cy="258.8" r="2.3"/><circle cx="912.5" cy="52.8" r="2.5"/><circle cx="828.5" cy="306.6" r="2.5"/><circle cx="955.9" cy="227" r="2.4"/><circle cx="801.5" cy="150.9" r="2.3"/><circle cx="941.6" cy="298.3" r="2.3"/><circle cx="944.2" cy="295.5" r="2.3"/><circle cx="943.9" cy="291.7" r="2.2"/><circle cx="1002.5" cy="217.7" r="2.4"/><circle cx="1000.5" cy="221" r="2"/><circle cx="997.5" cy="218.7" r="2.6"/><circle cx="921.8" cy="215.2" r="2.2"/><circle cx="918" cy="214.9" r="2.3"/><circle cx="748" cy="208.7" r="2"/><circle cx="749.8" cy="205.4" r="2"/><circle cx="1006.4" cy="282.4" r="2.4"/><circle cx="1007.6" cy="192.2" r="2.6"/><circle cx="901.9" cy="214.2" r="2.3"/><circle cx="945.6" cy="107.4" r="2.4"/><circle cx="947.9" cy="104.4" r="2"/><circle cx="927.7" cy="162.5" r="2.2"/><circle cx="931.2" cy="163.9" r="2.5"/><circle cx="929.7" cy="167.4" r="2.4"/><circle cx="925.2" cy="246.4" r="2.6"/><circle cx="817.8" cy="320.1" r="2.3"/><circle cx="814.3" cy="321.6" r="2.1"/><circle cx="817.1" cy="324.2" r="2.4"/><circle cx="922.9" cy="105.5" r="2.5"/><circle cx="889.9" cy="88.7" r="2.6"/><circle cx="1033.2" cy="257.1" r="2.1"/><circle cx="1036.6" cy="258.9" r="2.2"/><circle cx="748.5" cy="273.3" r="2.3"/><circle cx="1043.8" cy="88" r="2.6"/><circle cx="1043.4" cy="84.2" r="2"/><circle cx="1042.1" cy="87.8" r="2.2"/><circle cx="931.7" cy="65.4" r="2.2"/><circle cx="827.2" cy="158.7" r="2.4"/><circle cx="828.9" cy="162.1" r="2.6"/><circle cx="820.2" cy="225.6" r="2.2"/><circle cx="926.9" cy="175.9" r="2"/><circle cx="982.6" cy="32.7" r="2.2"/><circle cx="748.9" cy="237.8" r="2.5"/><circle cx="921.3" cy="116.5" r="2.1"/><circle cx="917.8" cy="115" r="2.6"/><circle cx="916.4" cy="118.5" r="2.2"/><circle cx="784.5" cy="64.8" r="2"/><circle cx="797.5" cy="321.6" r="2.3"/><circle cx="943.9" cy="150" r="2.4"/><circle cx="913.9" cy="256.9" r="2.1"/><circle cx="911" cy="259.3" r="2.5"/><circle cx="872.2" cy="274.9" r="2.4"/><circle cx="947.4" cy="102.1" r="2.4"/><circle cx="951.1" cy="103" r="2.6"/><circle cx="827" cy="181.7" r="2.6"/><circle cx="825.2" cy="185.1" r="2.6"/><circle cx="826.7" cy="188.6" r="2.2"/><circle cx="984.9" cy="225.5" r="2"/><circle cx="986.9" cy="222.2" r="2.3"/><circle cx="755.5" cy="121.8" r="2.2"/><circle cx="748.2" cy="70.5" r="2"/><circle cx="746.6" cy="74" r="2.4"/><circle cx="951.2" cy="207.7" r="2"/><circle cx="812" cy="292.9" r="2.2"/><circle cx="815.4" cy="294.5" r="2.3"/><circle cx="814.5" cy="298.2" r="2.1"/><circle cx="873.2" cy="30.4" r="2.4"/><circle cx="760.3" cy="216.8" r="2.4"/><circle cx="982.2" cy="151.8" r="2.6"/><circle cx="780.1" cy="196.2" r="2.6"/><circle cx="783.8" cy="197.1" r="2.4"/><circle cx="849.2" cy="215" r="2.6"/><circle cx="907.5" cy="269.3" r="2.4"/><circle cx="909" cy="265.8" r="2.1"/><circle cx="909.5" cy="269.5" r="2.1"/><circle cx="980.7" cy="99.4" r="2"/><circle cx="948.2" cy="68" r="2.1"/><circle cx="753.4" cy="151.7" r="2.2"/><circle cx="756.8" cy="153.3" r="2.2"/><circle cx="758.5" cy="150" r="2.6"/><circle cx="888" cy="74.2" r="2.5"/><circle cx="885.6" cy="77.1" r="2.2"/><circle cx="983.9" cy="142.1" r="2.4"/><circle cx="984.8" cy="145.8" r="2.6"/><circle cx="923.5" cy="92.2" r="2.6"/><circle cx="839.9" cy="85.2" r="2.1"/><circle cx="976.1" cy="289.5" r="2.4"/><circle cx="966" cy="215.9" r="2.4"/><circle cx="962.4" cy="216.8" r="2.5"/><circle cx="964.3" cy="213.6" r="2.1"/><circle cx="909.5" cy="33.6" r="2.3"/><circle cx="913.2" cy="32.9" r="2.6"/><circle cx="998.6" cy="270.2" r="2.5"/><circle cx="917.2" cy="247.5" r="2.6"/><circle cx="915.3" cy="244.2" r="2.5"/><circle cx="912.1" cy="246.3" r="2.4"/><circle cx="952.4" cy="269.5" r="2.5"/><circle cx="806.6" cy="119.2" r="2.4"/><circle cx="940.7" cy="83.7" r="2.1"/><circle cx="1022.9" cy="69" r="2.1"/><circle cx="897.1" cy="87.9" r="2.6"/><circle cx="897" cy="91.7" r="2.4"/><circle cx="895.6" cy="109.9" r="2.2"/><circle cx="1021.8" cy="92.7" r="2.6"/><circle cx="845.1" cy="143" r="2.5"/><circle cx="845.8" cy="139.3" r="2.2"/><circle cx="925.6" cy="128.9" r="2.2"/><circle cx="1009.5" cy="163.1" r="2.4"/><circle cx="940.4" cy="63.5" r="2.4"/><circle cx="937.4" cy="61.3" r="2.2"/><circle cx="857.7" cy="197.3" r="2.2"/><circle cx="857.2" cy="260.4" r="2.5"/><circle cx="948.5" cy="278" r="2.2"/><circle cx="744.7" cy="149.4" r="2.1"/><circle cx="742" cy="146.7" r="2.6"/><circle cx="861.5" cy="273.8" r="2.3"/><circle cx="856.8" cy="146.1" r="2.6"/><circle cx="859" cy="143" r="2.1"/><circle cx="940.8" cy="65.2" r="2.1"/><circle cx="944" cy="67.2" r="2.4"/><circle cx="957.8" cy="90.5" r="2.3"/><circle cx="966.3" cy="135.4" r="2.2"/><circle cx="969" cy="132.6" r="2.4"/><circle cx="925.1" cy="159.1" r="2"/><circle cx="991.1" cy="106.2" r="2.1"/><circle cx="994.7" cy="107.3" r="2.2"/><circle cx="829.3" cy="265.5" r="2.1"/><circle cx="832.6" cy="267.3" r="2.4"/><circle cx="832.7" cy="263.5" r="2"/><circle cx="923.3" cy="51.8" r="2.4"/><circle cx="927" cy="50.8" r="2.4"/><circle cx="997.8" cy="62" r="2.1"/><circle cx="1001.6" cy="62" r="2.5"/><circle cx="804.1" cy="87.5" r="2.1"/><circle cx="1018.7" cy="53.8" r="2.3"/><circle cx="960.7" cy="186" r="2.4"/><circle cx="919.1" cy="75.5" r="2.5"/><circle cx="765.9" cy="270.3" r="2.4"/><circle cx="956.8" cy="72.3" r="2.5"/><circle cx="1034.6" cy="289" r="2.4"/><circle cx="815.9" cy="114.7" r="2.2"/><circle cx="812.9" cy="117" r="2.2"/><circle cx="816.6" cy="116.1" r="2.1"/><circle cx="985.1" cy="172.7" r="2"/><circle cx="936.7" cy="254.5" r="2.1"/><circle cx="940.4" cy="253.6" r="2.4"/><circle cx="1042.4" cy="52.4" r="2.1"/><circle cx="1039.8" cy="49.6" r="2.5"/><circle cx="1035.8" cy="73.3" r="2.1"/><circle cx="936.8" cy="281.9" r="2.2"/><circle cx="938.9" cy="285.1" r="2.2"/><circle cx="788.8" cy="56.9" r="2.3"/><circle cx="785.1" cy="56" r="2.2"/><circle cx="1042.8" cy="44.4" r="2"/><circle cx="1036.2" cy="86.8" r="2.1"/><circle cx="945" cy="303.4" r="2.6"/><circle cx="943.3" cy="306.8" r="2.5"/><circle cx="898.7" cy="57.6" r="2.5"/><circle cx="801" cy="222.5" r="2.2"/><circle cx="968.4" cy="33" r="2.2"/><circle cx="1023.5" cy="288.2" r="2.2"/><circle cx="1019.9" cy="287.2" r="2.4"/><circle cx="1009.3" cy="71.1" r="2.6"/><circle cx="819" cy="68.8" r="2.6"/><circle cx="940.3" cy="42.1" r="2"/><circle cx="943.3" cy="39.8" r="2.6"/><circle cx="941.7" cy="36.4" r="2.4"/><circle cx="1039.3" cy="78.4" r="2.5"/><circle cx="1036.9" cy="195.1" r="2.1"/><circle cx="854.2" cy="61.8" r="2.1"/><circle cx="981.2" cy="48.7" r="2.6"/><circle cx="984.3" cy="50.9" r="2.3"/><circle cx="983.7" cy="47.2" r="2.3"/><circle cx="875.3" cy="118.2" r="2.4"/><circle cx="877" cy="121.7" r="2.2"/><circle cx="947.9" cy="234.1" r="2.3"/><circle cx="1013.2" cy="103.9" r="2"/><circle cx="1011.6" cy="107.4" r="2.2"/><circle cx="1010.5" cy="118.4" r="2.5"/><circle cx="1007.2" cy="120.3" r="2.5"/><circle cx="1016.2" cy="164.4" r="2.1"/><circle cx="842.1" cy="197.3" r="2.2"/><circle cx="786.9" cy="103.4" r="2.5"/><circle cx="840.1" cy="48.7" r="2.4"/><circle cx="863.5" cy="268.9" r="2.2"/><circle cx="867.2" cy="268.3" r="2.6"/><circle cx="1028.9" cy="135.4" r="2.4"/><circle cx="1032.2" cy="137.2" r="2.5"/><circle cx="817.2" cy="88.1" r="2.2"/><circle cx="813.4" cy="88.1" r="2.5"/><circle cx="810.7" cy="85.4" r="2.5"/><circle cx="789.2" cy="148.8" r="2.4"/><circle cx="847" cy="116.4" r="2.2"/><circle cx="850.7" cy="117.3" r="2.4"/><circle cx="971.5" cy="236" r="2.5"/><circle cx="986" cy="32" r="2.5"/><circle cx="832.4" cy="61.6" r="2.4"/><circle cx="830.1" cy="64.6" r="2.5"/><circle cx="869.5" cy="29.6" r="2.2"/><circle cx="867.7" cy="26.3" r="2.1"/><circle cx="857.5" cy="259.7" r="2"/><circle cx="995.8" cy="47.5" r="2.5"/><circle cx="995.8" cy="43.7" r="2.2"/><circle cx="883.1" cy="248.1" r="2.2"/><circle cx="882.1" cy="244.5" r="2.1"/><circle cx="878.9" cy="140" r="2.1"/><circle cx="774.5" cy="150.4" r="2.5"/><circle cx="774.6" cy="154.2" r="2.2"/><circle cx="774.4" cy="158" r="2.2"/><circle cx="815.1" cy="36.9" r="2.1"/><circle cx="811.6" cy="35.6" r="2.5"/><circle cx="807.8" cy="34.9" r="2.2"/><circle cx="769.4" cy="61.5" r="2.6"/><circle cx="765.6" cy="61.6" r="2.1"/><circle cx="840" cy="128.5" r="2.3"/><circle cx="836.3" cy="127.6" r="2.4"/><circle cx="857.2" cy="216.6" r="2.5"/><circle cx="860.7" cy="218" r="2.2"/><circle cx="904.1" cy="54" r="2.5"/><circle cx="907.6" cy="55.6" r="2.6"/><circle cx="837.2" cy="136.6" r="2.3"/><circle cx="840.9" cy="136" r="2.5"/><circle cx="1043.4" cy="48.8" r="2"/><circle cx="791.9" cy="255.2" r="2.1"/><circle cx="790.4" cy="258.7" r="2.1"/><circle cx="802" cy="70.4" r="2.1"/><circle cx="1016.2" cy="100.1" r="2.5"/><circle cx="1000.8" cy="185.1" r="2.5"/><circle cx="1035" cy="332.8" r="2.5"/><circle cx="1029.6" cy="247.6" r="2.4"/><circle cx="1025.9" cy="246.5" r="2"/><circle cx="1029.3" cy="244.9" r="2.1"/><circle cx="863.4" cy="143.6" r="2.1"/><circle cx="860.8" cy="146.3" r="2.5"/><circle cx="858.8" cy="143.1" r="2.5"/><circle cx="839" cy="326.2" r="2.2"/><circle cx="784.4" cy="352.4" r="2.3"/><circle cx="780.6" cy="352.6" r="2.5"/><circle cx="779.5" cy="348.9" r="2.1"/><circle cx="781.2" cy="45.2" r="2.5"/><circle cx="777.8" cy="43.4" r="2.3"/><circle cx="935.9" cy="223.4" r="2.5"/><circle cx="954.2" cy="156.5" r="2.4"/><circle cx="953.7" cy="152.7" r="2.1"/><circle cx="990.7" cy="128.6" r="2.3"/><circle cx="791.1" cy="325.3" r="2.4"/><circle cx="795.6" cy="88.1" r="2.3"/><circle cx="792.2" cy="86.3" r="2.2"/><circle cx="902.4" cy="166" r="2"/><circle cx="932.5" cy="202.2" r="2.5"/><circle cx="935.5" cy="204.5" r="2.2"/><circle cx="938.4" cy="206.9" r="2.4"/><circle cx="745.7" cy="237.5" r="2.3"/><circle cx="748" cy="240.5" r="2.1"/><circle cx="807.1" cy="200.6" r="2.3"/><circle cx="810.6" cy="199.2" r="2.6"/><circle cx="756" cy="315.6" r="2.3"/><circle cx="801.4" cy="179.1" r="2.2"/><circle cx="798.3" cy="177" r="2.2"/><circle cx="839.1" cy="84" r="2.3"/><circle cx="979" cy="231.4" r="2.4"/><circle cx="919.2" cy="97.5" r="2.5"/><circle cx="922.9" cy="96.8" r="2.5"/><circle cx="926.4" cy="98.2" r="2.1"/><circle cx="1020.8" cy="125.7" r="2.1"/><circle cx="770" cy="38.9" r="2.4"/><circle cx="768.5" cy="35.4" r="2"/><circle cx="767.7" cy="39.2" r="2.3"/><circle cx="890.1" cy="99.8" r="2.4"/><circle cx="750.3" cy="263.2" r="2.1"/><circle cx="903" cy="145.6" r="2.6"/><circle cx="903.8" cy="307.6" r="2.1"/><circle cx="905.2" cy="311.1" r="2.4"/><circle cx="907.1" cy="314.4" r="2.3"/><circle cx="1019.2" cy="228.6" r="2.1"/><circle cx="1015.5" cy="229.5" r="2.2"/><circle cx="1013.7" cy="226.1" r="2.2"/><circle cx="866.3" cy="179.8" r="2.3"/><circle cx="862.5" cy="180.4" r="2.1"/><circle cx="960.7" cy="52.3" r="2.3"/><circle cx="962.4" cy="48.9" r="2.4"/><circle cx="1001.5" cy="65.9" r="2.1"/><circle cx="1000.9" cy="62.1" r="2.3"/><circle cx="1002.9" cy="65.3" r="2.4"/><circle cx="778.9" cy="331.3" r="2.1"/><circle cx="782.5" cy="330.1" r="2.6"/><circle cx="792.8" cy="155.2" r="2.4"/><circle cx="792.4" cy="151.4" r="2.2"/><circle cx="763.6" cy="293.7" r="2.6"/><circle cx="911.8" cy="75.9" r="2.6"/><circle cx="910.5" cy="72.3" r="2.2"/><circle cx="1046.1" cy="116.7" r="2"/><circle cx="1043.2" cy="114.3" r="2.5"/><circle cx="1047" cy="113.6" r="2"/><circle cx="854.1" cy="88.5" r="2.4"/><circle cx="963.2" cy="153.8" r="2.6"/><circle cx="767.7" cy="37.5" r="2.5"/><circle cx="769.8" cy="40.7" r="2.5"/><circle cx="747" cy="218.8" r="2.2"/><circle cx="883.3" cy="98.2" r="2.5"/><circle cx="883" cy="101.9" r="2.2"/><circle cx="879.3" cy="102.9" r="2.2"/><circle cx="895.4" cy="55.8" r="2.5"/><circle cx="892.4" cy="58.1" r="2.5"/><circle cx="992.6" cy="60.2" r="2.1"/><circle cx="866.1" cy="72.8" r="2.3"/><circle cx="767" cy="206.5" r="2.3"/><circle cx="1030.7" cy="150.8" r="2.1"/><circle cx="1034.5" cy="150.2" r="2.3"/><circle cx="1033" cy="153.7" r="2.5"/><circle cx="886.7" cy="89.5" r="2.2"/><circle cx="760.6" cy="145.8" r="2.2"/><circle cx="968.6" cy="343.8" r="2.4"/><circle cx="857.9" cy="330.8" r="2.5"/><circle cx="853.5" cy="78.9" r="2.4"/><circle cx="751.3" cy="66.5" r="2.2"/><circle cx="755" cy="65.8" r="2.3"/><circle cx="758.8" cy="65.4" r="2.4"/><circle cx="1040.9" cy="42.7" r="2"/><circle cx="1038.2" cy="40.1" r="2.6"/><circle cx="771.5" cy="77.9" r="2"/><circle cx="999.3" cy="99" r="2.6"/><circle cx="848.6" cy="300" r="2"/><circle cx="993.3" cy="99.2" r="2.2"/><circle cx="832.5" cy="132.6" r="2.6"/><circle cx="954.9" cy="219.7" r="2.1"/><circle cx="951.3" cy="220.7" r="2.2"/><circle cx="948.8" cy="217.8" r="2.5"/><circle cx="936.4" cy="267.1" r="2.4"/><circle cx="1040.8" cy="91.6" r="2.5"/><circle cx="835.8" cy="79.2" r="2.6"/><circle cx="836.2" cy="75.5" r="2.2"/><circle cx="832.6" cy="74.3" r="2.6"/><circle cx="1042.4" cy="50.8" r="2"/><circle cx="792.7" cy="89.8" r="2.5"/><circle cx="793.7" cy="86.1" r="2.3"/><circle cx="856.4" cy="152.8" r="2"/><circle cx="788.2" cy="99.6" r="2.3"/><circle cx="773.6" cy="270.5" r="2.5"/><circle cx="914.9" cy="128.8" r="2.3"/><circle cx="916.3" cy="125.3" r="2.6"/><circle cx="915.5" cy="129" r="2"/><circle cx="901.6" cy="162.4" r="2.6"/><circle cx="968.1" cy="128.9" r="2.1"/><circle cx="1046.2" cy="329.3" r="2.5"/><circle cx="1042.4" cy="328.9" r="2.2"/><circle cx="1038.7" cy="328.2" r="2"/><circle cx="892.7" cy="70.5" r="2"/><circle cx="862.4" cy="220.5" r="2"/><circle cx="1043.9" cy="158.7" r="2.6"/><circle cx="904.2" cy="119.1" r="2.5"/><circle cx="822.8" cy="199" r="2.4"/><circle cx="932.3" cy="83" r="2.5"/><circle cx="936.1" cy="83.3" r="2.5"/><circle cx="936.3" cy="79.6" r="2.2"/><circle cx="892.3" cy="121.8" r="2.6"/><circle cx="1037.4" cy="73.6" r="2.4"/><circle cx="1041.2" cy="73.8" r="2"/><circle cx="1044.9" cy="73.1" r="2"/><circle cx="907.8" cy="82.8" r="2.5"/><circle cx="836.9" cy="233.8" r="2.2"/><circle cx="837.3" cy="230" r="2.2"/><circle cx="743.4" cy="250.3" r="2.1"/><circle cx="811.9" cy="131.3" r="2.3"/><circle cx="969.5" cy="38" r="2.6"/><circle cx="966.1" cy="39.6" r="2.3"/><circle cx="881.5" cy="104.1" r="2.2"/><circle cx="864" cy="89.9" r="2.3"/><circle cx="862.2" cy="93.2" r="2.3"/><circle cx="865.9" cy="93.6" r="2.4"/><circle cx="752.7" cy="242.5" r="2.2"/><circle cx="753.9" cy="246.1" r="2.5"/><circle cx="903.5" cy="107" r="2.2"/><circle cx="805.6" cy="35.5" r="2.5"/><circle cx="987.7" cy="201.6" r="2.5"/><circle cx="980.7" cy="230.7" r="2.5"/><circle cx="981.3" cy="234.4" r="2.2"/><circle cx="960" cy="225.6" r="2.2"/><circle cx="879.7" cy="58.1" r="2.3"/><circle cx="942.9" cy="91.9" r="2"/><circle cx="944" cy="95.5" r="2"/><circle cx="947.7" cy="95.1" r="2.2"/><circle cx="945.1" cy="29.5" r="2.4"/><circle cx="937" cy="107.8" r="2.1"/><circle cx="933.9" cy="105.6" r="2.5"/><circle cx="761.5" cy="106.4" r="2.3"/><circle cx="943" cy="254.1" r="2.3"/><circle cx="946.6" cy="252.9" r="2.2"/><circle cx="1024.9" cy="132" r="2.2"/><circle cx="1022.2" cy="134.7" r="2.5"/><circle cx="777.1" cy="223" r="2.5"/><circle cx="814.2" cy="75.5" r="2.1"/><circle cx="870" cy="204.2" r="2.1"/><circle cx="866.4" cy="205.6" r="2.5"/><circle cx="756.2" cy="61.6" r="2.3"/><circle cx="755.9" cy="65.3" r="2.3"/><circle cx="846" cy="277.9" r="2.1"/><circle cx="989.6" cy="121.7" r="2.2"/><circle cx="900.1" cy="156.7" r="2.5"/><circle cx="831.5" cy="32.5" r="2"/><circle cx="828.9" cy="29.7" r="2.5"/><circle cx="832.5" cy="31" r="2"/><circle cx="894.2" cy="62" r="2.3"/><circle cx="754.4" cy="329.8" r="2.4"/><circle cx="950.5" cy="34" r="2"/><circle cx="847" cy="308.4" r="2.1"/><circle cx="848" cy="312.1" r="2.4"/><circle cx="772.6" cy="322.3" r="2.5"/><circle cx="775.1" cy="325.1" r="2.2"/><circle cx="817.4" cy="57.2" r="2.4"/><circle cx="814.2" cy="55.1" r="2.6"/><circle cx="931.4" cy="74.4" r="2.1"/><circle cx="797.8" cy="37.1" r="2.1"/><circle cx="794.5" cy="35.3" r="2.6"/><circle cx="796.4" cy="38.6" r="2.2"/><circle cx="958.3" cy="104.1" r="2.1"/><circle cx="954.7" cy="102.8" r="2.4"/><circle cx="1030.4" cy="50.9" r="2"/><circle cx="1033.7" cy="49.1" r="2.4"/><circle cx="1037.3" cy="47.9" r="2.3"/><circle cx="884.9" cy="315.9" r="2.4"/><circle cx="886.2" cy="319.5" r="2.3"/><circle cx="772" cy="198.6" r="2.3"/><circle cx="1015.7" cy="190.1" r="2.1"/><circle cx="797.9" cy="272.5" r="2.3"/><circle cx="801.7" cy="272.9" r="2.4"/><circle cx="799.1" cy="270.1" r="2.5"/><circle cx="975.6" cy="103.5" r="2"/><circle cx="959.8" cy="130.6" r="2.3"/><circle cx="956.2" cy="129.5" r="2.3"/><circle cx="811.4" cy="76.4" r="2.4"/><circle cx="815.2" cy="76.8" r="2.5"/><circle cx="879.4" cy="113.3" r="2.6"/><circle cx="815.2" cy="165.9" r="2.6"/><circle cx="909.7" cy="34.6" r="2.3"/><circle cx="908.4" cy="38.2" r="2.4"/><circle cx="904.7" cy="38.9" r="2.3"/><circle cx="925" cy="324.3" r="2.6"/><circle cx="957" cy="95.8" r="2.1"/><circle cx="955.4" cy="92.3" r="2.6"/><circle cx="951.7" cy="91.5" r="2.4"/><circle cx="803" cy="115.4" r="2.6"/><circle cx="871.4" cy="110.3" r="2.3"/><circle cx="867.9" cy="108.9" r="2.6"/><circle cx="962.2" cy="99.5" r="2.5"/><circle cx="958.7" cy="98" r="2.6"/><circle cx="981.7" cy="150.2" r="2.6"/><circle cx="767.7" cy="210.6" r="2.2"/><circle cx="771.5" cy="210.6" r="2.2"/><circle cx="774.4" cy="213" r="2.6"/><circle cx="903.3" cy="323.9" r="2.1"/><circle cx="854.4" cy="44.5" r="2.3"/><circle cx="995.9" cy="214.9" r="2.5"/><circle cx="994.8" cy="218.5" r="2.1"/><circle cx="993.6" cy="222.1" r="2.4"/><circle cx="868.3" cy="63.5" r="2.1"/><circle cx="891.6" cy="65.6" r="2.3"/><circle cx="889" cy="62.8" r="2.6"/><circle cx="891.5" cy="65.7" r="2.3"/><circle cx="977.7" cy="45.5" r="2.1"/><circle cx="975.2" cy="42.6" r="2.3"/><circle cx="997.6" cy="240.9" r="2.6"/><circle cx="1001.4" cy="240.9" r="2.4"/><circle cx="998.9" cy="243.7" r="2.4"/><circle cx="794" cy="53.3" r="2.5"/><circle cx="1033.7" cy="141.5" r="2.5"/><circle cx="1013.6" cy="216.7" r="2.6"/><circle cx="1010.8" cy="214.1" r="2.2"/><circle cx="862.9" cy="242.9" r="2.4"/><circle cx="864.4" cy="239.4" r="2.5"/><circle cx="790.6" cy="69.7" r="2.2"/><circle cx="972.1" cy="114.2" r="2.3"/><circle cx="975.9" cy="113.9" r="2.4"/><circle cx="973.5" cy="111" r="2.3"/><circle cx="918.6" cy="319.1" r="2.2"/><circle cx="916.2" cy="322" r="2.5"/><circle cx="743.3" cy="221.5" r="2.1"/><circle cx="739.8" cy="220" r="2.5"/><circle cx="739" cy="223.7" r="2.4"/><circle cx="1035.3" cy="67.4" r="2.5"/><circle cx="1037.3" cy="70.7" r="2.4"/><circle cx="958.7" cy="188.4" r="2.3"/><circle cx="940.2" cy="285.7" r="2.2"/><circle cx="942.5" cy="288.7" r="2.6"/><circle cx="847" cy="102.1" r="2.3"/><circle cx="1012.8" cy="176.7" r="2.3"/><circle cx="1016.5" cy="177.4" r="2.5"/><circle cx="1016.6" cy="173.6" r="2.2"/><circle cx="790.1" cy="70.9" r="2.5"/><circle cx="787.3" cy="73.4" r="2.2"/><circle cx="792.9" cy="54.3" r="2.5"/><circle cx="892.5" cy="32.1" r="2.5"/><circle cx="936.5" cy="84.4" r="2.6"/><circle cx="969.8" cy="99.6" r="2.3"/><circle cx="966" cy="99" r="2.3"/><circle cx="851.5" cy="246.8" r="2.3"/><circle cx="855" cy="245.5" r="2.5"/><circle cx="908.4" cy="127.2" r="2"/><circle cx="749.4" cy="302.1" r="2.5"/><circle cx="760.4" cy="188.1" r="2.5"/><circle cx="756.8" cy="189.2" r="2.6"/><circle cx="753" cy="188.7" r="2.6"/><circle cx="895.6" cy="259.2" r="2.1"/><circle cx="923.6" cy="43.8" r="2.5"/><circle cx="927.4" cy="43.6" r="2.1"/><circle cx="927.9" cy="47.4" r="2.2"/><circle cx="1005.6" cy="78.5" r="2.2"/><circle cx="971.3" cy="195.4" r="2.1"/><circle cx="901.4" cy="236.9" r="2.6"/><circle cx="897.9" cy="235.2" r="2.3"/><circle cx="894.6" cy="233.3" r="2.1"/><circle cx="975.7" cy="110" r="2.5"/><circle cx="974.5" cy="106.4" r="2.5"/><circle cx="972" cy="103.5" r="2.1"/><circle cx="865" cy="142.3" r="2.1"/><circle cx="865.7" cy="298.4" r="2.1"/><circle cx="785.7" cy="216.5" r="2.1"/><circle cx="956.6" cy="252.6" r="2.5"/><circle cx="794.5" cy="124.3" r="2.3"/><circle cx="797.1" cy="121.6" r="2"/><circle cx="798.1" cy="117.9" r="2.4"/><circle cx="797.8" cy="323.7" r="2.2"/><circle cx="871.6" cy="237.9" r="2.4"/><circle cx="874.6" cy="240.1" r="2.4"/><circle cx="872.3" cy="162.7" r="2.3"/><circle cx="995.5" cy="307.8" r="2.3"/><circle cx="992.3" cy="305.6" r="2"/><circle cx="995.7" cy="307.3" r="2.3"/><circle cx="934" cy="59.4" r="2.2"/><circle cx="935.7" cy="56" r="2.1"/><circle cx="826.1" cy="209.3" r="2.3"/><circle cx="805.6" cy="28.5" r="2.5"/><circle cx="809.3" cy="27.5" r="2.5"/><circle cx="972.5" cy="347.6" r="2.4"/><circle cx="1004" cy="99.5" r="2.2"/><circle cx="1001.5" cy="102.3" r="2.5"/><circle cx="822.5" cy="152.1" r="2.5"/><circle cx="818.8" cy="150.9" r="2.6"/><circle cx="822.2" cy="149.2" r="2.5"/><circle cx="754.6" cy="181.3" r="2.3"/><circle cx="863.4" cy="330.6" r="2.3"/><circle cx="809.5" cy="324.6" r="2.2"/><circle cx="1030.1" cy="186.2" r="2.1"/><circle cx="1026.9" cy="188.3" r="2.5"/><circle cx="1028" cy="191.9" r="2.5"/><circle cx="748.6" cy="223" r="2.2"/><circle cx="752.1" cy="224.3" r="2"/><circle cx="819.5" cy="168.2" r="2.2"/><circle cx="766.8" cy="139.2" r="2.6"/><circle cx="906.9" cy="129.1" r="2.1"/><circle cx="912.6" cy="129.6" r="2.4"/><circle cx="909.6" cy="131.8" r="2.4"/><circle cx="905.8" cy="131.8" r="2.4"/><circle cx="877.7" cy="28.9" r="2"/><circle cx="936" cy="97.7" r="2.3"/><circle cx="939.6" cy="98.9" r="2.2"/><circle cx="937.9" cy="95.5" r="2.4"/><circle cx="891.2" cy="230.2" r="2.2"/><circle cx="845.4" cy="78.8" r="2.4"/><circle cx="845.1" cy="75" r="2.3"/><circle cx="866.1" cy="201.7" r="2.4"/><circle cx="959.2" cy="189.5" r="2.1"/><circle cx="921.4" cy="358.7" r="2.2"/><circle cx="866.2" cy="31.2" r="2.5"/><circle cx="867.1" cy="27.5" r="2.4"/><circle cx="817" cy="67.7" r="2.5"/><circle cx="814.4" cy="65" r="2.4"/><circle cx="818.2" cy="64.9" r="2.3"/><circle cx="969.4" cy="151.4" r="2.6"/><circle cx="968.7" cy="147.6" r="2.4"/><circle cx="1026.7" cy="122.2" r="2.1"/><circle cx="941.5" cy="238.9" r="2.2"/><circle cx="1038.7" cy="287.9" r="2.5"/><circle cx="855.5" cy="249" r="2"/><circle cx="852.7" cy="251.7" r="2.2"/><circle cx="759.6" cy="74.1" r="2.2"/><circle cx="763.1" cy="72.6" r="2.4"/><circle cx="760.5" cy="69.8" r="2.1"/><circle cx="876.9" cy="67.9" r="2"/><circle cx="953.5" cy="53.1" r="2.5"/><circle cx="931.4" cy="76.4" r="2.4"/><circle cx="919.3" cy="105.1" r="2.4"/><circle cx="919.3" cy="101.3" r="2.3"/><circle cx="847.8" cy="133.2" r="2.3"/><circle cx="849.5" cy="129.8" r="2.1"/><circle cx="898.4" cy="85.1" r="2.4"/><circle cx="1024.4" cy="96.8" r="2"/><circle cx="775.1" cy="152.6" r="2.1"/><circle cx="776.2" cy="156.3" r="2.3"/><circle cx="1005.8" cy="187.5" r="2.6"/><circle cx="753.2" cy="57" r="2.1"/><circle cx="751.5" cy="53.7" r="2.2"/><circle cx="989.8" cy="138.7" r="2.6"/><circle cx="990" cy="134.9" r="2.1"/><circle cx="986.2" cy="135.3" r="2.6"/><circle cx="951.4" cy="154" r="2.2"/><circle cx="749.4" cy="122.1" r="2.5"/><circle cx="1001.5" cy="163.1" r="2.1"/><circle cx="863.2" cy="97.3" r="2.1"/><circle cx="866.1" cy="94.9" r="2.4"/><circle cx="903.6" cy="93.5" r="2.1"/><circle cx="905.2" cy="90" r="2.3"/><circle cx="904.3" cy="86.4" r="2"/><circle cx="970.7" cy="97.9" r="2.3"/><circle cx="778" cy="164" r="2.4"/><circle cx="774.2" cy="163.4" r="2.6"/><circle cx="1034.2" cy="90.9" r="2.4"/><circle cx="1023.2" cy="275.6" r="2.5"/><circle cx="1020.3" cy="278.1" r="2.3"/><circle cx="1001.4" cy="201.6" r="2.4"/><circle cx="1002.6" cy="198" r="2.4"/><circle cx="773.7" cy="244.5" r="2"/><circle cx="862.1" cy="43.4" r="2.1"/><circle cx="747.9" cy="124.5" r="2.6"/><circle cx="864.9" cy="43.4" r="2.1"/><circle cx="868.5" cy="42.2" r="2.6"/><circle cx="864.8" cy="42.7" r="2.1"/><circle cx="852.6" cy="92" r="2.3"/><circle cx="792.5" cy="333.2" r="2.5"/><circle cx="1016.6" cy="73.1" r="2.6"/><circle cx="782.6" cy="42.5" r="2.6"/><circle cx="784.2" cy="39" r="2.5"/><circle cx="776.8" cy="184" r="2.4"/><circle cx="777.9" cy="180.3" r="2.4"/><circle cx="970.2" cy="38.9" r="2.2"/><circle cx="974" cy="39.3" r="2.3"/><circle cx="994.3" cy="259.8" r="2.1"/><circle cx="990.6" cy="260.6" r="2.4"/><circle cx="851.5" cy="120.2" r="2.2"/><circle cx="913.8" cy="255.5" r="2.5"/><circle cx="931.4" cy="139.6" r="2.1"/><circle cx="933" cy="143" r="2.3"/><circle cx="887" cy="83.1" r="2.5"/><circle cx="1022.4" cy="87.7" r="2.2"/><circle cx="828" cy="226.8" r="2.4"/><circle cx="829.7" cy="230.2" r="2.2"/><circle cx="827.7" cy="233.4" r="2.3"/><circle cx="912.9" cy="255.8" r="2.5"/><circle cx="911.8" cy="259.4" r="2.5"/><circle cx="906.5" cy="245.6" r="2.1"/><circle cx="801.9" cy="248" r="2.6"/><circle cx="803.6" cy="244.6" r="2.2"/><circle cx="800.4" cy="242.5" r="2.3"/><circle cx="796.6" cy="167" r="2.5"/><circle cx="798.9" cy="163.9" r="2.1"/><circle cx="820.2" cy="210.1" r="2"/><circle cx="1045.9" cy="163.7" r="2.1"/><circle cx="1049" cy="161.5" r="2"/><circle cx="955.9" cy="289.1" r="2"/><circle cx="969.9" cy="82.8" r="2.1"/><circle cx="973.7" cy="82.4" r="2"/><circle cx="958.8" cy="173.7" r="2.3"/><circle cx="956.4" cy="176.6" r="2.1"/><circle cx="955.1" cy="180.2" r="2.5"/><circle cx="988.2" cy="57.8" r="2.4"/><circle cx="984.6" cy="58.9" r="2.5"/><circle cx="1024.2" cy="251.1" r="2.2"/><circle cx="1020.7" cy="252.5" r="2.5"/><circle cx="1024" cy="250.7" r="2.6"/><circle cx="925.6" cy="317.7" r="2.1"/><circle cx="966.3" cy="34.8" r="2.3"/><circle cx="1031.7" cy="356.8" r="2.1"/><circle cx="988.8" cy="225.8" r="2.6"/><circle cx="850.5" cy="87.8" r="2.3"/><circle cx="847.5" cy="85.3" r="2.2"/><circle cx="850.8" cy="83.4" r="2.4"/><circle cx="765.7" cy="204" r="2.3"/><circle cx="762.7" cy="201.7" r="2.5"/><circle cx="839.8" cy="246.6" r="2.2"/><circle cx="993.3" cy="104.7" r="2.1"/><circle cx="1018.3" cy="34.3" r="2.5"/><circle cx="1018.8" cy="30.6" r="2.4"/><circle cx="770.7" cy="107.8" r="2.2"/><circle cx="997.3" cy="316.3" r="2.5"/><circle cx="993.6" cy="316.7" r="2.6"/><circle cx="1028.7" cy="283.2" r="2.3"/><circle cx="1031.1" cy="286.2" r="2.4"/><circle cx="1034.8" cy="285.8" r="2"/><circle cx="852.9" cy="332.4" r="2.6"/><circle cx="963.6" cy="349" r="2.1"/><circle cx="961.2" cy="352" r="2.3"/><circle cx="889.4" cy="30.6" r="2.4"/><circle cx="827.7" cy="223.5" r="2.4"/><circle cx="868.9" cy="78.5" r="2.3"/><circle cx="937.5" cy="331" r="2.5"/><circle cx="782" cy="153.7" r="2.4"/><circle cx="780.6" cy="157.3" r="2.2"/><circle cx="813.1" cy="55.6" r="2.1"/><circle cx="985.9" cy="71.9" r="2.6"/><circle cx="983.2" cy="74.6" r="2.4"/><circle cx="920.7" cy="138.9" r="2.3"/><circle cx="874.6" cy="79.9" r="2.3"/><circle cx="875.9" cy="76.3" r="2.6"/><circle cx="922.1" cy="231.1" r="2.5"/><circle cx="870.2" cy="278.3" r="2.2"/><circle cx="946.5" cy="118.6" r="2.2"/><circle cx="881.5" cy="320.5" r="2.3"/><circle cx="878.5" cy="322.8" r="2.4"/><circle cx="830.8" cy="358.1" r="2.1"/><circle cx="1007.9" cy="54.7" r="2.1"/><circle cx="1044.3" cy="118.6" r="2.1"/><circle cx="1006.8" cy="213" r="2.6"/><circle cx="963.6" cy="70.7" r="2.1"/><circle cx="965.3" cy="74.1" r="2.5"/><circle cx="1001.7" cy="153.8" r="2.3"/><circle cx="816.8" cy="122.5" r="2.1"/><circle cx="956.4" cy="48.3" r="2.1"/><circle cx="956.6" cy="44.5" r="2.2"/><circle cx="952.8" cy="44.6" r="2.5"/><circle cx="983.2" cy="23.8" r="2.3"/><circle cx="1040.5" cy="62.3" r="2.3"/><circle cx="1029.4" cy="319.7" r="2"/><circle cx="1031.5" cy="316.5" r="2.1"/><circle cx="763.6" cy="63" r="2.2"/><circle cx="765.9" cy="60" r="2.3"/><circle cx="762.4" cy="61.4" r="2"/><circle cx="786.4" cy="268.9" r="2.5"/><circle cx="752.5" cy="226.2" r="2.5"/><circle cx="835" cy="84.5" r="2.3"/><circle cx="937.8" cy="299.2" r="2.2"/><circle cx="858.9" cy="209.4" r="2.3"/><circle cx="855.3" cy="210.5" r="2.3"/><circle cx="836" cy="273.4" r="2.1"/><circle cx="818.1" cy="320.5" r="2"/><circle cx="819.7" cy="323.9" r="2.6"/><circle cx="767.7" cy="207.5" r="2.3"/><circle cx="771" cy="209.3" r="2.5"/><circle cx="847.8" cy="54.7" r="2.3"/><circle cx="849.6" cy="51.3" r="2.3"/><circle cx="804.2" cy="60.7" r="2.2"/><circle cx="927.1" cy="210.1" r="2.1"/><circle cx="786.3" cy="32.5" r="2.4"/><circle cx="998.6" cy="308.9" r="2.5"/><circle cx="1001.5" cy="311.4" r="2.3"/><circle cx="999" cy="314.2" r="2.5"/><circle cx="884.6" cy="143.2" r="2.4"/><circle cx="881.3" cy="145" r="2.2"/><circle cx="803.3" cy="164.6" r="2.5"/><circle cx="842.3" cy="48.7" r="2.4"/><circle cx="838.7" cy="47.5" r="2.1"/><circle cx="841.6" cy="49.9" r="2.4"/><circle cx="910.1" cy="313.8" r="2.4"/><circle cx="834.8" cy="186.1" r="2.6"/><circle cx="885.9" cy="40.8" r="2.5"/><circle cx="884.6" cy="44.4" r="2.1"/><circle cx="884.4" cy="48.1" r="2.3"/><circle cx="941" cy="60.3" r="2.1"/><circle cx="894.5" cy="98.5" r="2.3"/><circle cx="750.4" cy="273.5" r="2.4"/><circle cx="753.5" cy="275.8" r="2.3"/><circle cx="753.3" cy="272" r="2.4"/><circle cx="783.9" cy="121.7" r="2.3"/><circle cx="958.9" cy="97.2" r="2.5"/><circle cx="962.6" cy="96.3" r="2.3"/><circle cx="960.4" cy="99.4" r="2.3"/><circle cx="744.1" cy="59.9" r="2.4"/><circle cx="826.9" cy="98.1" r="2.5"/><circle cx="830.3" cy="96.3" r="2.2"/><circle cx="830.2" cy="100.1" r="2.3"/><circle cx="813.4" cy="299.9" r="2.1"/><circle cx="792.3" cy="43.6" r="2.5"/><circle cx="844" cy="224.1" r="2.4"/><circle cx="911.1" cy="84" r="2.1"/><circle cx="821.3" cy="64.8" r="2.4"/><circle cx="820.8" cy="61" r="2"/><circle cx="824.2" cy="59.5" r="2.2"/><circle cx="1000.2" cy="301.2" r="2.4"/><circle cx="938.4" cy="253.1" r="2"/><circle cx="992.7" cy="283.3" r="2.3"/><circle cx="992.4" cy="279.5" r="2.2"/><circle cx="976.3" cy="296.3" r="2.4"/><circle cx="824.7" cy="86.3" r="2.2"/><circle cx="821" cy="130.7" r="2.1"/><circle cx="765.5" cy="230.3" r="2.3"/><circle cx="765.6" cy="226.5" r="2.3"/><circle cx="1012.4" cy="205.9" r="2.5"/><circle cx="773.3" cy="201.2" r="2.3"/><circle cx="769.9" cy="202.9" r="2.4"/><circle cx="1002.2" cy="60.5" r="2.4"/><circle cx="978.3" cy="248.9" r="2.1"/><circle cx="981.7" cy="247.1" r="2.5"/><circle cx="909.2" cy="325.9" r="2.4"/><circle cx="923.7" cy="268.6" r="2.6"/><circle cx="934.6" cy="160.8" r="2.1"/><circle cx="937" cy="163.8" r="2.6"/><circle cx="742.6" cy="197.3" r="2.4"/><circle cx="908.5" cy="167.2" r="2.4"/><circle cx="843.2" cy="46.4" r="2.3"/><circle cx="795.5" cy="114.4" r="2.3"/><circle cx="796" cy="110.7" r="2"/><circle cx="793.1" cy="113.1" r="2.1"/><circle cx="1003.7" cy="52.8" r="2.5"/></g>
<rect x="742" y="103.8" width="308" height="180.2" fill="#fff" opacity="0.26"/>
</g>
<rect x="741.0" y="3.8" width="309.1" height="459.4" fill="none" stroke="#000" stroke-width="2.4"/>
<text x="676.7" y="46" font-size="41" font-weight="bold" fill="#000">(b)</text>
<rect x="1129.5" y="104.2" width="310.2" height="182" fill="#f0f0f0"/>
<line x1="1169.2" y1="104.5" x2="1169.2" y2="459.4" stroke="#808080" stroke-width="2.2" stroke-dasharray="5.5 3"/>
<line x1="1298" y1="104.5" x2="1298" y2="459.4" stroke="#808080" stroke-width="2.2" stroke-dasharray="5.5 3"/>
<line x1="1395.8" y1="104.5" x2="1395.8" y2="459.4" stroke="#808080" stroke-width="2.2" stroke-dasharray="5.5 3"/>
<clipPath id="cb"><rect x="1128.5" y="14.9" width="314.4000000000001" height="444.5"/></clipPath>
<g clip-path="url(#cb)" fill="none" stroke-width="3.4" stroke-linejoin="round" stroke-linecap="round">
<path d="M1149.8,15.4 C1151,16.5 1153.9,19.3 1157.3,21.8 C1160.7,24.3 1167.4,28 1170.2,30.5 C1173,33 1174.3,34 1174.1,36.9 C1173.9,39.8 1170,42.9 1169.2,47.7 C1168.4,52.6 1168.9,61.1 1169.2,66 C1169.5,70.8 1169.8,73 1171.3,76.8 C1172.8,80.6 1178,85 1178.4,88.6 C1178.8,92.2 1175.2,94.3 1173.5,98.3 C1171.8,102.2 1168.3,107.6 1168.1,112.3 C1167.9,117 1171.5,121.1 1172.4,126.3 C1173.3,131.5 1174.2,137 1173.5,143.5 C1172.8,150 1169.2,158.6 1168.1,165.1 C1167,171.6 1167.7,177.3 1167,182.3 C1166.3,187.3 1164,191.6 1163.8,195.2 C1163.6,198.8 1167,199.9 1165.9,203.8 C1164.8,207.8 1158.2,215 1157.3,218.9 C1156.4,222.8 1158.6,224.6 1160.5,227.5 C1162.4,230.4 1167.9,233.7 1168.6,236.3 C1169.3,238.9 1166.3,240.4 1164.8,242.9 C1163.3,245.4 1159.7,248.8 1159.5,251.5 C1159.3,254.2 1162.2,256.8 1163.8,259.1 C1165.4,261.4 1169,262.1 1169.2,265.5 C1169.4,268.9 1165,275.9 1164.8,279.5 C1164.6,283.1 1166.8,284.6 1168.1,287.1 C1169.4,289.6 1172.2,291.9 1172.4,294.6 C1172.6,297.3 1169.6,300.3 1169.2,303.2 C1168.8,306.1 1168.2,309.3 1170.2,311.8 C1172.2,314.3 1177,315.6 1181,318.3 C1185,321 1190.7,324.4 1193.9,328 C1197.1,331.6 1197.9,335.3 1200.4,339.8 C1202.9,344.3 1206.5,349.9 1209,354.9 C1211.5,359.9 1213,365.7 1215.5,370 C1218,374.3 1222.5,376.1 1224.1,380.8 C1225.7,385.5 1224,392.3 1225.2,398 C1226.5,403.7 1230.4,411.9 1231.6,415.2 C1232.8,418.5 1232.4,417.5 1232.6,418" stroke="#e8878d"/>
<path d="M1425.7,14.7 C1425.2,16.1 1424.3,19.7 1422.5,22.9 C1420.7,26.1 1417.6,29.8 1414.9,33.7 C1412.2,37.7 1408.7,42.7 1406.3,46.6 C1403.9,50.5 1401,54.2 1400.5,57.4 C1400,60.6 1401.6,62.8 1403.1,66 C1404.6,69.2 1408.4,73.6 1409.5,76.8 C1410.6,80 1410.6,82.5 1409.5,85.4 C1408.4,88.3 1405,91.1 1403.1,94 C1401.2,96.9 1398.7,98.6 1398.3,102.6 C1397.9,106.5 1399.9,112.3 1400.5,117.7 C1401.1,123.1 1402.5,129.9 1402,134.9 C1401.5,139.9 1399.4,143.5 1397.7,147.8 C1396,152.1 1392.6,156.9 1391.9,160.8 C1391.2,164.8 1392.4,167.6 1393.4,171.5 C1394.4,175.4 1397.4,180.2 1397.7,184.5 C1398,188.8 1395.9,193.5 1395.5,197.4 C1395.1,201.3 1396,204.5 1395.5,208.1 C1395,211.7 1392.7,216 1392.7,218.9 C1392.7,221.8 1394,222.5 1395.5,225.4 C1397,228.3 1401.3,232.9 1401.5,236.5 C1401.7,240.1 1397.9,244 1396.6,247.2 C1395.2,250.4 1393.6,252.2 1393.4,255.8 C1393.2,259.4 1395.5,263.8 1395.5,268.8 C1395.5,273.8 1394.5,281.7 1393.4,286 C1392.3,290.3 1389.9,290.7 1389.1,294.6 C1388.3,298.6 1389.1,306.3 1388.4,309.7 C1387.7,313.1 1387.7,313 1384.8,315.1 C1381.9,317.2 1376,319.9 1370.8,322.6 C1365.6,325.3 1358,328.3 1353.5,331.2 C1349,334.1 1346.3,336.6 1343.8,339.8 C1341.3,343 1339.6,347.4 1338.5,350.6 C1337.4,353.8 1337.6,357.8 1337.4,359.2" stroke="#bfbfbf"/>
<line x1="1337.4" y1="359" x2="1337.4" y2="459.4" stroke="#b8c8d4" stroke-width="2.5"/>
<path d="M1258.2,14.7 C1257.8,15.9 1255.6,19.4 1255.6,21.8 C1255.6,24.2 1255.6,26.7 1258.2,29.4 C1260.8,32.1 1266.8,34.4 1271.1,38 C1275.4,41.6 1280.4,46.2 1284,50.9 C1287.6,55.6 1290.3,60.6 1292.6,66 C1294.9,71.4 1296.7,77.5 1298,83.2 C1299.3,89 1300,94.8 1300.2,100.5 C1300.4,106.2 1299.4,112.7 1299.1,117.7 C1298.8,122.7 1297.9,126.5 1298.6,130.6 C1299.2,134.7 1303.1,138.7 1303,142.5 C1302.9,146.3 1300.1,149.4 1298,153.2 C1295.9,157 1291.4,160.6 1290.5,165.1 C1289.6,169.6 1293,175.5 1292.6,180.2 C1292.2,184.9 1288.3,189.2 1288.3,193.1 C1288.3,197 1291,200.9 1292.6,203.8 C1294.2,206.7 1297.3,207.1 1298,210.3 C1298.7,213.5 1296.7,218.5 1296.9,223.2 C1297.1,227.9 1298.6,233.8 1299.1,238.3 C1299.5,242.8 1299.2,246 1299.6,250 C1299.9,254 1300.8,258.1 1301.2,262.3 C1301.7,266.5 1301.2,270.5 1302.3,275.2 C1303.4,279.9 1308.1,286 1308.1,290.3 C1308.1,294.6 1303.9,297.9 1302.3,301.1 C1300.7,304.3 1298.1,307.2 1298.6,309.7 C1299.1,312.2 1302.2,313.3 1305.5,316.2 C1308.8,319.1 1314.5,323.3 1318.5,326.9 C1322.5,330.5 1326.2,333.8 1329.2,337.7 C1332.2,341.6 1335.8,346.3 1336.8,350.6 C1337.8,354.9 1335.3,359.6 1335.3,363.5 C1335.3,367.4 1336.5,371.6 1336.8,374.3 C1337.1,377.1 1337.1,379.1 1337.2,380" stroke="#7dcdee"/>
</g>
<line x1="1128.5" y1="14.9" x2="1442.9" y2="14.9" stroke="#2a2a2a" stroke-width="1.6"/>
<line x1="1122" y1="459.4" x2="1442.9" y2="459.4" stroke="#2a2a2a" stroke-width="1.6"/>
<line x1="1128.5" y1="14.9" x2="1128.5" y2="459.4" stroke="#2a2a2a" stroke-width="1.6"/>
<line x1="1232.6" y1="14.9" x2="1232.6" y2="459.4" stroke="#2a2a2a" stroke-width="1.6"/>
<line x1="1337.2" y1="14.9" x2="1337.2" y2="459.4" stroke="#2a2a2a" stroke-width="1.6"/>
<line x1="1442.9" y1="14.9" x2="1442.9" y2="459.4" stroke="#2a2a2a" stroke-width="1.6"/>
<line x1="1122.3" y1="459.4" x2="1128.5" y2="459.4" stroke="#2a2a2a" stroke-width="1.5"/>
<line x1="1226.8" y1="459.4" x2="1232.6" y2="459.4" stroke="#2a2a2a" stroke-width="1.5"/>
<line x1="1331.4" y1="459.4" x2="1337.2" y2="459.4" stroke="#2a2a2a" stroke-width="1.5"/>
<text x="1117.4" y="466.3" font-size="24.2" text-anchor="end" textLength="14.7" lengthAdjust="spacingAndGlyphs" fill="#000">0</text>
<line x1="1125.3" y1="435.2" x2="1128.5" y2="435.2" stroke="#2a2a2a" stroke-width="1.5"/>
<line x1="1229.4" y1="435.2" x2="1232.6" y2="435.2" stroke="#2a2a2a" stroke-width="1.5"/>
<line x1="1334" y1="435.2" x2="1337.2" y2="435.2" stroke="#2a2a2a" stroke-width="1.5"/>
<line x1="1122.3" y1="411" x2="1128.5" y2="411" stroke="#2a2a2a" stroke-width="1.5"/>
<line x1="1226.8" y1="411" x2="1232.6" y2="411" stroke="#2a2a2a" stroke-width="1.5"/>
<line x1="1331.4" y1="411" x2="1337.2" y2="411" stroke="#2a2a2a" stroke-width="1.5"/>
<text x="1117.4" y="417.9" font-size="24.2" text-anchor="end" textLength="14.7" lengthAdjust="spacingAndGlyphs" fill="#000">5</text>
<line x1="1125.3" y1="386.9" x2="1128.5" y2="386.9" stroke="#2a2a2a" stroke-width="1.5"/>
<line x1="1229.4" y1="386.9" x2="1232.6" y2="386.9" stroke="#2a2a2a" stroke-width="1.5"/>
<line x1="1334" y1="386.9" x2="1337.2" y2="386.9" stroke="#2a2a2a" stroke-width="1.5"/>
<line x1="1122.3" y1="362.7" x2="1128.5" y2="362.7" stroke="#2a2a2a" stroke-width="1.5"/>
<line x1="1226.8" y1="362.7" x2="1232.6" y2="362.7" stroke="#2a2a2a" stroke-width="1.5"/>
<line x1="1331.4" y1="362.7" x2="1337.2" y2="362.7" stroke="#2a2a2a" stroke-width="1.5"/>
<text x="1117.4" y="369.6" font-size="24.2" text-anchor="end" textLength="29.4" lengthAdjust="spacingAndGlyphs" fill="#000">10</text>
<line x1="1125.3" y1="338.5" x2="1128.5" y2="338.5" stroke="#2a2a2a" stroke-width="1.5"/>
<line x1="1229.4" y1="338.5" x2="1232.6" y2="338.5" stroke="#2a2a2a" stroke-width="1.5"/>
<line x1="1334" y1="338.5" x2="1337.2" y2="338.5" stroke="#2a2a2a" stroke-width="1.5"/>
<line x1="1122.3" y1="314.3" x2="1128.5" y2="314.3" stroke="#2a2a2a" stroke-width="1.5"/>
<line x1="1226.8" y1="314.3" x2="1232.6" y2="314.3" stroke="#2a2a2a" stroke-width="1.5"/>
<line x1="1331.4" y1="314.3" x2="1337.2" y2="314.3" stroke="#2a2a2a" stroke-width="1.5"/>
<text x="1117.4" y="321.2" font-size="24.2" text-anchor="end" textLength="29.4" lengthAdjust="spacingAndGlyphs" fill="#000">15</text>
<line x1="1125.3" y1="290.1" x2="1128.5" y2="290.1" stroke="#2a2a2a" stroke-width="1.5"/>
<line x1="1229.4" y1="290.1" x2="1232.6" y2="290.1" stroke="#2a2a2a" stroke-width="1.5"/>
<line x1="1334" y1="290.1" x2="1337.2" y2="290.1" stroke="#2a2a2a" stroke-width="1.5"/>
<line x1="1122.3" y1="265.9" x2="1128.5" y2="265.9" stroke="#2a2a2a" stroke-width="1.5"/>
<line x1="1226.8" y1="265.9" x2="1232.6" y2="265.9" stroke="#2a2a2a" stroke-width="1.5"/>
<line x1="1331.4" y1="265.9" x2="1337.2" y2="265.9" stroke="#2a2a2a" stroke-width="1.5"/>
<text x="1117.4" y="272.8" font-size="24.2" text-anchor="end" textLength="29.4" lengthAdjust="spacingAndGlyphs" fill="#000">20</text>
<line x1="1125.3" y1="241.8" x2="1128.5" y2="241.8" stroke="#2a2a2a" stroke-width="1.5"/>
<line x1="1229.4" y1="241.8" x2="1232.6" y2="241.8" stroke="#2a2a2a" stroke-width="1.5"/>
<line x1="1334" y1="241.8" x2="1337.2" y2="241.8" stroke="#2a2a2a" stroke-width="1.5"/>
<line x1="1122.3" y1="217.6" x2="1128.5" y2="217.6" stroke="#2a2a2a" stroke-width="1.5"/>
<line x1="1226.8" y1="217.6" x2="1232.6" y2="217.6" stroke="#2a2a2a" stroke-width="1.5"/>
<line x1="1331.4" y1="217.6" x2="1337.2" y2="217.6" stroke="#2a2a2a" stroke-width="1.5"/>
<text x="1117.4" y="224.5" font-size="24.2" text-anchor="end" textLength="29.4" lengthAdjust="spacingAndGlyphs" fill="#000">25</text>
<line x1="1125.3" y1="193.4" x2="1128.5" y2="193.4" stroke="#2a2a2a" stroke-width="1.5"/>
<line x1="1229.4" y1="193.4" x2="1232.6" y2="193.4" stroke="#2a2a2a" stroke-width="1.5"/>
<line x1="1334" y1="193.4" x2="1337.2" y2="193.4" stroke="#2a2a2a" stroke-width="1.5"/>
<line x1="1122.3" y1="169.2" x2="1128.5" y2="169.2" stroke="#2a2a2a" stroke-width="1.5"/>
<line x1="1226.8" y1="169.2" x2="1232.6" y2="169.2" stroke="#2a2a2a" stroke-width="1.5"/>
<line x1="1331.4" y1="169.2" x2="1337.2" y2="169.2" stroke="#2a2a2a" stroke-width="1.5"/>
<text x="1117.4" y="176.1" font-size="24.2" text-anchor="end" textLength="29.4" lengthAdjust="spacingAndGlyphs" fill="#000">30</text>
<line x1="1125.3" y1="145" x2="1128.5" y2="145" stroke="#2a2a2a" stroke-width="1.5"/>
<line x1="1229.4" y1="145" x2="1232.6" y2="145" stroke="#2a2a2a" stroke-width="1.5"/>
<line x1="1334" y1="145" x2="1337.2" y2="145" stroke="#2a2a2a" stroke-width="1.5"/>
<line x1="1122.3" y1="120.8" x2="1128.5" y2="120.8" stroke="#2a2a2a" stroke-width="1.5"/>
<line x1="1226.8" y1="120.8" x2="1232.6" y2="120.8" stroke="#2a2a2a" stroke-width="1.5"/>
<line x1="1331.4" y1="120.8" x2="1337.2" y2="120.8" stroke="#2a2a2a" stroke-width="1.5"/>
<text x="1117.4" y="127.7" font-size="24.2" text-anchor="end" textLength="29.4" lengthAdjust="spacingAndGlyphs" fill="#000">35</text>
<line x1="1125.3" y1="96.7" x2="1128.5" y2="96.7" stroke="#2a2a2a" stroke-width="1.5"/>
<line x1="1229.4" y1="96.7" x2="1232.6" y2="96.7" stroke="#2a2a2a" stroke-width="1.5"/>
<line x1="1334" y1="96.7" x2="1337.2" y2="96.7" stroke="#2a2a2a" stroke-width="1.5"/>
<line x1="1122.3" y1="72.5" x2="1128.5" y2="72.5" stroke="#2a2a2a" stroke-width="1.5"/>
<line x1="1226.8" y1="72.5" x2="1232.6" y2="72.5" stroke="#2a2a2a" stroke-width="1.5"/>
<line x1="1331.4" y1="72.5" x2="1337.2" y2="72.5" stroke="#2a2a2a" stroke-width="1.5"/>
<text x="1117.4" y="79.4" font-size="24.2" text-anchor="end" textLength="29.4" lengthAdjust="spacingAndGlyphs" fill="#000">40</text>
<line x1="1125.3" y1="48.3" x2="1128.5" y2="48.3" stroke="#2a2a2a" stroke-width="1.5"/>
<line x1="1229.4" y1="48.3" x2="1232.6" y2="48.3" stroke="#2a2a2a" stroke-width="1.5"/>
<line x1="1334" y1="48.3" x2="1337.2" y2="48.3" stroke="#2a2a2a" stroke-width="1.5"/>
<line x1="1122.3" y1="24.1" x2="1128.5" y2="24.1" stroke="#2a2a2a" stroke-width="1.5"/>
<line x1="1226.8" y1="24.1" x2="1232.6" y2="24.1" stroke="#2a2a2a" stroke-width="1.5"/>
<line x1="1331.4" y1="24.1" x2="1337.2" y2="24.1" stroke="#2a2a2a" stroke-width="1.5"/>
<text x="1117.4" y="31" font-size="24.2" text-anchor="end" textLength="29.4" lengthAdjust="spacingAndGlyphs" fill="#000">45</text>
<line x1="1127.8" y1="459.4" x2="1127.8" y2="464.4" stroke="#2a2a2a" stroke-width="1.5"/>
<line x1="1154.3" y1="459.4" x2="1154.3" y2="462.4" stroke="#2a2a2a" stroke-width="1.5"/>
<line x1="1179.7" y1="459.4" x2="1179.7" y2="464.4" stroke="#2a2a2a" stroke-width="1.5"/>
<line x1="1206.2" y1="459.4" x2="1206.2" y2="462.4" stroke="#2a2a2a" stroke-width="1.5"/>
<line x1="1232.3" y1="459.4" x2="1232.3" y2="464.4" stroke="#2a2a2a" stroke-width="1.5"/>
<line x1="1258.1" y1="459.4" x2="1258.1" y2="462.4" stroke="#2a2a2a" stroke-width="1.5"/>
<line x1="1285.9" y1="459.4" x2="1285.9" y2="464.4" stroke="#2a2a2a" stroke-width="1.5"/>
<line x1="1311.2" y1="459.4" x2="1311.2" y2="462.4" stroke="#2a2a2a" stroke-width="1.5"/>
<line x1="1337.3" y1="459.4" x2="1337.3" y2="464.4" stroke="#2a2a2a" stroke-width="1.5"/>
<line x1="1359.5" y1="459.4" x2="1359.5" y2="462.4" stroke="#2a2a2a" stroke-width="1.5"/>
<line x1="1382.4" y1="459.4" x2="1382.4" y2="464.4" stroke="#2a2a2a" stroke-width="1.5"/>
<line x1="1404.6" y1="459.4" x2="1404.6" y2="462.4" stroke="#2a2a2a" stroke-width="1.5"/>
<line x1="1427.1" y1="459.4" x2="1427.1" y2="464.4" stroke="#2a2a2a" stroke-width="1.5"/>
<text x="1127.8" y="487" font-size="22.6" text-anchor="middle" textLength="36" lengthAdjust="spacingAndGlyphs" fill="#000">0.0</text>
<text x="1179.7" y="487" font-size="22.6" text-anchor="middle" textLength="36" lengthAdjust="spacingAndGlyphs" fill="#000">0.5</text>
<text x="1232.3" y="487" font-size="22.6" text-anchor="middle" textLength="36" lengthAdjust="spacingAndGlyphs" fill="#000">0.0</text>
<text x="1285.9" y="487" font-size="22.6" text-anchor="middle" textLength="36" lengthAdjust="spacingAndGlyphs" fill="#000">0.5</text>
<text x="1337.3" y="487" font-size="22.6" text-anchor="middle" textLength="36" lengthAdjust="spacingAndGlyphs" fill="#000">0.0</text>
<text x="1382.4" y="487" font-size="22.6" text-anchor="middle" textLength="36" lengthAdjust="spacingAndGlyphs" fill="#000">0.3</text>
<text x="1427.1" y="487" font-size="22.6" text-anchor="middle" textLength="36" lengthAdjust="spacingAndGlyphs" fill="#000">0.6</text>
<text x="1175.5" y="519.3" font-size="22.5" text-anchor="middle" textLength="44.7" lengthAdjust="spacingAndGlyphs" fill="#000">Sp3</text>
<text x="1284.6" y="519.3" font-size="22.5" text-anchor="middle" textLength="84.5" lengthAdjust="spacingAndGlyphs" fill="#000">Density</text>
<text x="1389" y="519.3" font-size="22.5" text-anchor="middle" textLength="81" lengthAdjust="spacingAndGlyphs" fill="#000">H_cont</text>
<text transform="translate(1076.3,236.2) rotate(-90)" font-size="24" text-anchor="middle">Position.Z(Å)</text>
</g>
<g id="pa">
<clipPath id="ca0"><rect x="96.6" y="17.7" width="573.3" height="237.9"/></clipPath>
<g clip-path="url(#ca0)" fill="none" stroke-linejoin="round" stroke-linecap="round">
<path d="M96.6,255.6 L195,255.6 L198.5,255.1 L200.4,253.6 L202.4,248.9 L204.2,240.2 L209,202.7 L211.8,171.4 L216.3,101.2 L217.5,90.6 L218.6,87 L219.8,91.6 L221.1,106.9 L225.8,198.1 L228.3,231.2 L229.6,241.7 L231.2,249.3 L233,253.3 L235.5,255.1 L240.4,255.6 L267,255.4 L272.4,254.5 L276.1,252.5 L279.4,248.7 L282.5,242.4 L292.5,211.2 L294.6,207.5 L296.8,206.2 L298.1,206.6 L299.5,207.7 L306.9,218 L311.2,221.5 L321.3,223.9 L334.6,228.9 L347.1,230.5 L359.5,231.1 L366.4,230.6 L383.9,227.3 L396.5,223.7 L401.3,223.1 L406.8,224 L419.6,229.9 L426.2,231.2 L444.2,228.6 L461.4,229.7 L490.5,228.7 L516.9,228.3 L535.3,230.5 L540,229.8 L549.2,227 L552.9,226.6 L557,227.1 L566.4,230.1 L571,230.8 L574.7,230.5 L583.6,228.4 L588.2,227.9 L601.6,229 L616.7,228.5 L632.7,229.4 L661.5,228.1 L669.9,228.5" stroke="#f0b4be" stroke-width="3" stroke-dasharray="14 16"/>
<path d="M96.6,255.6 L173.4,255.6 L175.6,255.3 L176.7,254 L178.3,245.7 L179.6,224.7 L182.9,102.5 L183.6,85.2 L184.2,79 L184.9,83.1 L185.7,98.8 L188.7,194.7 L190.3,231.7 L192.3,250.3 L193.4,253.8 L195.2,255.3 L242.1,255.5 L247.5,254.8 L251.1,253 L254.3,249.2 L257.5,242.6 L260.4,233.4 L268.1,204.5 L270.7,198.1 L271.7,196.7 L272.7,196.2 L274.2,197.1 L275.8,200.1 L282.8,219.7 L284.8,222.9 L286.8,224.7 L290,225.3 L298.7,223.2 L304,223.2 L320.2,228.3 L334.8,231.9 L339.5,231.7 L351.6,228.8 L365.2,226.2 L370.3,225.8 L376,226.2 L391.8,229.2 L398,229.8 L414.5,228.1 L432.4,228.7 L451.2,228.3 L465.6,227.3 L483.3,229.1 L498.4,228 L514,229.1 L538.4,229.3 L552.9,228.5 L566.4,228.7 L579.5,228.2 L597.3,230.4 L602.3,230 L613.4,227.9 L620.3,227.6 L632.9,228.4 L651.1,230.3 L669.9,228" stroke="#b2e3f5" stroke-width="3" stroke-dasharray="14 16"/>
<path d="M96.6,255.6 L197.7,255.6 L201.6,255 L203.9,253.1 L205.5,249.4 L206.8,243.7 L209.1,224.2 L211.3,192 L215.7,103.7 L217,87.3 L218.1,82 L218.6,82.6 L219.3,86 L220.6,101.1 L225.3,194.9 L227.8,229.7 L229.3,241.8 L230.8,248.9 L232.6,253.1 L235.2,255.1 L240.3,255.6 L268.3,255.4 L273.7,254.4 L277.4,252.1 L280.7,247.6 L283.8,240.1 L293.8,202.8 L295.9,198.4 L298.1,196.9 L299.5,197.4 L301.2,199.3 L309.5,216 L312,219.4 L314.8,221.9 L318.5,223.8 L331.3,228 L343.4,230.8 L350,231.9 L358.7,231.5 L381.1,227.5 L392.9,224.7 L397.5,224.2 L402.9,224.8 L418.6,228.8 L435.3,230.3 L442.2,230.1 L459.4,228.4 L481.4,229.3 L497.7,226.8 L503.3,226.4 L508.9,226.7 L521.8,228.9 L528.5,229.4 L546.7,228.6 L566.1,229.1 L584.6,228 L607.8,230 L630.8,227.7 L653,229.7 L669.9,228.8" stroke="#f0b4be" stroke-width="3"/>
<path d="M96.6,255.6 L173.3,255.6 L175.4,255.2 L176.5,254 L178.2,245.4 L179.5,223.8 L182.8,98.3 L183.4,80.6 L184.1,74.2 L184.7,78.9 L185.5,96.7 L188.3,195.5 L189.8,231.1 L191.6,249.9 L192.8,253.8 L194.6,255.4 L238.3,255.5 L243.9,254.7 L247.8,252.6 L251.4,248.4 L254.7,241.7 L257.8,232.4 L265.8,204 L268.6,197.2 L269.7,195.2 L270.6,194.8 L271.9,195.8 L273.2,198.7 L279.7,220.7 L281.5,224.1 L283.5,226 L285.1,226.5 L286.9,226.4 L297.4,222.7 L303.3,222.3 L307.6,223.4 L330,231.7 L334.8,232.8 L339.4,232.5 L360,227.2 L367.5,226.2 L386.4,228 L397.3,230.3 L401.4,230.7 L415.5,228.4 L429.8,229.1 L443.9,227.4 L457.8,228.8 L475,227.6 L490.4,228.5 L513.3,228.9 L526.6,229.6 L544.3,227.6 L558.4,229.8 L573.4,228.2 L586.9,230.1 L590.6,229.7 L598.6,227.7 L602.4,227.2 L606,227.5 L614.4,229.5 L618.6,230 L631.9,228.5 L646.5,229.5 L661.5,227.9 L669.9,228.2" stroke="#b2e3f5" stroke-width="3"/>
</g>
<clipPath id="ca1"><rect x="96.6" y="255.6" width="573.3" height="237.5"/></clipPath>
<g clip-path="url(#ca1)" fill="none" stroke-linejoin="round" stroke-linecap="round">
<path d="M96.6,493.1 L194.4,493.1 L197.5,492.7 L199.3,491.2 L200.8,488.1 L202.1,483 L206.3,456.1 L209.6,442.4 L210.9,434 L212.9,410.2 L216.8,342.8 L218,331 L219,327.2 L219.6,328.1 L220.3,331.2 L221.7,345.7 L227.1,435.6 L229.9,468.6 L231.4,479 L233.2,486.6 L235.2,490.6 L238,492.6 L243.4,493.1 L269.6,492.9 L275,491.9 L278.7,489.7 L282,485.3 L285.1,478 L295.1,441.8 L297.3,437.5 L299.4,436.1 L300.9,436.6 L302.5,438.5 L310.5,454.3 L313,457.7 L315.4,460 L319.4,462 L332.3,466.1 L343.6,468.6 L348.4,468.6 L358.4,467.4 L370.5,467.6 L387.3,463.4 L403.7,462.5 L411.6,463.1 L425.7,466.5 L432.7,467.3 L438,467.1 L452.2,465.2 L457,465.5 L470.2,467.4 L484.5,465.6 L500.5,467.1 L516.1,465.3 L533.9,467.7 L551.8,465 L568.3,467.5 L572.6,467.3 L583.9,465.6 L600.1,467 L616,465.5 L634.5,467.5 L652.4,464.9 L657,465.4 L666,467.4 L669.9,467.7" stroke="#e8868e" stroke-width="3" stroke-dasharray="14 16"/>
<path d="M96.6,493.1 L176.2,493.1 L178.2,492.7 L179.2,491.1 L180.1,485.3 L180.8,476 L181.9,439.6 L184.6,250.6 L187.3,250.6 L190.8,453.3 L192.4,484.7 L193.4,490.4 L194.1,492 L195,492.8 L235.3,493.1 L238.9,492.6 L241.6,491.3 L248.1,482.9 L253.2,479.2 L255.5,475.9 L258.4,467.4 L265.5,440.7 L267.8,435 L269.6,432.9 L270.9,433.9 L272.2,436.7 L277.1,453.8 L279.4,459.9 L282,463.6 L283.7,464.6 L285.5,465 L298.2,463.8 L306.1,463.9 L319.9,465.7 L333.6,468.7 L337.7,469.2 L341.6,468.8 L351,466.5 L360.6,465.6 L369.7,463 L373.3,462.5 L377.7,463.2 L387.2,466.6 L391.6,467.2 L407,465.6 L437,467.3 L452,465 L467.6,467.5 L482.5,465.8 L514.8,466.7 L528.4,465.9 L541.5,467.1 L555.4,465.2 L570.8,467.5 L589,465.8 L602.9,466 L617.8,467.5 L632.7,465.1 L646.6,467 L659.3,466.2 L669.9,466.7" stroke="#88d4f0" stroke-width="3" stroke-dasharray="14 16"/>
<path d="M96.6,493.1 L197.8,493.1 L201.8,492.6 L204.1,490.8 L205.7,487.2 L207,481.8 L209.5,461 L211.6,428.4 L216,341.1 L217.3,325.5 L218.5,320.8 L219.6,325.5 L220.9,341.1 L225.7,434.3 L228.1,468.2 L229.4,478.9 L231.1,486.7 L232.9,490.8 L235.3,492.6 L240.4,493.1 L269.7,492.9 L275.3,491.9 L279.1,489.8 L282.5,485.2 L285.6,477.7 L295.8,439.9 L297.9,435.6 L300,434.2 L301.7,434.9 L303.3,436.9 L311.5,453.9 L314.1,457.9 L316.7,460.5 L319.4,462.2 L322.6,463.5 L338.2,468.2 L343.1,469.1 L347.5,469 L357.7,467.4 L370.1,467.1 L401.8,462.2 L406.5,462.7 L416.7,465.8 L421.6,466.3 L432.1,466 L465,466.7 L480.4,464.5 L494.6,466.4 L508.6,464.2 L524.8,466.6 L557.2,465.9 L571.5,467 L584.1,466 L596,466.4 L606.3,466 L620.3,467.3 L634.8,465.2 L649.4,467.4 L662.2,465.5 L669.9,466.1" stroke="#e8868e" stroke-width="3"/>
<path d="M96.6,493.1 L175.4,493.1 L177.5,492.8 L178.7,491.5 L179.6,488 L180.3,483 L181.6,461 L185.1,320.8 L185.7,303.1 L186.4,297.9 L187.7,319.6 L190.5,425.6 L191.9,465.1 L193.7,486.5 L194.9,490.9 L196.7,492.8 L241.4,493 L246.6,492.3 L250.2,490.4 L253.5,486.5 L256.6,479.8 L259.6,470.4 L266.8,442.9 L269.1,436.9 L271,434.3 L272.2,435.1 L273.5,438.1 L277.9,454.3 L280.1,460.2 L282.3,463.7 L285.3,465 L297.6,463.3 L305.3,463.3 L317.7,465.2 L333.8,468.8 L339.5,469.3 L346.6,468.6 L362.8,464.6 L369.7,463.8 L385.9,465.1 L401.1,467.1 L415,465.8 L429.3,466.7 L443.4,464.5 L457.8,466.5 L469.1,464.9 L472.8,464.7 L486.1,466.9 L500.5,465.2 L514.3,467.6 L528.9,465.5 L541.6,466.8 L555.4,465.7 L568.2,467.1 L580.1,466.1 L592.6,466.5 L605,465.7 L619,467.2 L631.6,465.8 L645.7,466.9 L659.3,465.5 L669.9,466.9" stroke="#88d4f0" stroke-width="3"/>
</g>
<clipPath id="ca2"><rect x="96.6" y="493.1" width="573.3" height="237.9"/></clipPath>
<g clip-path="url(#ca2)" fill="none" stroke-linejoin="round" stroke-linecap="round">
<path d="M96.6,731 L195.2,731 L198.5,730.6 L200.4,729.2 L202.3,725.5 L204.1,718.3 L210.4,678.4 L212.7,654.7 L217.2,591.6 L218.3,581.9 L219.4,578.5 L220.1,579.4 L220.9,582.8 L222.4,595.1 L228.5,679 L231.4,708.1 L233,717.8 L235,724.8 L237.3,728.8 L240.3,730.5 L246,731 L270.6,730.8 L275.8,730 L279.6,728 L283,724 L286.1,717.7 L296.1,687 L298.2,683.5 L300.2,682.4 L301.7,682.8 L303.2,684.1 L310.7,695.2 L313,697.6 L315.3,699.1 L317.9,700 L326.2,701.5 L338.9,705.7 L348.7,707.1 L356.7,706.8 L371,703 L385.2,702.5 L395.5,700 L399.1,699.5 L403.2,700 L411.3,702.5 L415.4,703.2 L427.8,702.9 L440.7,704.3 L453.5,703.6 L468.4,705.8 L483.8,703.8 L501.7,703.1 L506.9,703.4 L520,705.5 L534.1,703.8 L548.9,705.1 L563.8,702.7 L578.8,704.6 L594.4,705.3 L600.1,705 L613.1,703 L627.6,705 L641.9,703.2 L645.7,703.5 L657.5,705.5 L669.9,704.3" stroke="#e35d65" stroke-width="3" stroke-dasharray="14 16"/>
<path d="M96.6,731 L176.2,731 L178.2,730.6 L179.2,729 L180.1,723.2 L180.8,713.9 L181.9,677.5 L184.6,488.1 L187.3,488.1 L190.8,691.2 L192.4,722.6 L193.4,728.3 L194.1,729.9 L195,730.7 L241.9,730.9 L247.3,730.2 L250.9,728.3 L254.2,724.2 L257.3,717.2 L260.2,707.2 L267.6,677.1 L270.1,670.5 L271.2,668.7 L272,668.2 L273.3,669.3 L274.8,673 L279.9,692.7 L282.5,700.7 L285.1,705.6 L286.4,706.8 L287.8,707.3 L289.7,706.8 L296.6,702.8 L305.3,701.2 L310.9,701.1 L316.6,701.6 L333.9,705.9 L340,706.6 L353.4,704.6 L366.7,700.7 L371.1,700.1 L375.6,700.6 L386.5,703.7 L393.2,704.5 L400,704.6 L416,703.4 L430.4,705.4 L434.8,705.6 L439.6,705 L449.1,702.8 L453.5,702.4 L457.6,702.9 L467.3,705.7 L471.9,706.3 L476.5,705.9 L486.3,702.8 L491.2,702.1 L495.5,702.6 L505.3,705.4 L510.2,706.1 L514.3,705.8 L524.3,703.4 L529.5,702.9 L548,705.1 L568.2,703.7 L589.6,704.6 L612.6,703.8 L631.4,705 L649.8,703.3 L669.9,705.4" stroke="#5cbdef" stroke-width="3" stroke-dasharray="14 16"/>
<path d="M96.6,731 L196.2,731 L200.4,730.4 L202.9,728.6 L204.5,725.5 L206,720.1 L208.6,700.6 L210.9,670 L215.7,588 L217,573.8 L218.3,568.4 L219,569.3 L219.6,572.6 L220.9,585.8 L226.2,675.1 L228.8,706.9 L230.3,717.5 L231.9,724.5 L233.9,728.6 L236.6,730.5 L242.1,731 L271.4,730.8 L276.9,729.9 L280.7,727.8 L283.7,724.2 L286.4,718.4 L289.4,709.2 L296.8,681.3 L299.2,675.9 L300.4,674.7 L301.5,674.3 L303,674.8 L304.6,676.8 L312.8,693 L315.3,696.4 L317.9,698.8 L321.7,700.6 L336.6,705 L350.3,707.3 L359.2,707.1 L374.2,703.1 L387.8,703.1 L391.4,702.1 L399,699.1 L402.7,698.5 L407,699.2 L416.8,704.2 L421.9,705.3 L436.2,702.8 L452,705.4 L467.9,703.3 L483.5,703.6 L503.8,702.8 L527.1,704.2 L565.2,704 L579,704.7 L594.7,703.7 L610.6,704.7 L626.3,703.9 L642.1,704.4 L669.9,704.2" stroke="#e35d65" stroke-width="3"/>
<path d="M96.6,731 L175.9,731 L178,730.6 L179.2,729.3 L180.8,720.2 L182.1,697.5 L185.4,564.9 L186,546.2 L186.7,539.5 L187.3,544.4 L188.2,563.2 L190.9,667.5 L192.4,705.1 L194.2,724.9 L195.4,729 L197,730.7 L243,730.9 L248.4,730.2 L252,728.5 L255.5,724.6 L258.6,718 L261.5,708.6 L268.8,681.3 L271,675.5 L273,672.9 L274.3,674 L275.6,677.2 L280.4,695.3 L282.8,702.8 L285.3,707.4 L287.6,708.9 L289.6,708.3 L293.8,704.6 L296.3,703 L304.1,701.3 L310.2,701.1 L316.3,701.6 L322.2,702.7 L334.1,706.1 L340.7,706.7 L352.6,705.1 L365.1,700.7 L369.3,700 L373.7,700.7 L383.1,704.2 L387.7,704.9 L401.9,703.5 L416.2,704.5 L430.8,704.1 L444.5,704.8 L460.9,703.6 L476.5,704.7 L490.2,704.2 L502.7,704.5 L517.9,703.3 L535.9,705.7 L540.5,705.2 L549.8,703 L553.9,702.6 L572.6,705.5 L589.6,703.8 L598.8,703.4 L606.5,703.7 L618.8,705.4 L623.9,705.6 L641.2,702.6 L645.8,703 L654.7,705.2 L658.8,705.8 L663.3,705.6 L669.9,704.2" stroke="#5cbdef" stroke-width="3"/>
</g>
<clipPath id="ca3"><rect x="96.6" y="731" width="573.3" height="237.8"/></clipPath>
<g clip-path="url(#ca3)" fill="none" stroke-linejoin="round" stroke-linecap="round">
<path d="M96.6,968.8 L190.6,968.8 L195.7,968.1 L198.6,966.1 L200.4,963.3 L202.1,958.7 L205,943.5 L207.8,918.6 L213.7,850.8 L215.4,839.2 L216.2,836.1 L217,835 L217.8,835.8 L218.8,838.6 L220.8,849.8 L228.3,922.2 L232.1,948.3 L234.2,957.2 L236.5,963 L239.1,966.4 L242.7,968.2 L249.6,968.8 L269.4,968.5 L274.5,967.5 L278.1,965.2 L281.4,960.9 L284.3,954.3 L294,922.2 L296.1,918.3 L298.2,916.9 L299.7,917.5 L301.2,918.9 L308.7,931.7 L310.9,934.4 L313.1,936.2 L316.3,937.4 L326.7,938.8 L340,943.6 L345.4,944.7 L349.5,944.5 L358.7,942.9 L373.4,942.7 L391.3,938 L397.7,937.1 L402.4,937.6 L414.4,940.7 L429,940.3 L439.1,943.3 L443,943.9 L446.3,943.6 L454,941.5 L457.9,941 L471.2,942.7 L483.8,941.3 L496.9,942.7 L510.9,941.6 L525.1,942.7 L550.2,941.1 L554.9,941.5 L567.5,943.7 L571.5,943.3 L579.5,941 L583.2,940.4 L586.7,940.7 L594.2,942.8 L598,943.3 L611.9,940.9 L626.7,942.9 L638.5,941.9 L650.1,942.3 L662.9,941.2 L669.9,941.6" stroke="#b80c0e" stroke-width="3" stroke-dasharray="14 16"/>
<path d="M96.6,968.8 L176.2,968.8 L178.2,968.4 L179.2,966.8 L180.1,961 L180.8,951.7 L181.9,915.3 L184.6,726 L187.3,726 L190.8,929 L192.4,960.4 L193.4,966.1 L194.1,967.7 L195,968.5 L243.4,968.7 L248.4,968.1 L251.7,966.5 L255,962.6 L257.8,956.1 L260.6,946.3 L267.1,918.4 L269.2,912.4 L270.4,910.5 L271.2,909.9 L272.5,910.9 L274,914.1 L279.4,933 L282,940.4 L284.5,944.8 L286.8,946.3 L288.7,945.8 L293.5,941.7 L296.6,940 L302.7,938.6 L309,938 L315.8,938.5 L335.7,941.9 L344.1,942.5 L352,941.8 L366.7,938.3 L372.3,937.8 L376.7,938.5 L393.7,942.5 L400.8,943.3 L418.3,941 L434.5,942.9 L447.5,941.1 L451.9,940.9 L467.8,943.1 L482.8,941.5 L499.2,942.7 L514.6,940.7 L534.1,943.1 L548.5,942.1 L570.6,941.4 L590.1,942.6 L604.4,941.9 L619.8,942.5 L635,941.4 L651.4,942.5 L664,941.4 L669.9,941.5" stroke="#2a6aa5" stroke-width="3" stroke-dasharray="14 16"/>
<path d="M96.6,968.8 L189,968.8 L193.9,968.1 L196.8,966.1 L198.8,962.7 L200.4,957.8 L203.4,941.2 L206.2,914.2 L211.9,843.5 L213.6,830.8 L214.4,827.3 L215.2,826 L216,826.9 L216.8,829.9 L218.5,842 L224.7,918 L228,946.9 L229.8,956.4 L231.7,962.7 L234.2,966.6 L237.3,968.3 L243.5,968.8 L269.6,968.6 L275,967.6 L278.7,965.3 L281.7,961.4 L284.3,955.7 L287.3,946.2 L294.5,918.1 L296.9,912.4 L298.1,911 L299.2,910.5 L300.9,911.2 L302.5,913.3 L310.5,930.3 L313,934 L315.4,936.5 L319.5,938.4 L332.1,941 L343.1,945.5 L347.2,946.4 L351.8,946 L359.3,942.9 L362.9,942 L378.8,941.7 L398.2,937.9 L403.1,937.3 L408.5,938 L417.6,941.2 L421.7,942.1 L435.3,941.5 L447.5,942.7 L460.7,941.4 L473.8,942.1 L487.6,940.1 L501.2,941.6 L512.8,941 L525.6,941.9 L538,941.1 L552.9,942.9 L572.9,942.1 L586,940.5 L589.8,941 L598.2,943.7 L602.1,944.3 L605.7,943.9 L614,941.2 L618.3,940.5 L631.9,942.1 L650.4,942.8 L669.9,941.7" stroke="#b80c0e" stroke-width="3"/>
<path d="M96.6,968.8 L175.6,968.8 L177.7,968.4 L178.8,966.9 L179.8,962.9 L180.5,957.2 L181.8,932.5 L185.1,789 L185.7,768.7 L186.4,761.5 L187,766.8 L187.8,787.2 L190.6,900 L192.1,940.7 L193.9,962.2 L195,966.7 L196.7,968.5 L242.9,968.7 L248,968.1 L251.2,966.4 L254.3,962.6 L257.1,956 L259.9,946.2 L266.5,917.9 L268.6,911.9 L270.4,909.6 L271.5,910.5 L272.8,913.7 L277.6,932 L280.4,940.3 L283.5,946.1 L285,947.6 L286.3,948.2 L288.4,947.4 L293.3,942.2 L296.3,940.3 L302,938.7 L309,938 L315.3,938.5 L335.6,941.7 L344.1,942.4 L350.8,941.9 L362.4,939.3 L367.4,938.8 L371.6,939.2 L382.9,941.8 L398.8,941 L416.3,942.9 L434.7,941.1 L442.4,940.8 L468.9,941.6 L489.4,941.4 L510.7,942.5 L542.1,941.5 L562.6,943.1 L581.9,940.6 L587.2,941.1 L597.2,943.4 L601.4,943.8 L606.2,943.2 L616,940.7 L620.3,940.3 L624.5,940.7 L633.7,943 L638.1,943.6 L642.9,943.3 L656.5,940.9 L661.4,941.1 L669.9,942.5" stroke="#2a6aa5" stroke-width="3"/>
</g>
<rect x="96.6" y="17.7" width="573.3" height="951.1" fill="none" stroke="#000" stroke-width="2.2"/>
<line x1="96.6" y1="255.6" x2="669.9" y2="255.6" stroke="#000" stroke-width="2.2"/>
<line x1="96.6" y1="493.1" x2="669.9" y2="493.1" stroke="#000" stroke-width="2.2"/>
<line x1="96.6" y1="731" x2="669.9" y2="731" stroke="#000" stroke-width="2.2"/>
<line x1="85" y1="255.6" x2="96.6" y2="255.6" stroke="#000" stroke-width="2"/>
<line x1="85" y1="175.3" x2="96.6" y2="175.3" stroke="#000" stroke-width="2"/>
<line x1="85" y1="95.1" x2="96.6" y2="95.1" stroke="#000" stroke-width="2"/>
<line x1="90.7" y1="215.5" x2="96.6" y2="215.5" stroke="#000" stroke-width="2"/>
<line x1="90.7" y1="135.2" x2="96.6" y2="135.2" stroke="#000" stroke-width="2"/>
<line x1="90.7" y1="55" x2="96.6" y2="55" stroke="#000" stroke-width="2"/>
<line x1="178.5" y1="255.6" x2="178.5" y2="261.6" stroke="#000" stroke-width="2"/>
<line x1="260.4" y1="255.6" x2="260.4" y2="261.6" stroke="#000" stroke-width="2"/>
<line x1="342.3" y1="255.6" x2="342.3" y2="261.6" stroke="#000" stroke-width="2"/>
<line x1="424.2" y1="255.6" x2="424.2" y2="261.6" stroke="#000" stroke-width="2"/>
<line x1="506.1" y1="255.6" x2="506.1" y2="261.6" stroke="#000" stroke-width="2"/>
<line x1="588" y1="255.6" x2="588" y2="261.6" stroke="#000" stroke-width="2"/>
<line x1="669.9" y1="255.6" x2="669.9" y2="261.6" stroke="#000" stroke-width="2"/>
<line x1="85" y1="493.1" x2="96.6" y2="493.1" stroke="#000" stroke-width="2"/>
<line x1="85" y1="412.9" x2="96.6" y2="412.9" stroke="#000" stroke-width="2"/>
<line x1="85" y1="332.6" x2="96.6" y2="332.6" stroke="#000" stroke-width="2"/>
<line x1="90.7" y1="453" x2="96.6" y2="453" stroke="#000" stroke-width="2"/>
<line x1="90.7" y1="372.7" x2="96.6" y2="372.7" stroke="#000" stroke-width="2"/>
<line x1="90.7" y1="292.5" x2="96.6" y2="292.5" stroke="#000" stroke-width="2"/>
<line x1="178.5" y1="493.1" x2="178.5" y2="499.1" stroke="#000" stroke-width="2"/>
<line x1="260.4" y1="493.1" x2="260.4" y2="499.1" stroke="#000" stroke-width="2"/>
<line x1="342.3" y1="493.1" x2="342.3" y2="499.1" stroke="#000" stroke-width="2"/>
<line x1="424.2" y1="493.1" x2="424.2" y2="499.1" stroke="#000" stroke-width="2"/>
<line x1="506.1" y1="493.1" x2="506.1" y2="499.1" stroke="#000" stroke-width="2"/>
<line x1="588" y1="493.1" x2="588" y2="499.1" stroke="#000" stroke-width="2"/>
<line x1="669.9" y1="493.1" x2="669.9" y2="499.1" stroke="#000" stroke-width="2"/>
<line x1="85" y1="731" x2="96.6" y2="731" stroke="#000" stroke-width="2"/>
<line x1="85" y1="650.8" x2="96.6" y2="650.8" stroke="#000" stroke-width="2"/>
<line x1="85" y1="570.5" x2="96.6" y2="570.5" stroke="#000" stroke-width="2"/>
<line x1="90.7" y1="690.9" x2="96.6" y2="690.9" stroke="#000" stroke-width="2"/>
<line x1="90.7" y1="610.6" x2="96.6" y2="610.6" stroke="#000" stroke-width="2"/>
<line x1="90.7" y1="530.4" x2="96.6" y2="530.4" stroke="#000" stroke-width="2"/>
<line x1="178.5" y1="731" x2="178.5" y2="737" stroke="#000" stroke-width="2"/>
<line x1="260.4" y1="731" x2="260.4" y2="737" stroke="#000" stroke-width="2"/>
<line x1="342.3" y1="731" x2="342.3" y2="737" stroke="#000" stroke-width="2"/>
<line x1="424.2" y1="731" x2="424.2" y2="737" stroke="#000" stroke-width="2"/>
<line x1="506.1" y1="731" x2="506.1" y2="737" stroke="#000" stroke-width="2"/>
<line x1="588" y1="731" x2="588" y2="737" stroke="#000" stroke-width="2"/>
<line x1="669.9" y1="731" x2="669.9" y2="737" stroke="#000" stroke-width="2"/>
<line x1="85" y1="968.8" x2="96.6" y2="968.8" stroke="#000" stroke-width="2"/>
<line x1="85" y1="888.5" x2="96.6" y2="888.5" stroke="#000" stroke-width="2"/>
<line x1="85" y1="808.3" x2="96.6" y2="808.3" stroke="#000" stroke-width="2"/>
<line x1="90.7" y1="928.7" x2="96.6" y2="928.7" stroke="#000" stroke-width="2"/>
<line x1="90.7" y1="848.4" x2="96.6" y2="848.4" stroke="#000" stroke-width="2"/>
<line x1="90.7" y1="768.2" x2="96.6" y2="768.2" stroke="#000" stroke-width="2"/>
<line x1="96.6" y1="968.8" x2="96.6" y2="980.3" stroke="#000" stroke-width="2"/>
<line x1="178.5" y1="968.8" x2="178.5" y2="974.8" stroke="#000" stroke-width="2"/>
<line x1="260.4" y1="968.8" x2="260.4" y2="980.3" stroke="#000" stroke-width="2"/>
<line x1="342.3" y1="968.8" x2="342.3" y2="974.8" stroke="#000" stroke-width="2"/>
<line x1="424.2" y1="968.8" x2="424.2" y2="980.3" stroke="#000" stroke-width="2"/>
<line x1="506.1" y1="968.8" x2="506.1" y2="974.8" stroke="#000" stroke-width="2"/>
<line x1="588" y1="968.8" x2="588" y2="980.3" stroke="#000" stroke-width="2"/>
<line x1="669.9" y1="968.8" x2="669.9" y2="974.8" stroke="#000" stroke-width="2"/>
<text x="76.2" y="266.2" font-size="35.5" text-anchor="end" fill="#000">0</text>
<text x="76.2" y="185.9" font-size="35.5" text-anchor="end" fill="#000">3</text>
<text x="76.2" y="105.7" font-size="35.5" text-anchor="end" fill="#000">6</text>
<text x="76.2" y="503.7" font-size="35.5" text-anchor="end" fill="#000">0</text>
<text x="76.2" y="423.5" font-size="35.5" text-anchor="end" fill="#000">3</text>
<text x="76.2" y="343.2" font-size="35.5" text-anchor="end" fill="#000">6</text>
<text x="76.2" y="741.6" font-size="35.5" text-anchor="end" fill="#000">0</text>
<text x="76.2" y="661.4" font-size="35.5" text-anchor="end" fill="#000">3</text>
<text x="76.2" y="581.1" font-size="35.5" text-anchor="end" fill="#000">6</text>
<text x="76.2" y="979.4" font-size="35.5" text-anchor="end" fill="#000">0</text>
<text x="76.2" y="899.1" font-size="35.5" text-anchor="end" fill="#000">3</text>
<text x="76.2" y="818.9" font-size="35.5" text-anchor="end" fill="#000">6</text>
<text x="96.6" y="1016.2" font-size="35" text-anchor="middle" fill="#000">0</text>
<text x="260.4" y="1016.2" font-size="35" text-anchor="middle" fill="#000">2</text>
<text x="424.2" y="1016.2" font-size="35" text-anchor="middle" fill="#000">4</text>
<text x="588" y="1016.2" font-size="35" text-anchor="middle" fill="#000">6</text>
<text x="393.8" y="1057.3" font-size="40" text-anchor="middle" textLength="211.3" lengthAdjust="spacingAndGlyphs" fill="#000">Distance(Å)</text>
<text transform="translate(34.3,491.7) rotate(-90)" font-size="40" text-anchor="middle" textLength="495.4" lengthAdjust="spacingAndGlyphs">Radial Distribution Function</text>
<text x="7.6" y="45.9" font-size="41" font-weight="bold" fill="#000">(a)</text>
<text x="104.4" y="51.1" font-size="27.7" fill="#000">40 at. %H</text>
<text x="104.4" y="292.8" font-size="27.7" fill="#000">30 at. %H</text>
<text x="104.4" y="528.1" font-size="27.7" fill="#000">20 at. %H</text>
<text x="104.4" y="769.6" font-size="27.7" fill="#000">10 at. %H</text>
<rect x="482.7" y="23.8" width="180.3" height="121.2" fill="#fff" stroke="#8a8a8a" stroke-width="1.5"/>
<line x1="486.7" y1="40.1" x2="538.5" y2="40.1" stroke="#f0b4be" stroke-width="3.2" stroke-linecap="round"/>
<text x="545.6" y="48.4" font-size="23.4" fill="#000">C-C_MLP</text>
<line x1="486.7" y1="69.7" x2="538.5" y2="69.7" stroke="#b2e3f5" stroke-width="3.2" stroke-linecap="round"/>
<text x="545.6" y="78" font-size="23.4" fill="#000">C-H_MLP</text>
<path d="M486.7,99.1h12 M517.7,99.1h12" stroke="#f0b4be" stroke-width="3.2" stroke-linecap="round"/>
<text x="545.6" y="107.4" font-size="23.4" fill="#000">C-C_AIMD</text>
<path d="M486.7,128.5h12 M517.7,128.5h12" stroke="#b2e3f5" stroke-width="3.2" stroke-linecap="round"/>
<text x="545.6" y="136.8" font-size="23.4" fill="#000">C-H_AIMD</text>
<rect x="478.4" y="262.4" width="186.8" height="124.2" fill="#fff" stroke="#8a8a8a" stroke-width="1.5"/>
<line x1="482.4" y1="279.1" x2="535.1" y2="279.1" stroke="#e8868e" stroke-width="3.2" stroke-linecap="round"/>
<text x="542.6" y="287.4" font-size="24.5" fill="#000">C-C_MLP</text>
<line x1="482.4" y1="309.5" x2="535.1" y2="309.5" stroke="#88d4f0" stroke-width="3.2" stroke-linecap="round"/>
<text x="542.6" y="317.8" font-size="24.5" fill="#000">C-H_MLP</text>
<path d="M482.4,339.5h12 M513.4,339.5h12" stroke="#e8868e" stroke-width="3.2" stroke-linecap="round"/>
<text x="542.6" y="347.8" font-size="24.5" fill="#000">C-C_AIMD</text>
<path d="M482.4,369.9h12 M513.4,369.9h12" stroke="#88d4f0" stroke-width="3.2" stroke-linecap="round"/>
<text x="542.6" y="378.2" font-size="24.5" fill="#000">C-H_AIMD</text>
<rect x="474.7" y="498.8" width="192" height="128.5" fill="#fff" stroke="#8a8a8a" stroke-width="1.5"/>
<line x1="479" y1="516.1" x2="533.9" y2="516.1" stroke="#e35d65" stroke-width="3.2" stroke-linecap="round"/>
<text x="541.8" y="524.4" font-size="25.1" fill="#000">C-C_MLP</text>
<line x1="479" y1="547.4" x2="533.9" y2="547.4" stroke="#5cbdef" stroke-width="3.2" stroke-linecap="round"/>
<text x="541.8" y="555.7" font-size="25.1" fill="#000">C-H_MLP</text>
<path d="M479,578.3h12 M510,578.3h12" stroke="#e35d65" stroke-width="3.2" stroke-linecap="round"/>
<text x="541.8" y="586.6" font-size="25.1" fill="#000">C-C_AIMD</text>
<path d="M479,609.3h12 M510,609.3h12" stroke="#5cbdef" stroke-width="3.2" stroke-linecap="round"/>
<text x="541.8" y="617.6" font-size="25.1" fill="#000">C-H_AIMD</text>
<rect x="473.4" y="735.6" width="191.8" height="128.2" fill="#fff" stroke="#8a8a8a" stroke-width="1.5"/>
<line x1="477.4" y1="752.8" x2="532.6" y2="752.8" stroke="#b80c0e" stroke-width="3.2" stroke-linecap="round"/>
<text x="539.6" y="761.1" font-size="25.1" fill="#000">C-C_MLP</text>
<line x1="477.4" y1="784.2" x2="532.6" y2="784.2" stroke="#2a6aa5" stroke-width="3.2" stroke-linecap="round"/>
<text x="539.6" y="792.5" font-size="25.1" fill="#000">C-H_MLP</text>
<path d="M477.4,815.6h12 M508.4,815.6h12" stroke="#b80c0e" stroke-width="3.2" stroke-linecap="round"/>
<text x="539.6" y="823.9" font-size="25.1" fill="#000">C-C_AIMD</text>
<path d="M477.4,846.4h12 M508.4,846.4h12" stroke="#2a6aa5" stroke-width="3.2" stroke-linecap="round"/>
<text x="539.6" y="854.7" font-size="25.1" fill="#000">C-H_AIMD</text>
</g>
<g id="pc">
<clipPath id="cc"><rect x="802.1" y="529.5" width="638.6999999999999" height="449.0"/></clipPath>
<g clip-path="url(#cc)" fill="none" stroke-linejoin="round">
<path d="M802.1,978.5 L914.7,978.5 L917.6,978.1 L919.3,976.6 L920.5,972.9 L921.4,967.6 L923.1,948.8 L927.3,851.5 L928.7,827 L929.8,818.1 L931.8,811.4 L932.8,806.2 L936.4,764 L937.1,758.3 L937.9,756.2 L938.6,758.1 L939.1,762.3 L940.4,780.8 L945.3,901.8 L947.9,946.4 L949.4,961.1 L951,970.6 L952.8,975.6 L953.9,977 L955.4,977.9 L960.7,978.5 L999.9,978.3 L1003.2,977.8 L1005.7,977 L1007.8,975.7 L1009.6,973.8 L1011.2,971.2 L1012.9,967.6 L1016,956.7 L1019.1,940.3 L1026.6,891.7 L1028.7,882.9 L1029.8,880.6 L1030.9,879.7 L1031.8,880 L1032.8,881.3 L1034.6,886.2 L1042.2,920.1 L1044.3,927.1 L1046.4,932.7 L1048.8,936.8 L1051.7,939.6 L1055.7,941.7 L1061,943 L1066.3,943.1 L1075.3,940.7 L1079.1,940.4 L1082.9,941.5 L1090.8,945.7 L1094.6,946.2 L1097.7,945.2 L1104.5,941.5 L1107.4,940.5 L1110.9,940.4 L1118.2,941.7 L1122,941.1 L1125.8,938.7 L1134,931.4 L1136.2,930.2 L1138.2,929.8 L1140.2,930.2 L1142.4,931.4 L1150.5,939.5 L1154.1,941.8 L1155.9,942.1 L1157.8,941.9 L1165.1,938.9 L1168.5,938.5 L1172,939.6 L1179.5,944.2 L1182.9,945.1 L1186,944.7 L1193.5,941.4 L1197.2,940.7 L1200.8,941.4 L1208.7,944.6 L1212.7,944.9 L1216.5,943.4 L1224.9,937.9 L1227.1,937 L1229.3,936.8 L1233.5,937.8 L1242.6,942.6 L1247.2,943.5 L1250.3,943.1 L1260.7,940.8 L1275.1,941.5 L1289.7,939.7 L1294.4,940 L1308.1,942.4 L1313.6,942.1 L1324,940.3 L1328.6,939.9 L1333.1,940.3 L1342.2,942.3 L1346.1,942.5 L1350.3,941.8 L1358.7,939.3 L1362.3,938.9 L1366.7,939.6 L1375.8,942.7 L1379.8,943.2 L1382.9,942.8 L1390.1,940.7 L1393.7,940.2 L1397.3,940.4 L1404.8,941.7 L1408.3,941.7 L1411.6,941 L1418.5,938.6 L1422,938.1 L1426.5,939.3 L1436,944.8 L1438.4,945.4 L1440.8,945.3" stroke="#e8878d" stroke-width="2" stroke-dasharray="11 7"/>
<path d="M802.1,978.5 L892.1,978.5 L894.1,977.9 L895.2,975.5 L896.1,968.9 L896.8,956.6 L897.9,916.8 L901.2,631.4 L901.7,600.1 L902.3,589 L902.8,600.1 L903.4,631.4 L905.6,840.4 L906.8,925.8 L908.3,966.6 L909.2,974.7 L909.8,976.7 L910.7,978.1 L913.4,978.5 L970.9,978.4 L976.2,977.8 L979.5,976 L981.3,973.8 L982.9,970.7 L985.9,961.4 L988.6,947.7 L995.2,907 L997.2,899.3 L998.1,897.4 L999,896.6 L1000.1,898.1 L1001.4,903.1 L1005.7,930.1 L1008.1,940.7 L1009.6,944.7 L1011.2,947.7 L1013.4,950.5 L1015.2,951.6 L1016.3,951.4 L1017.4,950.3 L1022,942.5 L1024.7,939.8 L1029.5,938.3 L1038,937.3 L1046.4,937.8 L1057,939.7 L1069.6,939.6 L1079.1,941.5 L1082.4,941.8 L1087.3,940.8 L1096.3,936.4 L1100.5,935.8 L1104.5,936.8 L1113.4,941.1 L1118.3,941.9 L1139.1,938.6 L1148.3,936.7 L1152.5,936.4 L1157.8,937.3 L1169.2,942 L1174.7,943.2 L1179.8,942.9 L1191.7,940.1 L1198.1,939.7 L1208.8,940.3 L1226,942.2 L1230.7,941.9 L1239.7,940.2 L1243.5,940 L1247.5,940.7 L1255.2,943.1 L1258.5,943.5 L1262.9,942.6 L1272.2,937.4 L1274.4,936.6 L1276.5,936.4 L1280.6,937.6 L1290.1,945 L1292.4,946.2 L1294.6,946.6 L1296.6,946.3 L1298.6,945.5 L1307.9,938.1 L1310.3,936.9 L1312.5,936.5 L1316.1,937.3 L1325.1,943 L1327.3,943.9 L1329.5,944.3 L1333.1,943.6 L1341.7,939 L1345.9,937.9 L1349.9,938.6 L1359.2,943.2 L1364,944.2 L1368.5,943.6 L1379.1,939.9 L1384.6,939.1 L1389.7,939.1 L1396.4,939.8 L1410.7,942.8 L1415.1,943.2 L1420.2,942.8 L1432.4,939.5 L1436.2,939.5 L1440.8,940.3" stroke="#86cfea" stroke-width="2" stroke-dasharray="11 7"/>
<path d="M802.1,978.5 L913.8,978.5 L916,978.2 L917.2,977.1 L918.5,972.7 L919.4,965.7 L922.4,921.5 L923.4,912.2 L923.6,911.9 L924,912.4 L924.5,915.6 L927.1,941.6 L927.6,943 L928,942.5 L928.9,936.4 L931.1,899.8 L935.9,783.3 L937.1,764.4 L938.2,758.3 L938.8,759.2 L939.5,764.4 L940.8,783.3 L945.5,900 L948.1,945.3 L949.5,960.4 L951.2,970.3 L953.2,975.8 L954.3,977.1 L955.7,978 L961.2,978.5 L997.2,978.2 L1003.6,977.1 L1005.9,975.9 L1007.9,974.3 L1011.4,969.6 L1014.7,961.8 L1018.2,949.7 L1026.6,914 L1029.3,907 L1030.6,905.3 L1031.8,904.7 L1033.7,905.6 L1035.5,908.2 L1044.3,929.3 L1046.8,934 L1049.5,937.4 L1052.1,939.5 L1055.2,941 L1071.1,944.8 L1075.5,944.7 L1082.9,943.2 L1086.2,942.9 L1089.5,943.2 L1095.5,944.7 L1099.2,944.7 L1103,943.6 L1110.7,939.8 L1114.3,939 L1117.8,939.4 L1125.3,941.9 L1128.6,942 L1130.6,941.3 L1132.8,940 L1141.1,932.9 L1143.2,931.9 L1145,931.6 L1147.2,932 L1149.5,933.4 L1157,940.6 L1159.9,942.8 L1162.7,944.1 L1165.8,944.6 L1175.3,943.9 L1184.2,944.1 L1188.2,943.8 L1193,942.7 L1204.3,938.9 L1210.9,938 L1217.4,938.7 L1235.5,942.4 L1240.8,943.1 L1245.5,942.7 L1255.6,940.2 L1260.9,939.7 L1272.5,940.5 L1285.1,940.3 L1299.5,942.4 L1313.4,941.2 L1325.6,941.9 L1330.2,941.2 L1338.8,938.6 L1342.2,938.2 L1346.3,938.8 L1355,942.4 L1359.2,943.3 L1363,943 L1373.3,940.7 L1376.9,940.8 L1384.6,942 L1388.4,942.1 L1400.3,939.9 L1405,939.5 L1425.8,940.6 L1429.6,941.4 L1437.1,943.7 L1440.8,944.1" stroke="#e8878d" stroke-width="2"/>
<path d="M802.1,978.5 L887.7,978.5 L890.4,977.9 L891.9,975.8 L893,971.4 L893.9,964 L895.5,935.4 L899.9,763.8 L900.6,744.8 L901.4,737 L902.1,741.7 L903,763.8 L906.1,894.9 L907.8,943.9 L908.7,959.6 L909.8,970.3 L911,975.8 L912,977.4 L913,978.2 L916.7,978.5 L965.1,978.4 L970.5,977.6 L974.2,975.4 L976,973.3 L977.6,970.4 L980.7,962.1 L983.9,949.4 L991.3,912.4 L993.9,904.2 L995,902.2 L995.9,901.6 L997.4,902.8 L998.8,906.2 L1003.7,924.4 L1005.9,930.9 L1007.9,934.8 L1010.1,936.9 L1011.6,937.4 L1013.2,937.4 L1022.2,934.7 L1027.8,934.5 L1032,935.4 L1045.7,939.8 L1071.1,943.8 L1077.6,943.6 L1090.4,940.3 L1105,941 L1119.8,938.4 L1124.7,939.1 L1133.8,942.5 L1137.7,942.9 L1141.7,941.8 L1149.7,937.7 L1153.2,937 L1155.4,937.3 L1157.8,938.2 L1168,946.2 L1170.5,947.4 L1172.9,947.9 L1175.3,947.6 L1177.6,946.6 L1187.5,940.3 L1192.1,939.2 L1195.2,939.5 L1201.9,941.1 L1205,941.3 L1208.7,940.9 L1217.2,939.1 L1222.5,938.9 L1240.4,941.9 L1248.1,942.6 L1253.4,942.1 L1264.1,939.3 L1268.7,938.9 L1273.1,939.7 L1281.8,943.2 L1285.7,943.8 L1290.2,942.8 L1299.2,938.3 L1303.2,937.6 L1307.4,938.7 L1316.3,943.5 L1320.5,944.4 L1324,943.8 L1332.2,940.3 L1336.4,939.4 L1339.7,939.6 L1347.2,941.5 L1351,941.8 L1354.6,941.4 L1362.7,939.4 L1366.9,939.1 L1370.5,939.8 L1378.9,942.4 L1383.7,942.9 L1395.9,941.4 L1409,941.4 L1420,938.8 L1424,938.4 L1428.7,939.1 L1437.1,942.2 L1440.8,943.1" stroke="#86cfea" stroke-width="2"/>
</g>
<rect x="802.1" y="529.5" width="638.7" height="449" fill="none" stroke="#000" stroke-width="1.6"/>
<line x1="802.1" y1="978.5" x2="802.1" y2="986.7" stroke="#000" stroke-width="1.6"/>
<text x="802.1" y="1015" font-size="26.5" text-anchor="middle" textLength="16.5" lengthAdjust="spacingAndGlyphs" fill="#000">0</text>
<line x1="847.7" y1="978.5" x2="847.7" y2="982.3" stroke="#000" stroke-width="1.6"/>
<line x1="893.3" y1="978.5" x2="893.3" y2="986.7" stroke="#000" stroke-width="1.6"/>
<text x="893.3" y="1015" font-size="26.5" text-anchor="middle" textLength="16.5" lengthAdjust="spacingAndGlyphs" fill="#000">1</text>
<line x1="939" y1="978.5" x2="939" y2="982.3" stroke="#000" stroke-width="1.6"/>
<line x1="984.6" y1="978.5" x2="984.6" y2="986.7" stroke="#000" stroke-width="1.6"/>
<text x="984.6" y="1015" font-size="26.5" text-anchor="middle" textLength="16.5" lengthAdjust="spacingAndGlyphs" fill="#000">2</text>
<line x1="1030.2" y1="978.5" x2="1030.2" y2="982.3" stroke="#000" stroke-width="1.6"/>
<line x1="1075.8" y1="978.5" x2="1075.8" y2="986.7" stroke="#000" stroke-width="1.6"/>
<text x="1075.8" y="1015" font-size="26.5" text-anchor="middle" textLength="16.5" lengthAdjust="spacingAndGlyphs" fill="#000">3</text>
<line x1="1121.4" y1="978.5" x2="1121.4" y2="982.3" stroke="#000" stroke-width="1.6"/>
<line x1="1167.1" y1="978.5" x2="1167.1" y2="986.7" stroke="#000" stroke-width="1.6"/>
<text x="1167.1" y="1015" font-size="26.5" text-anchor="middle" textLength="16.5" lengthAdjust="spacingAndGlyphs" fill="#000">4</text>
<line x1="1212.7" y1="978.5" x2="1212.7" y2="982.3" stroke="#000" stroke-width="1.6"/>
<line x1="1258.3" y1="978.5" x2="1258.3" y2="986.7" stroke="#000" stroke-width="1.6"/>
<text x="1258.3" y="1015" font-size="26.5" text-anchor="middle" textLength="16.5" lengthAdjust="spacingAndGlyphs" fill="#000">5</text>
<line x1="1303.9" y1="978.5" x2="1303.9" y2="982.3" stroke="#000" stroke-width="1.6"/>
<line x1="1349.5" y1="978.5" x2="1349.5" y2="986.7" stroke="#000" stroke-width="1.6"/>
<text x="1349.5" y="1015" font-size="26.5" text-anchor="middle" textLength="16.5" lengthAdjust="spacingAndGlyphs" fill="#000">6</text>
<line x1="1395.2" y1="978.5" x2="1395.2" y2="982.3" stroke="#000" stroke-width="1.6"/>
<line x1="1440.8" y1="978.5" x2="1440.8" y2="986.7" stroke="#000" stroke-width="1.6"/>
<text x="1440.8" y="1015" font-size="26.5" text-anchor="middle" textLength="16.5" lengthAdjust="spacingAndGlyphs" fill="#000">7</text>
<line x1="793.1" y1="978.5" x2="802.1" y2="978.5" stroke="#000" stroke-width="1.6"/>
<text x="787.6" y="987.2" font-size="28.4" text-anchor="end" textLength="17.1" lengthAdjust="spacingAndGlyphs" fill="#000">0</text>
<line x1="797.9" y1="922.3" x2="802.1" y2="922.3" stroke="#000" stroke-width="1.6"/>
<line x1="793.1" y1="866.1" x2="802.1" y2="866.1" stroke="#000" stroke-width="1.6"/>
<text x="787.6" y="874.9" font-size="28.4" text-anchor="end" textLength="17.1" lengthAdjust="spacingAndGlyphs" fill="#000">3</text>
<line x1="797.9" y1="810" x2="802.1" y2="810" stroke="#000" stroke-width="1.6"/>
<line x1="793.1" y1="753.8" x2="802.1" y2="753.8" stroke="#000" stroke-width="1.6"/>
<text x="787.6" y="762.5" font-size="28.4" text-anchor="end" textLength="17.1" lengthAdjust="spacingAndGlyphs" fill="#000">6</text>
<line x1="797.9" y1="697.6" x2="802.1" y2="697.6" stroke="#000" stroke-width="1.6"/>
<line x1="793.1" y1="641.5" x2="802.1" y2="641.5" stroke="#000" stroke-width="1.6"/>
<text x="787.6" y="650.2" font-size="28.4" text-anchor="end" textLength="17.1" lengthAdjust="spacingAndGlyphs" fill="#000">9</text>
<line x1="797.9" y1="585.3" x2="802.1" y2="585.3" stroke="#000" stroke-width="1.6"/>
<line x1="793.1" y1="529.1" x2="802.1" y2="529.1" stroke="#000" stroke-width="1.6"/>
<text x="787.6" y="537.8" font-size="28.4" text-anchor="end" textLength="31.8" lengthAdjust="spacingAndGlyphs" fill="#000">12</text>
<text x="1132.1" y="1053.6" font-size="35.5" text-anchor="middle" textLength="203.4" lengthAdjust="spacingAndGlyphs" fill="#000">Distance(Å)</text>
<text transform="translate(752.0,753.2) rotate(-90)" font-size="37" text-anchor="middle" textLength="452.6" lengthAdjust="spacingAndGlyphs">Radial Distribution Function</text>
<text x="676" y="519.5" font-size="41" font-weight="bold" fill="#000">(c)</text>
<rect x="1073.4" y="540.8" width="359.1" height="144.4" fill="#fff" stroke="#444" stroke-width="1.2"/>
<line x1="1076.1" y1="560.1" x2="1144.7" y2="560.1" stroke="#e8878d" stroke-width="2"/>
<line x1="1076.1" y1="595.1" x2="1144.7" y2="595.1" stroke="#86cfea" stroke-width="2"/>
<path d="M1076.1,630.9h11 M1099,630.9h11.5 M1122,630.9h12" stroke="#c8141a" stroke-width="2.2"/>
<path d="M1076.1,665.8h11 M1099,665.8h11.5 M1122,665.8h12" stroke="#86cfea" stroke-width="2.2"/>
<text x="1151.3" y="570" font-size="28.6" textLength="259.2" lengthAdjust="spacingAndGlyphs" fill="#000">C-C_AIMD_quench</text>
<text x="1151.3" y="605" font-size="28.6" textLength="259.2" lengthAdjust="spacingAndGlyphs" fill="#000">C-H_AIMD_quench</text>
<text x="1151.3" y="640.8" font-size="28.6" textLength="277.5" lengthAdjust="spacingAndGlyphs" fill="#000">C-C_MLP_depostion</text>
<text x="1151.3" y="675.7" font-size="28.6" textLength="277.5" lengthAdjust="spacingAndGlyphs" fill="#000">C-H_MLP_depostion</text>
</g>
</svg></body></html>
